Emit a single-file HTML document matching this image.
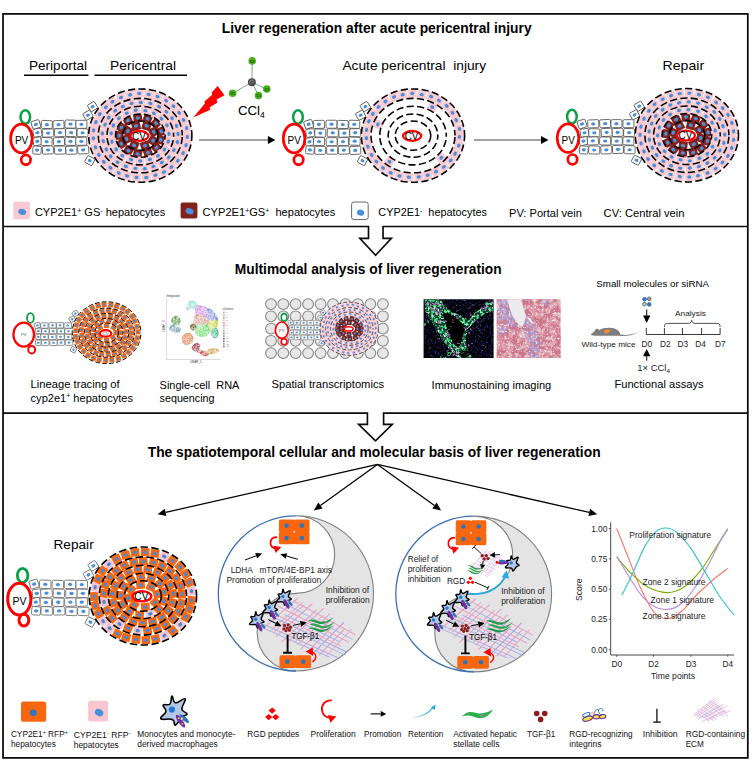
<!DOCTYPE html>
<html lang="en"><head><meta charset="utf-8"><title>Liver regeneration after acute pericentral injury</title>
<style>html,body{margin:0;padding:0;background:#fff}svg{display:block}</style></head>
<body>
<svg width="752" height="761" viewBox="0 0 752 761" font-family='"Liberation Sans", sans-serif'>
<rect width="752" height="761" fill="#fff"/>
<g fill="none" stroke="#0a0a0a" stroke-width="1.75" stroke-linejoin="miter">
<rect x="3.05" y="13.9" width="744.75" height="744"/>
<path d="M3 226.5H368.5V238.3H359.8L375.6 255.2L391.4 238.3H383.05V226.5H748" stroke-width="1.65"/>
<path d="M3 413.1H367.4V424.3H358.6L375.5 440.8L392.3 424.3H383.6V413.1H748" stroke-width="1.65"/>
</g>
<text x="221.8" y="33" font-size="13.75" font-weight="bold" text-anchor="start" fill="#000" textLength="309.8" lengthAdjust="spacingAndGlyphs" >Liver regeneration after acute pericentral injury</text>
<text x="29" y="70.2" font-size="13.5" font-weight="normal" text-anchor="start" fill="#000" textLength="58" lengthAdjust="spacingAndGlyphs" >Periportal</text>
<line x1="24" y1="75.3" x2="88.5" y2="75.3" stroke="#000" stroke-width="1.5"/>
<text x="110" y="70.2" font-size="13.5" font-weight="normal" text-anchor="start" fill="#000" textLength="66" lengthAdjust="spacingAndGlyphs" >Pericentral</text>
<line x1="94.5" y1="75.3" x2="187" y2="75.3" stroke="#000" stroke-width="1.5"/>
<g transform="translate(0 0) scale(1)">
<g transform="translate(35.89 124.48) rotate(-18)"><rect x="-4.2" y="-4" width="8.4" height="8" rx="1.2" fill="#fff" stroke="#4a4a4a" stroke-width="0.8"/><ellipse rx="2.1" ry="1.6" fill="#4a90d9"/></g>
<g transform="translate(46.79 124.55) rotate(2.65)"><rect x="-5.5" y="-4" width="11" height="8" rx="1.2" fill="#fff" stroke="#4a4a4a" stroke-width="0.8"/><ellipse rx="2.1" ry="1.6" fill="#4a90d9"/></g>
<g transform="translate(58.57 124.57) rotate(-2.83)"><rect x="-5.5" y="-4" width="11" height="8" rx="1.2" fill="#fff" stroke="#4a4a4a" stroke-width="0.8"/><ellipse rx="2.1" ry="1.6" fill="#4a90d9"/></g>
<g transform="translate(70.52 124.07) rotate(0.89)"><rect x="-5.5" y="-4" width="11" height="8" rx="1.2" fill="#fff" stroke="#4a4a4a" stroke-width="0.8"/><ellipse rx="2.1" ry="1.6" fill="#4a90d9"/></g>
<g transform="translate(81.4 124.33) rotate(-0.19)"><rect x="-5.5" y="-4" width="11" height="8" rx="1.2" fill="#fff" stroke="#4a4a4a" stroke-width="0.8"/><ellipse rx="2.1" ry="1.6" fill="#4a90d9"/></g>
<g transform="translate(37.41 132.73) rotate(-8)"><rect x="-4.2" y="-4" width="8.4" height="8" rx="1.2" fill="#fff" stroke="#4a4a4a" stroke-width="0.8"/><ellipse rx="2.1" ry="1.6" fill="#4a90d9"/></g>
<g transform="translate(48.13 133.06) rotate(-1.32)"><rect x="-5.5" y="-4" width="11" height="8" rx="1.2" fill="#fff" stroke="#4a4a4a" stroke-width="0.8"/><ellipse rx="2.1" ry="1.6" fill="#4a90d9"/></g>
<g transform="translate(60.04 132.68) rotate(-2.04)"><rect x="-5.5" y="-4" width="11" height="8" rx="1.2" fill="#fff" stroke="#4a4a4a" stroke-width="0.8"/><ellipse rx="2.1" ry="1.6" fill="#4a90d9"/></g>
<g transform="translate(71.1 132.6) rotate(0.7)"><rect x="-5.5" y="-4" width="11" height="8" rx="1.2" fill="#fff" stroke="#4a4a4a" stroke-width="0.8"/><ellipse rx="2.1" ry="1.6" fill="#4a90d9"/></g>
<g transform="translate(82.57 132.73) rotate(2.23)"><rect x="-5.5" y="-4" width="11" height="8" rx="1.2" fill="#fff" stroke="#4a4a4a" stroke-width="0.8"/><ellipse rx="2.1" ry="1.6" fill="#4a90d9"/></g>
<g transform="translate(37.3 141.37) rotate(-12)"><rect x="-4.2" y="-4" width="8.4" height="8" rx="1.2" fill="#fff" stroke="#4a4a4a" stroke-width="0.8"/><ellipse rx="2.1" ry="1.6" fill="#4a90d9"/></g>
<g transform="translate(46.63 141.61) rotate(2.77)"><rect x="-5.5" y="-4" width="11" height="8" rx="1.2" fill="#fff" stroke="#4a4a4a" stroke-width="0.8"/><ellipse rx="2.1" ry="1.6" fill="#4a90d9"/></g>
<g transform="translate(58.95 141.61) rotate(-1.77)"><rect x="-5.5" y="-4" width="11" height="8" rx="1.2" fill="#fff" stroke="#4a4a4a" stroke-width="0.8"/><ellipse rx="2.1" ry="1.6" fill="#4a90d9"/></g>
<g transform="translate(70.51 141.38) rotate(2.8)"><rect x="-5.5" y="-4" width="11" height="8" rx="1.2" fill="#fff" stroke="#4a4a4a" stroke-width="0.8"/><ellipse rx="2.1" ry="1.6" fill="#4a90d9"/></g>
<g transform="translate(81.33 141.29) rotate(-0.83)"><rect x="-5.5" y="-4" width="11" height="8" rx="1.2" fill="#fff" stroke="#4a4a4a" stroke-width="0.8"/><ellipse rx="2.1" ry="1.6" fill="#4a90d9"/></g>
<g transform="translate(37.04 150.16) rotate(4)"><rect x="-4.2" y="-4" width="8.4" height="8" rx="1.2" fill="#fff" stroke="#4a4a4a" stroke-width="0.8"/><ellipse rx="2.1" ry="1.6" fill="#4a90d9"/></g>
<g transform="translate(47.94 150) rotate(-2.98)"><rect x="-5.5" y="-4" width="11" height="8" rx="1.2" fill="#fff" stroke="#4a4a4a" stroke-width="0.8"/><ellipse rx="2.1" ry="1.6" fill="#4a90d9"/></g>
<g transform="translate(60.05 150.09) rotate(-1.14)"><rect x="-5.5" y="-4" width="11" height="8" rx="1.2" fill="#fff" stroke="#4a4a4a" stroke-width="0.8"/><ellipse rx="2.1" ry="1.6" fill="#4a90d9"/></g>
<g transform="translate(71.38 150.22) rotate(-1.11)"><rect x="-5.5" y="-4" width="11" height="8" rx="1.2" fill="#fff" stroke="#4a4a4a" stroke-width="0.8"/><ellipse rx="2.1" ry="1.6" fill="#4a90d9"/></g>
<g transform="translate(83.18 149.81) rotate(-2.66)"><rect x="-5.5" y="-4" width="11" height="8" rx="1.2" fill="#fff" stroke="#4a4a4a" stroke-width="0.8"/><ellipse rx="2.1" ry="1.6" fill="#4a90d9"/></g>
<g transform="translate(92.6 106.6) rotate(-32)"><rect x="-4.1" y="-3.8" width="8.2" height="7.6" rx="1.1" fill="#fff" stroke="#4a4a4a" stroke-width="0.8"/><ellipse rx="2" ry="1.6" fill="#4a90d9"/></g>
<g transform="translate(88 115.2) rotate(-28)"><rect x="-4.1" y="-3.8" width="8.2" height="7.6" rx="1.1" fill="#fff" stroke="#4a4a4a" stroke-width="0.8"/><ellipse rx="2" ry="1.6" fill="#4a90d9"/></g>
<g transform="translate(89.8 160.6) rotate(28)"><rect x="-4.1" y="-3.8" width="8.2" height="7.6" rx="1.1" fill="#fff" stroke="#4a4a4a" stroke-width="0.8"/><ellipse rx="2" ry="1.6" fill="#4a90d9"/></g>
<ellipse cx="25.3" cy="117" rx="4.8" ry="6.8" fill="#fff" stroke="#0a9f45" stroke-width="2.5"/>
<ellipse cx="25.9" cy="159.8" rx="4.7" ry="4.9" fill="#fff" stroke="#f00" stroke-width="2.7"/>
<ellipse cx="21.4" cy="138.5" rx="10.8" ry="14.3" fill="#fff" stroke="#f00" stroke-width="2.7"/>
<text x="21.6" y="144.3" font-size="10" font-weight="normal" text-anchor="middle" fill="#000" >PV</text>
</g>
<ellipse cx="140.3" cy="135.6" rx="51.6" ry="46.7" fill="#fff"/>
<g transform="translate(153.02 140.53) rotate(122.56)"><rect x="-4.35" y="-4.35" width="8.7" height="8.7" rx="0.6" fill="#82221e"/><ellipse rx="2.15" ry="1.7" fill="#4a90d9"/></g>
<g transform="translate(144.91 145.67) rotate(162.28)"><rect x="-4.35" y="-4.35" width="8.7" height="8.7" rx="0.6" fill="#82221e"/><ellipse rx="2.15" ry="1.7" fill="#4a90d9"/></g>
<g transform="translate(134.15 145.22) rotate(-157.02)"><rect x="-4.35" y="-4.35" width="8.7" height="8.7" rx="0.6" fill="#82221e"/><ellipse rx="2.15" ry="1.7" fill="#4a90d9"/></g>
<g transform="translate(126.69 138.92) rotate(-118.82)"><rect x="-4.35" y="-4.35" width="8.7" height="8.7" rx="0.6" fill="#82221e"/><ellipse rx="2.15" ry="1.7" fill="#4a90d9"/></g>
<g transform="translate(127.84 131.11) rotate(-61.68)"><rect x="-4.35" y="-4.35" width="8.7" height="8.7" rx="0.6" fill="#82221e"/><ellipse rx="2.15" ry="1.7" fill="#4a90d9"/></g>
<g transform="translate(136.03 125.92) rotate(-13.03)"><rect x="-4.35" y="-4.35" width="8.7" height="8.7" rx="0.6" fill="#82221e"/><ellipse rx="2.15" ry="1.7" fill="#4a90d9"/></g>
<g transform="translate(146.54 125.83) rotate(15.2)"><rect x="-4.35" y="-4.35" width="8.7" height="8.7" rx="0.6" fill="#82221e"/><ellipse rx="2.15" ry="1.7" fill="#4a90d9"/></g>
<g transform="translate(153.65 131.83) rotate(62.18)"><rect x="-4.35" y="-4.35" width="8.7" height="8.7" rx="0.6" fill="#82221e"/><ellipse rx="2.15" ry="1.7" fill="#4a90d9"/></g>
<g transform="translate(160.65 139.92) rotate(105.58)"><rect x="-4.35" y="-4.35" width="8.7" height="8.7" rx="0.6" fill="#82221e"/><ellipse rx="2.15" ry="1.7" fill="#4a90d9"/></g>
<g transform="translate(156.48 147.63) rotate(137.58)"><rect x="-4.35" y="-4.35" width="8.7" height="8.7" rx="0.6" fill="#82221e"/><ellipse rx="2.15" ry="1.7" fill="#4a90d9"/></g>
<g transform="translate(147.85 152.66) rotate(161.71)"><rect x="-4.35" y="-4.35" width="8.7" height="8.7" rx="0.6" fill="#82221e"/><ellipse rx="2.15" ry="1.7" fill="#4a90d9"/></g>
<g transform="translate(137.57 153.94) rotate(-169.13)"><rect x="-4.35" y="-4.35" width="8.7" height="8.7" rx="0.6" fill="#82221e"/><ellipse rx="2.15" ry="1.7" fill="#4a90d9"/></g>
<g transform="translate(128.43 150.65) rotate(-151.41)"><rect x="-4.35" y="-4.35" width="8.7" height="8.7" rx="0.6" fill="#82221e"/><ellipse rx="2.15" ry="1.7" fill="#4a90d9"/></g>
<g transform="translate(121.25 143.87) rotate(-125.95)"><rect x="-4.35" y="-4.35" width="8.7" height="8.7" rx="0.6" fill="#82221e"/><ellipse rx="2.15" ry="1.7" fill="#4a90d9"/></g>
<g transform="translate(119.19 135.53) rotate(-86.52)"><rect x="-4.35" y="-4.35" width="8.7" height="8.7" rx="0.6" fill="#82221e"/><ellipse rx="2.15" ry="1.7" fill="#4a90d9"/></g>
<g transform="translate(121.36 127.5) rotate(-54.84)"><rect x="-4.35" y="-4.35" width="8.7" height="8.7" rx="0.6" fill="#82221e"/><ellipse rx="2.15" ry="1.7" fill="#4a90d9"/></g>
<g transform="translate(127.86 120.48) rotate(-26.3)"><rect x="-4.35" y="-4.35" width="8.7" height="8.7" rx="0.6" fill="#82221e"/><ellipse rx="2.15" ry="1.7" fill="#4a90d9"/></g>
<g transform="translate(137.72 117.95) rotate(-6.91)"><rect x="-4.35" y="-4.35" width="8.7" height="8.7" rx="0.6" fill="#82221e"/><ellipse rx="2.15" ry="1.7" fill="#4a90d9"/></g>
<g transform="translate(147.56 118.75) rotate(20.68)"><rect x="-4.35" y="-4.35" width="8.7" height="8.7" rx="0.6" fill="#82221e"/><ellipse rx="2.15" ry="1.7" fill="#4a90d9"/></g>
<g transform="translate(156.09 123.3) rotate(42.18)"><rect x="-4.35" y="-4.35" width="8.7" height="8.7" rx="0.6" fill="#82221e"/><ellipse rx="2.15" ry="1.7" fill="#4a90d9"/></g>
<g transform="translate(161.31 131.45) rotate(70.04)"><rect x="-4.35" y="-4.35" width="8.7" height="8.7" rx="0.6" fill="#82221e"/><ellipse rx="2.15" ry="1.7" fill="#4a90d9"/></g>
<g transform="translate(168.19 141.51) rotate(108.96)"><rect x="-4.35" y="-4.35" width="8.7" height="8.7" rx="0.6" fill="#facad2"/><ellipse rx="2.15" ry="1.7" fill="#4a90d9"/></g>
<g transform="translate(164.42 149.55) rotate(126.03)"><rect x="-4.35" y="-4.35" width="8.7" height="8.7" rx="0.6" fill="#facad2"/><ellipse rx="2.15" ry="1.7" fill="#4a90d9"/></g>
<g transform="translate(157.96 155.86) rotate(141.88)"><rect x="-4.35" y="-4.35" width="8.7" height="8.7" rx="0.6" fill="#facad2"/><ellipse rx="2.15" ry="1.7" fill="#4a90d9"/></g>
<g transform="translate(149.88 159.44) rotate(162.35)"><rect x="-4.35" y="-4.35" width="8.7" height="8.7" rx="0.6" fill="#facad2"/><ellipse rx="2.15" ry="1.7" fill="#4a90d9"/></g>
<g transform="translate(140.15 160.94) rotate(184.63)"><rect x="-4.35" y="-4.35" width="8.7" height="8.7" rx="0.6" fill="#facad2"/><ellipse rx="2.15" ry="1.7" fill="#4a90d9"/></g>
<g transform="translate(131.12 159.6) rotate(-159.46)"><rect x="-4.35" y="-4.35" width="8.7" height="8.7" rx="0.6" fill="#facad2"/><ellipse rx="2.15" ry="1.7" fill="#4a90d9"/></g>
<g transform="translate(122.29 155.68) rotate(-142.2)"><rect x="-4.35" y="-4.35" width="8.7" height="8.7" rx="0.6" fill="#facad2"/><ellipse rx="2.15" ry="1.7" fill="#4a90d9"/></g>
<g transform="translate(116.11 149.3) rotate(-121.86)"><rect x="-4.35" y="-4.35" width="8.7" height="8.7" rx="0.6" fill="#facad2"/><ellipse rx="2.15" ry="1.7" fill="#4a90d9"/></g>
<g transform="translate(111.95 141.73) rotate(-103.47)"><rect x="-4.35" y="-4.35" width="8.7" height="8.7" rx="0.6" fill="#facad2"/><ellipse rx="2.15" ry="1.7" fill="#4a90d9"/></g>
<g transform="translate(111.23 133.39) rotate(-88.98)"><rect x="-4.35" y="-4.35" width="8.7" height="8.7" rx="0.6" fill="#facad2"/><ellipse rx="2.15" ry="1.7" fill="#4a90d9"/></g>
<g transform="translate(113.39 125.45) rotate(-66.12)"><rect x="-4.35" y="-4.35" width="8.7" height="8.7" rx="0.6" fill="#facad2"/><ellipse rx="2.15" ry="1.7" fill="#4a90d9"/></g>
<g transform="translate(118.97 118.27) rotate(-44.2)"><rect x="-4.35" y="-4.35" width="8.7" height="8.7" rx="0.6" fill="#facad2"/><ellipse rx="2.15" ry="1.7" fill="#4a90d9"/></g>
<g transform="translate(126.75 113.18) rotate(-24.75)"><rect x="-4.35" y="-4.35" width="8.7" height="8.7" rx="0.6" fill="#facad2"/><ellipse rx="2.15" ry="1.7" fill="#4a90d9"/></g>
<g transform="translate(135.73 110.23) rotate(-11.88)"><rect x="-4.35" y="-4.35" width="8.7" height="8.7" rx="0.6" fill="#facad2"/><ellipse rx="2.15" ry="1.7" fill="#4a90d9"/></g>
<g transform="translate(145.32 110.66) rotate(5.75)"><rect x="-4.35" y="-4.35" width="8.7" height="8.7" rx="0.6" fill="#facad2"/><ellipse rx="2.15" ry="1.7" fill="#4a90d9"/></g>
<g transform="translate(153.87 113.32) rotate(29.73)"><rect x="-4.35" y="-4.35" width="8.7" height="8.7" rx="0.6" fill="#facad2"/><ellipse rx="2.15" ry="1.7" fill="#4a90d9"/></g>
<g transform="translate(161.43 118.61) rotate(47.37)"><rect x="-4.35" y="-4.35" width="8.7" height="8.7" rx="0.6" fill="#facad2"/><ellipse rx="2.15" ry="1.7" fill="#4a90d9"/></g>
<g transform="translate(166.96 125.26) rotate(59.39)"><rect x="-4.35" y="-4.35" width="8.7" height="8.7" rx="0.6" fill="#facad2"/><ellipse rx="2.15" ry="1.7" fill="#4a90d9"/></g>
<g transform="translate(168.92 133.78) rotate(81.89)"><rect x="-4.35" y="-4.35" width="8.7" height="8.7" rx="0.6" fill="#facad2"/><ellipse rx="2.15" ry="1.7" fill="#4a90d9"/></g>
<g transform="translate(168.81 157.37) rotate(134.87)"><rect x="-4.35" y="-4.35" width="8.7" height="8.7" rx="0.6" fill="#facad2"/><ellipse rx="2.15" ry="1.7" fill="#4a90d9"/></g>
<g transform="translate(161.87 162.54) rotate(150.25)"><rect x="-4.35" y="-4.35" width="8.7" height="8.7" rx="0.6" fill="#facad2"/><ellipse rx="2.15" ry="1.7" fill="#4a90d9"/></g>
<g transform="translate(153.39 166.49) rotate(162.02)"><rect x="-4.35" y="-4.35" width="8.7" height="8.7" rx="0.6" fill="#facad2"/><ellipse rx="2.15" ry="1.7" fill="#4a90d9"/></g>
<g transform="translate(144.76 168.73) rotate(172.12)"><rect x="-4.35" y="-4.35" width="8.7" height="8.7" rx="0.6" fill="#facad2"/><ellipse rx="2.15" ry="1.7" fill="#4a90d9"/></g>
<g transform="translate(135.37 168.33) rotate(-177.79)"><rect x="-4.35" y="-4.35" width="8.7" height="8.7" rx="0.6" fill="#facad2"/><ellipse rx="2.15" ry="1.7" fill="#4a90d9"/></g>
<g transform="translate(125.81 166.31) rotate(-164.42)"><rect x="-4.35" y="-4.35" width="8.7" height="8.7" rx="0.6" fill="#facad2"/><ellipse rx="2.15" ry="1.7" fill="#4a90d9"/></g>
<g transform="translate(117.54 162.15) rotate(-145.85)"><rect x="-4.35" y="-4.35" width="8.7" height="8.7" rx="0.6" fill="#facad2"/><ellipse rx="2.15" ry="1.7" fill="#4a90d9"/></g>
<g transform="translate(110.71 156.36) rotate(-128.43)"><rect x="-4.35" y="-4.35" width="8.7" height="8.7" rx="0.6" fill="#facad2"/><ellipse rx="2.15" ry="1.7" fill="#4a90d9"/></g>
<g transform="translate(106.36 149.46) rotate(-115.3)"><rect x="-4.35" y="-4.35" width="8.7" height="8.7" rx="0.6" fill="#facad2"/><ellipse rx="2.15" ry="1.7" fill="#4a90d9"/></g>
<g transform="translate(103.28 141.14) rotate(-105.97)"><rect x="-4.35" y="-4.35" width="8.7" height="8.7" rx="0.6" fill="#facad2"/><ellipse rx="2.15" ry="1.7" fill="#4a90d9"/></g>
<g transform="translate(102.42 133.35) rotate(-83.05)"><rect x="-4.35" y="-4.35" width="8.7" height="8.7" rx="0.6" fill="#facad2"/><ellipse rx="2.15" ry="1.7" fill="#4a90d9"/></g>
<g transform="translate(104.98 124.56) rotate(-67.59)"><rect x="-4.35" y="-4.35" width="8.7" height="8.7" rx="0.6" fill="#facad2"/><ellipse rx="2.15" ry="1.7" fill="#4a90d9"/></g>
<g transform="translate(108.77 117.57) rotate(-55.31)"><rect x="-4.35" y="-4.35" width="8.7" height="8.7" rx="0.6" fill="#facad2"/><ellipse rx="2.15" ry="1.7" fill="#4a90d9"/></g>
<g transform="translate(115.25 110.76) rotate(-38.46)"><rect x="-4.35" y="-4.35" width="8.7" height="8.7" rx="0.6" fill="#facad2"/><ellipse rx="2.15" ry="1.7" fill="#4a90d9"/></g>
<g transform="translate(122.77 106.53) rotate(-22.81)"><rect x="-4.35" y="-4.35" width="8.7" height="8.7" rx="0.6" fill="#facad2"/><ellipse rx="2.15" ry="1.7" fill="#4a90d9"/></g>
<g transform="translate(131.57 103.49) rotate(-7.94)"><rect x="-4.35" y="-4.35" width="8.7" height="8.7" rx="0.6" fill="#facad2"/><ellipse rx="2.15" ry="1.7" fill="#4a90d9"/></g>
<g transform="translate(140.7 102.48) rotate(4.69)"><rect x="-4.35" y="-4.35" width="8.7" height="8.7" rx="0.6" fill="#facad2"/><ellipse rx="2.15" ry="1.7" fill="#4a90d9"/></g>
<g transform="translate(150.41 103.45) rotate(16.37)"><rect x="-4.35" y="-4.35" width="8.7" height="8.7" rx="0.6" fill="#facad2"/><ellipse rx="2.15" ry="1.7" fill="#4a90d9"/></g>
<g transform="translate(159.13 106.73) rotate(27.87)"><rect x="-4.35" y="-4.35" width="8.7" height="8.7" rx="0.6" fill="#facad2"/><ellipse rx="2.15" ry="1.7" fill="#4a90d9"/></g>
<g transform="translate(166.36 111.72) rotate(41.52)"><rect x="-4.35" y="-4.35" width="8.7" height="8.7" rx="0.6" fill="#facad2"/><ellipse rx="2.15" ry="1.7" fill="#4a90d9"/></g>
<g transform="translate(172.06 118.26) rotate(60.04)"><rect x="-4.35" y="-4.35" width="8.7" height="8.7" rx="0.6" fill="#facad2"/><ellipse rx="2.15" ry="1.7" fill="#4a90d9"/></g>
<g transform="translate(176.53 125.91) rotate(69.54)"><rect x="-4.35" y="-4.35" width="8.7" height="8.7" rx="0.6" fill="#facad2"/><ellipse rx="2.15" ry="1.7" fill="#4a90d9"/></g>
<g transform="translate(178.07 134.01) rotate(86.2)"><rect x="-4.35" y="-4.35" width="8.7" height="8.7" rx="0.6" fill="#facad2"/><ellipse rx="2.15" ry="1.7" fill="#4a90d9"/></g>
<g transform="translate(177.42 141.98) rotate(105.55)"><rect x="-4.35" y="-4.35" width="8.7" height="8.7" rx="0.6" fill="#facad2"/><ellipse rx="2.15" ry="1.7" fill="#4a90d9"/></g>
<g transform="translate(173.82 150.23) rotate(118.68)"><rect x="-4.35" y="-4.35" width="8.7" height="8.7" rx="0.6" fill="#facad2"/><ellipse rx="2.15" ry="1.7" fill="#4a90d9"/></g>
<g transform="translate(186 145.18) rotate(105.79)"><rect x="-4.35" y="-4.35" width="8.7" height="8.7" rx="0.6" fill="#facad2"/><ellipse rx="2.15" ry="1.7" fill="#4a90d9"/></g>
<g transform="translate(183.08 153.04) rotate(112.37)"><rect x="-4.35" y="-4.35" width="8.7" height="8.7" rx="0.6" fill="#facad2"/><ellipse rx="2.15" ry="1.7" fill="#4a90d9"/></g>
<g transform="translate(177.82 160.64) rotate(126.46)"><rect x="-4.35" y="-4.35" width="8.7" height="8.7" rx="0.6" fill="#facad2"/><ellipse rx="2.15" ry="1.7" fill="#4a90d9"/></g>
<g transform="translate(171.37 167.09) rotate(142.71)"><rect x="-4.35" y="-4.35" width="8.7" height="8.7" rx="0.6" fill="#facad2"/><ellipse rx="2.15" ry="1.7" fill="#4a90d9"/></g>
<g transform="translate(163.91 172.09) rotate(150.56)"><rect x="-4.35" y="-4.35" width="8.7" height="8.7" rx="0.6" fill="#facad2"/><ellipse rx="2.15" ry="1.7" fill="#4a90d9"/></g>
<g transform="translate(155.46 175.14) rotate(162.38)"><rect x="-4.35" y="-4.35" width="8.7" height="8.7" rx="0.6" fill="#facad2"/><ellipse rx="2.15" ry="1.7" fill="#4a90d9"/></g>
<g transform="translate(146.32 177.54) rotate(177.4)"><rect x="-4.35" y="-4.35" width="8.7" height="8.7" rx="0.6" fill="#facad2"/><ellipse rx="2.15" ry="1.7" fill="#4a90d9"/></g>
<g transform="translate(136.56 177.5) rotate(-177.81)"><rect x="-4.35" y="-4.35" width="8.7" height="8.7" rx="0.6" fill="#facad2"/><ellipse rx="2.15" ry="1.7" fill="#4a90d9"/></g>
<g transform="translate(127.07 175.93) rotate(-162.12)"><rect x="-4.35" y="-4.35" width="8.7" height="8.7" rx="0.6" fill="#facad2"/><ellipse rx="2.15" ry="1.7" fill="#4a90d9"/></g>
<g transform="translate(118.78 172.91) rotate(-150.28)"><rect x="-4.35" y="-4.35" width="8.7" height="8.7" rx="0.6" fill="#facad2"/><ellipse rx="2.15" ry="1.7" fill="#4a90d9"/></g>
<g transform="translate(110.49 167.84) rotate(-144.19)"><rect x="-4.35" y="-4.35" width="8.7" height="8.7" rx="0.6" fill="#facad2"/><ellipse rx="2.15" ry="1.7" fill="#4a90d9"/></g>
<g transform="translate(103.81 161.85) rotate(-133.01)"><rect x="-4.35" y="-4.35" width="8.7" height="8.7" rx="0.6" fill="#facad2"/><ellipse rx="2.15" ry="1.7" fill="#4a90d9"/></g>
<g transform="translate(98.86 154.95) rotate(-121.93)"><rect x="-4.35" y="-4.35" width="8.7" height="8.7" rx="0.6" fill="#facad2"/><ellipse rx="2.15" ry="1.7" fill="#4a90d9"/></g>
<g transform="translate(95.51 147.4) rotate(-108.03)"><rect x="-4.35" y="-4.35" width="8.7" height="8.7" rx="0.6" fill="#facad2"/><ellipse rx="2.15" ry="1.7" fill="#4a90d9"/></g>
<g transform="translate(93.33 138.37) rotate(-90.98)"><rect x="-4.35" y="-4.35" width="8.7" height="8.7" rx="0.6" fill="#facad2"/><ellipse rx="2.15" ry="1.7" fill="#4a90d9"/></g>
<g transform="translate(93.57 130.35) rotate(-81.07)"><rect x="-4.35" y="-4.35" width="8.7" height="8.7" rx="0.6" fill="#facad2"/><ellipse rx="2.15" ry="1.7" fill="#4a90d9"/></g>
<g transform="translate(95.92 122.14) rotate(-73.81)"><rect x="-4.35" y="-4.35" width="8.7" height="8.7" rx="0.6" fill="#facad2"/><ellipse rx="2.15" ry="1.7" fill="#4a90d9"/></g>
<g transform="translate(99.77 114.2) rotate(-61.34)"><rect x="-4.35" y="-4.35" width="8.7" height="8.7" rx="0.6" fill="#facad2"/><ellipse rx="2.15" ry="1.7" fill="#4a90d9"/></g>
<g transform="translate(105.87 107.21) rotate(-48.25)"><rect x="-4.35" y="-4.35" width="8.7" height="8.7" rx="0.6" fill="#facad2"/><ellipse rx="2.15" ry="1.7" fill="#4a90d9"/></g>
<g transform="translate(112.37 101.8) rotate(-33.78)"><rect x="-4.35" y="-4.35" width="8.7" height="8.7" rx="0.6" fill="#facad2"/><ellipse rx="2.15" ry="1.7" fill="#4a90d9"/></g>
<g transform="translate(120.95 97.53) rotate(-19.2)"><rect x="-4.35" y="-4.35" width="8.7" height="8.7" rx="0.6" fill="#facad2"/><ellipse rx="2.15" ry="1.7" fill="#4a90d9"/></g>
<g transform="translate(130.14 94.82) rotate(-14.65)"><rect x="-4.35" y="-4.35" width="8.7" height="8.7" rx="0.6" fill="#facad2"/><ellipse rx="2.15" ry="1.7" fill="#4a90d9"/></g>
<g transform="translate(139.2 93.41) rotate(-6.08)"><rect x="-4.35" y="-4.35" width="8.7" height="8.7" rx="0.6" fill="#facad2"/><ellipse rx="2.15" ry="1.7" fill="#4a90d9"/></g>
<g transform="translate(148.64 94.45) rotate(6.04)"><rect x="-4.35" y="-4.35" width="8.7" height="8.7" rx="0.6" fill="#facad2"/><ellipse rx="2.15" ry="1.7" fill="#4a90d9"/></g>
<g transform="translate(157.6 96.55) rotate(21.8)"><rect x="-4.35" y="-4.35" width="8.7" height="8.7" rx="0.6" fill="#facad2"/><ellipse rx="2.15" ry="1.7" fill="#4a90d9"/></g>
<g transform="translate(166.15 100.68) rotate(33.27)"><rect x="-4.35" y="-4.35" width="8.7" height="8.7" rx="0.6" fill="#facad2"/><ellipse rx="2.15" ry="1.7" fill="#4a90d9"/></g>
<g transform="translate(173.39 106.19) rotate(46.08)"><rect x="-4.35" y="-4.35" width="8.7" height="8.7" rx="0.6" fill="#facad2"/><ellipse rx="2.15" ry="1.7" fill="#4a90d9"/></g>
<g transform="translate(179.14 112.88) rotate(56.04)"><rect x="-4.35" y="-4.35" width="8.7" height="8.7" rx="0.6" fill="#facad2"/><ellipse rx="2.15" ry="1.7" fill="#4a90d9"/></g>
<g transform="translate(183.54 120.08) rotate(67.38)"><rect x="-4.35" y="-4.35" width="8.7" height="8.7" rx="0.6" fill="#facad2"/><ellipse rx="2.15" ry="1.7" fill="#4a90d9"/></g>
<g transform="translate(186.67 128.2) rotate(79.53)"><rect x="-4.35" y="-4.35" width="8.7" height="8.7" rx="0.6" fill="#facad2"/><ellipse rx="2.15" ry="1.7" fill="#4a90d9"/></g>
<g transform="translate(187.35 136.96) rotate(96.2)"><rect x="-4.35" y="-4.35" width="8.7" height="8.7" rx="0.6" fill="#facad2"/><ellipse rx="2.15" ry="1.7" fill="#4a90d9"/></g>
<ellipse cx="140.3" cy="135.6" rx="17.8" ry="14.55" fill="none" stroke="#000" stroke-width="1.55" stroke-dasharray="7.2 3.3" stroke-dashoffset="0"/>
<ellipse cx="140.3" cy="135.6" rx="24.8" ry="21.64" fill="none" stroke="#000" stroke-width="1.55" stroke-dasharray="7.2 3.3" stroke-dashoffset="3"/>
<ellipse cx="140.3" cy="135.6" rx="33.3" ry="29.29" fill="none" stroke="#000" stroke-width="1.55" stroke-dasharray="7.2 3.3" stroke-dashoffset="6"/>
<ellipse cx="140.3" cy="135.6" rx="42" ry="37.25" fill="none" stroke="#000" stroke-width="1.55" stroke-dasharray="7.2 3.3" stroke-dashoffset="9"/>
<ellipse cx="140.3" cy="135.6" rx="51.6" ry="46.7" fill="none" stroke="#000" stroke-width="1.55" stroke-dasharray="7.2 3.3" stroke-dashoffset="12"/>
<ellipse cx="139.4" cy="135.9" rx="9" ry="4.9" fill="#fff" stroke="#f00" stroke-width="2.3"/>
<text x="138.9" y="139.5" font-size="10" font-weight="normal" text-anchor="middle" fill="#000" >CV</text>
<g transform="translate(272.7 0) scale(1)">
<g transform="translate(35.96 124.29) rotate(-18)"><rect x="-4.2" y="-4" width="8.4" height="8" rx="1.2" fill="#fff" stroke="#4a4a4a" stroke-width="0.8"/><ellipse rx="2.1" ry="1.6" fill="#4a90d9"/></g>
<g transform="translate(46.2 124.4) rotate(-1.43)"><rect x="-5.5" y="-4" width="11" height="8" rx="1.2" fill="#fff" stroke="#4a4a4a" stroke-width="0.8"/><ellipse rx="2.1" ry="1.6" fill="#4a90d9"/></g>
<g transform="translate(58.81 124.22) rotate(-0.18)"><rect x="-5.5" y="-4" width="11" height="8" rx="1.2" fill="#fff" stroke="#4a4a4a" stroke-width="0.8"/><ellipse rx="2.1" ry="1.6" fill="#4a90d9"/></g>
<g transform="translate(70.02 124.48) rotate(1.62)"><rect x="-5.5" y="-4" width="11" height="8" rx="1.2" fill="#fff" stroke="#4a4a4a" stroke-width="0.8"/><ellipse rx="2.1" ry="1.6" fill="#4a90d9"/></g>
<g transform="translate(81.53 124.32) rotate(1.38)"><rect x="-5.5" y="-4" width="11" height="8" rx="1.2" fill="#fff" stroke="#4a4a4a" stroke-width="0.8"/><ellipse rx="2.1" ry="1.6" fill="#4a90d9"/></g>
<g transform="translate(37.55 132.93) rotate(-8)"><rect x="-4.2" y="-4" width="8.4" height="8" rx="1.2" fill="#fff" stroke="#4a4a4a" stroke-width="0.8"/><ellipse rx="2.1" ry="1.6" fill="#4a90d9"/></g>
<g transform="translate(47.61 133.08) rotate(1.83)"><rect x="-5.5" y="-4" width="11" height="8" rx="1.2" fill="#fff" stroke="#4a4a4a" stroke-width="0.8"/><ellipse rx="2.1" ry="1.6" fill="#4a90d9"/></g>
<g transform="translate(60.08 132.8) rotate(1.11)"><rect x="-5.5" y="-4" width="11" height="8" rx="1.2" fill="#fff" stroke="#4a4a4a" stroke-width="0.8"/><ellipse rx="2.1" ry="1.6" fill="#4a90d9"/></g>
<g transform="translate(71.64 133.08) rotate(-2.44)"><rect x="-5.5" y="-4" width="11" height="8" rx="1.2" fill="#fff" stroke="#4a4a4a" stroke-width="0.8"/><ellipse rx="2.1" ry="1.6" fill="#4a90d9"/></g>
<g transform="translate(82.48 132.72) rotate(-0.33)"><rect x="-5.5" y="-4" width="11" height="8" rx="1.2" fill="#fff" stroke="#4a4a4a" stroke-width="0.8"/><ellipse rx="2.1" ry="1.6" fill="#4a90d9"/></g>
<g transform="translate(36.83 141.77) rotate(-12)"><rect x="-4.2" y="-4" width="8.4" height="8" rx="1.2" fill="#fff" stroke="#4a4a4a" stroke-width="0.8"/><ellipse rx="2.1" ry="1.6" fill="#4a90d9"/></g>
<g transform="translate(46.36 141.59) rotate(0.53)"><rect x="-5.5" y="-4" width="11" height="8" rx="1.2" fill="#fff" stroke="#4a4a4a" stroke-width="0.8"/><ellipse rx="2.1" ry="1.6" fill="#4a90d9"/></g>
<g transform="translate(58.95 141.75) rotate(-0.84)"><rect x="-5.5" y="-4" width="11" height="8" rx="1.2" fill="#fff" stroke="#4a4a4a" stroke-width="0.8"/><ellipse rx="2.1" ry="1.6" fill="#4a90d9"/></g>
<g transform="translate(70.32 141.62) rotate(0.09)"><rect x="-5.5" y="-4" width="11" height="8" rx="1.2" fill="#fff" stroke="#4a4a4a" stroke-width="0.8"/><ellipse rx="2.1" ry="1.6" fill="#4a90d9"/></g>
<g transform="translate(81.98 141.22) rotate(1.83)"><rect x="-5.5" y="-4" width="11" height="8" rx="1.2" fill="#fff" stroke="#4a4a4a" stroke-width="0.8"/><ellipse rx="2.1" ry="1.6" fill="#4a90d9"/></g>
<g transform="translate(37.28 149.98) rotate(4)"><rect x="-4.2" y="-4" width="8.4" height="8" rx="1.2" fill="#fff" stroke="#4a4a4a" stroke-width="0.8"/><ellipse rx="2.1" ry="1.6" fill="#4a90d9"/></g>
<g transform="translate(47.47 150.33) rotate(0.53)"><rect x="-5.5" y="-4" width="11" height="8" rx="1.2" fill="#fff" stroke="#4a4a4a" stroke-width="0.8"/><ellipse rx="2.1" ry="1.6" fill="#4a90d9"/></g>
<g transform="translate(59.49 150.2) rotate(0.15)"><rect x="-5.5" y="-4" width="11" height="8" rx="1.2" fill="#fff" stroke="#4a4a4a" stroke-width="0.8"/><ellipse rx="2.1" ry="1.6" fill="#4a90d9"/></g>
<g transform="translate(71.16 150.09) rotate(-1.13)"><rect x="-5.5" y="-4" width="11" height="8" rx="1.2" fill="#fff" stroke="#4a4a4a" stroke-width="0.8"/><ellipse rx="2.1" ry="1.6" fill="#4a90d9"/></g>
<g transform="translate(82.57 150.32) rotate(-2.17)"><rect x="-5.5" y="-4" width="11" height="8" rx="1.2" fill="#fff" stroke="#4a4a4a" stroke-width="0.8"/><ellipse rx="2.1" ry="1.6" fill="#4a90d9"/></g>
<g transform="translate(92.6 106.6) rotate(-32)"><rect x="-4.1" y="-3.8" width="8.2" height="7.6" rx="1.1" fill="#fff" stroke="#4a4a4a" stroke-width="0.8"/><ellipse rx="2" ry="1.6" fill="#4a90d9"/></g>
<g transform="translate(88 115.2) rotate(-28)"><rect x="-4.1" y="-3.8" width="8.2" height="7.6" rx="1.1" fill="#fff" stroke="#4a4a4a" stroke-width="0.8"/><ellipse rx="2" ry="1.6" fill="#4a90d9"/></g>
<g transform="translate(89.8 160.6) rotate(28)"><rect x="-4.1" y="-3.8" width="8.2" height="7.6" rx="1.1" fill="#fff" stroke="#4a4a4a" stroke-width="0.8"/><ellipse rx="2" ry="1.6" fill="#4a90d9"/></g>
<ellipse cx="25.3" cy="117" rx="4.8" ry="6.8" fill="#fff" stroke="#0a9f45" stroke-width="2.5"/>
<ellipse cx="25.9" cy="159.8" rx="4.7" ry="4.9" fill="#fff" stroke="#f00" stroke-width="2.7"/>
<ellipse cx="21.4" cy="138.5" rx="10.8" ry="14.3" fill="#fff" stroke="#f00" stroke-width="2.7"/>
<text x="21.6" y="144.3" font-size="10" font-weight="normal" text-anchor="middle" fill="#000" >PV</text>
</g>
<ellipse cx="413" cy="135.6" rx="51.6" ry="46.7" fill="#fff"/>
<g transform="translate(441.27 157.79) rotate(131.56)"><rect x="-4.35" y="-4.35" width="8.7" height="8.7" rx="0.6" fill="#facad2"/><ellipse rx="2.15" ry="1.7" fill="#4a90d9"/></g>
<g transform="translate(389.48 161.72) rotate(-147.66)"><rect x="-4.35" y="-4.35" width="8.7" height="8.7" rx="0.6" fill="#facad2"/><ellipse rx="2.15" ry="1.7" fill="#4a90d9"/></g>
<g transform="translate(377.84 124.36) rotate(-66.6)"><rect x="-4.35" y="-4.35" width="8.7" height="8.7" rx="0.6" fill="#facad2"/><ellipse rx="2.15" ry="1.7" fill="#4a90d9"/></g>
<g transform="translate(432.31 107.15) rotate(24.21)"><rect x="-4.35" y="-4.35" width="8.7" height="8.7" rx="0.6" fill="#facad2"/><ellipse rx="2.15" ry="1.7" fill="#4a90d9"/></g>
<g transform="translate(455.1 153.76) rotate(113.29)"><rect x="-4.35" y="-4.35" width="8.7" height="8.7" rx="0.6" fill="#facad2"/><ellipse rx="2.15" ry="1.7" fill="#4a90d9"/></g>
<g transform="translate(450.68 160.46) rotate(131.73)"><rect x="-4.35" y="-4.35" width="8.7" height="8.7" rx="0.6" fill="#facad2"/><ellipse rx="2.15" ry="1.7" fill="#4a90d9"/></g>
<g transform="translate(443.93 166.94) rotate(144.93)"><rect x="-4.35" y="-4.35" width="8.7" height="8.7" rx="0.6" fill="#facad2"/><ellipse rx="2.15" ry="1.7" fill="#4a90d9"/></g>
<g transform="translate(436.03 171.66) rotate(156.82)"><rect x="-4.35" y="-4.35" width="8.7" height="8.7" rx="0.6" fill="#facad2"/><ellipse rx="2.15" ry="1.7" fill="#4a90d9"/></g>
<g transform="translate(427.73 175.16) rotate(168.32)"><rect x="-4.35" y="-4.35" width="8.7" height="8.7" rx="0.6" fill="#facad2"/><ellipse rx="2.15" ry="1.7" fill="#4a90d9"/></g>
<g transform="translate(418.79 177.01) rotate(173.2)"><rect x="-4.35" y="-4.35" width="8.7" height="8.7" rx="0.6" fill="#facad2"/><ellipse rx="2.15" ry="1.7" fill="#4a90d9"/></g>
<g transform="translate(408.75 177.29) rotate(-174.4)"><rect x="-4.35" y="-4.35" width="8.7" height="8.7" rx="0.6" fill="#facad2"/><ellipse rx="2.15" ry="1.7" fill="#4a90d9"/></g>
<g transform="translate(399.47 175.98) rotate(-169.61)"><rect x="-4.35" y="-4.35" width="8.7" height="8.7" rx="0.6" fill="#facad2"/><ellipse rx="2.15" ry="1.7" fill="#4a90d9"/></g>
<g transform="translate(390.71 172.84) rotate(-155.39)"><rect x="-4.35" y="-4.35" width="8.7" height="8.7" rx="0.6" fill="#facad2"/><ellipse rx="2.15" ry="1.7" fill="#4a90d9"/></g>
<g transform="translate(383.03 167.95) rotate(-143.53)"><rect x="-4.35" y="-4.35" width="8.7" height="8.7" rx="0.6" fill="#facad2"/><ellipse rx="2.15" ry="1.7" fill="#4a90d9"/></g>
<g transform="translate(376.37 161.49) rotate(-129.47)"><rect x="-4.35" y="-4.35" width="8.7" height="8.7" rx="0.6" fill="#facad2"/><ellipse rx="2.15" ry="1.7" fill="#4a90d9"/></g>
<g transform="translate(371.64 155.02) rotate(-118.01)"><rect x="-4.35" y="-4.35" width="8.7" height="8.7" rx="0.6" fill="#facad2"/><ellipse rx="2.15" ry="1.7" fill="#4a90d9"/></g>
<g transform="translate(367.79 146.67) rotate(-105.21)"><rect x="-4.35" y="-4.35" width="8.7" height="8.7" rx="0.6" fill="#facad2"/><ellipse rx="2.15" ry="1.7" fill="#4a90d9"/></g>
<g transform="translate(366.43 138.13) rotate(-96.91)"><rect x="-4.35" y="-4.35" width="8.7" height="8.7" rx="0.6" fill="#facad2"/><ellipse rx="2.15" ry="1.7" fill="#4a90d9"/></g>
<g transform="translate(366.54 129.92) rotate(-78.22)"><rect x="-4.35" y="-4.35" width="8.7" height="8.7" rx="0.6" fill="#facad2"/><ellipse rx="2.15" ry="1.7" fill="#4a90d9"/></g>
<g transform="translate(368.86 121.32) rotate(-65.33)"><rect x="-4.35" y="-4.35" width="8.7" height="8.7" rx="0.6" fill="#facad2"/><ellipse rx="2.15" ry="1.7" fill="#4a90d9"/></g>
<g transform="translate(372.84 113.98) rotate(-58.94)"><rect x="-4.35" y="-4.35" width="8.7" height="8.7" rx="0.6" fill="#facad2"/><ellipse rx="2.15" ry="1.7" fill="#4a90d9"/></g>
<g transform="translate(378.52 107.09) rotate(-41.53)"><rect x="-4.35" y="-4.35" width="8.7" height="8.7" rx="0.6" fill="#facad2"/><ellipse rx="2.15" ry="1.7" fill="#4a90d9"/></g>
<g transform="translate(385.38 101.57) rotate(-36.07)"><rect x="-4.35" y="-4.35" width="8.7" height="8.7" rx="0.6" fill="#facad2"/><ellipse rx="2.15" ry="1.7" fill="#4a90d9"/></g>
<g transform="translate(394 96.97) rotate(-24.13)"><rect x="-4.35" y="-4.35" width="8.7" height="8.7" rx="0.6" fill="#facad2"/><ellipse rx="2.15" ry="1.7" fill="#4a90d9"/></g>
<g transform="translate(402.74 94.72) rotate(-15.75)"><rect x="-4.35" y="-4.35" width="8.7" height="8.7" rx="0.6" fill="#facad2"/><ellipse rx="2.15" ry="1.7" fill="#4a90d9"/></g>
<g transform="translate(412.22 93.43) rotate(-3)"><rect x="-4.35" y="-4.35" width="8.7" height="8.7" rx="0.6" fill="#facad2"/><ellipse rx="2.15" ry="1.7" fill="#4a90d9"/></g>
<g transform="translate(421.67 94.68) rotate(9.43)"><rect x="-4.35" y="-4.35" width="8.7" height="8.7" rx="0.6" fill="#facad2"/><ellipse rx="2.15" ry="1.7" fill="#4a90d9"/></g>
<g transform="translate(431.09 96.54) rotate(24.45)"><rect x="-4.35" y="-4.35" width="8.7" height="8.7" rx="0.6" fill="#facad2"/><ellipse rx="2.15" ry="1.7" fill="#4a90d9"/></g>
<g transform="translate(439.02 100.55) rotate(33.58)"><rect x="-4.35" y="-4.35" width="8.7" height="8.7" rx="0.6" fill="#facad2"/><ellipse rx="2.15" ry="1.7" fill="#4a90d9"/></g>
<g transform="translate(446.69 105.85) rotate(40.1)"><rect x="-4.35" y="-4.35" width="8.7" height="8.7" rx="0.6" fill="#facad2"/><ellipse rx="2.15" ry="1.7" fill="#4a90d9"/></g>
<g transform="translate(452.51 112.72) rotate(51.66)"><rect x="-4.35" y="-4.35" width="8.7" height="8.7" rx="0.6" fill="#facad2"/><ellipse rx="2.15" ry="1.7" fill="#4a90d9"/></g>
<g transform="translate(456.28 120.07) rotate(67.76)"><rect x="-4.35" y="-4.35" width="8.7" height="8.7" rx="0.6" fill="#facad2"/><ellipse rx="2.15" ry="1.7" fill="#4a90d9"/></g>
<g transform="translate(459.48 128.93) rotate(79.33)"><rect x="-4.35" y="-4.35" width="8.7" height="8.7" rx="0.6" fill="#facad2"/><ellipse rx="2.15" ry="1.7" fill="#4a90d9"/></g>
<g transform="translate(459.44 136.93) rotate(95.09)"><rect x="-4.35" y="-4.35" width="8.7" height="8.7" rx="0.6" fill="#facad2"/><ellipse rx="2.15" ry="1.7" fill="#4a90d9"/></g>
<g transform="translate(458.72 145.57) rotate(102.39)"><rect x="-4.35" y="-4.35" width="8.7" height="8.7" rx="0.6" fill="#facad2"/><ellipse rx="2.15" ry="1.7" fill="#4a90d9"/></g>
<ellipse cx="413" cy="135.6" rx="17.8" ry="14.55" fill="none" stroke="#000" stroke-width="1.55" stroke-dasharray="7.2 3.3" stroke-dashoffset="0"/>
<ellipse cx="413" cy="135.6" rx="24.8" ry="21.64" fill="none" stroke="#000" stroke-width="1.55" stroke-dasharray="7.2 3.3" stroke-dashoffset="3"/>
<ellipse cx="413" cy="135.6" rx="33.3" ry="29.29" fill="none" stroke="#000" stroke-width="1.55" stroke-dasharray="7.2 3.3" stroke-dashoffset="6"/>
<ellipse cx="413" cy="135.6" rx="42" ry="37.25" fill="none" stroke="#000" stroke-width="1.55" stroke-dasharray="7.2 3.3" stroke-dashoffset="9"/>
<ellipse cx="413" cy="135.6" rx="51.6" ry="46.7" fill="none" stroke="#000" stroke-width="1.55" stroke-dasharray="7.2 3.3" stroke-dashoffset="12"/>
<ellipse cx="412.1" cy="135.9" rx="9" ry="4.9" fill="#fff" stroke="#f00" stroke-width="2.3"/>
<text x="411.6" y="139.5" font-size="10" font-weight="normal" text-anchor="middle" fill="#000" >CV</text>
<g transform="translate(546.6 -0.4) scale(1)">
<g transform="translate(35.42 124.39) rotate(-18)"><rect x="-4.2" y="-4" width="8.4" height="8" rx="1.2" fill="#fff" stroke="#4a4a4a" stroke-width="0.8"/><ellipse rx="2.1" ry="1.6" fill="#4a90d9"/></g>
<g transform="translate(46.63 124.22) rotate(-2.57)"><rect x="-5.5" y="-4" width="11" height="8" rx="1.2" fill="#fff" stroke="#4a4a4a" stroke-width="0.8"/><ellipse rx="2.1" ry="1.6" fill="#4a90d9"/></g>
<g transform="translate(58.61 124.02) rotate(-2.65)"><rect x="-5.5" y="-4" width="11" height="8" rx="1.2" fill="#fff" stroke="#4a4a4a" stroke-width="0.8"/><ellipse rx="2.1" ry="1.6" fill="#4a90d9"/></g>
<g transform="translate(69.86 124.05) rotate(-0.4)"><rect x="-5.5" y="-4" width="11" height="8" rx="1.2" fill="#fff" stroke="#4a4a4a" stroke-width="0.8"/><ellipse rx="2.1" ry="1.6" fill="#4a90d9"/></g>
<g transform="translate(81.86 124.07) rotate(-0.45)"><rect x="-5.5" y="-4" width="11" height="8" rx="1.2" fill="#fff" stroke="#4a4a4a" stroke-width="0.8"/><ellipse rx="2.1" ry="1.6" fill="#4a90d9"/></g>
<g transform="translate(37.9 133.17) rotate(-8)"><rect x="-4.2" y="-4" width="8.4" height="8" rx="1.2" fill="#fff" stroke="#4a4a4a" stroke-width="0.8"/><ellipse rx="2.1" ry="1.6" fill="#4a90d9"/></g>
<g transform="translate(47.72 133.19) rotate(0.46)"><rect x="-5.5" y="-4" width="11" height="8" rx="1.2" fill="#fff" stroke="#4a4a4a" stroke-width="0.8"/><ellipse rx="2.1" ry="1.6" fill="#4a90d9"/></g>
<g transform="translate(60.09 132.77) rotate(-2.72)"><rect x="-5.5" y="-4" width="11" height="8" rx="1.2" fill="#fff" stroke="#4a4a4a" stroke-width="0.8"/><ellipse rx="2.1" ry="1.6" fill="#4a90d9"/></g>
<g transform="translate(71.09 132.79) rotate(-2.13)"><rect x="-5.5" y="-4" width="11" height="8" rx="1.2" fill="#fff" stroke="#4a4a4a" stroke-width="0.8"/><ellipse rx="2.1" ry="1.6" fill="#4a90d9"/></g>
<g transform="translate(82.54 132.95) rotate(1.9)"><rect x="-5.5" y="-4" width="11" height="8" rx="1.2" fill="#fff" stroke="#4a4a4a" stroke-width="0.8"/><ellipse rx="2.1" ry="1.6" fill="#4a90d9"/></g>
<g transform="translate(36.9 141.53) rotate(-12)"><rect x="-4.2" y="-4" width="8.4" height="8" rx="1.2" fill="#fff" stroke="#4a4a4a" stroke-width="0.8"/><ellipse rx="2.1" ry="1.6" fill="#4a90d9"/></g>
<g transform="translate(46.25 141.32) rotate(-2.62)"><rect x="-5.5" y="-4" width="11" height="8" rx="1.2" fill="#fff" stroke="#4a4a4a" stroke-width="0.8"/><ellipse rx="2.1" ry="1.6" fill="#4a90d9"/></g>
<g transform="translate(58.54 141.39) rotate(1.08)"><rect x="-5.5" y="-4" width="11" height="8" rx="1.2" fill="#fff" stroke="#4a4a4a" stroke-width="0.8"/><ellipse rx="2.1" ry="1.6" fill="#4a90d9"/></g>
<g transform="translate(70.16 141.38) rotate(0.51)"><rect x="-5.5" y="-4" width="11" height="8" rx="1.2" fill="#fff" stroke="#4a4a4a" stroke-width="0.8"/><ellipse rx="2.1" ry="1.6" fill="#4a90d9"/></g>
<g transform="translate(81.76 141.35) rotate(1.77)"><rect x="-5.5" y="-4" width="11" height="8" rx="1.2" fill="#fff" stroke="#4a4a4a" stroke-width="0.8"/><ellipse rx="2.1" ry="1.6" fill="#4a90d9"/></g>
<g transform="translate(37.22 150.33) rotate(4)"><rect x="-4.2" y="-4" width="8.4" height="8" rx="1.2" fill="#fff" stroke="#4a4a4a" stroke-width="0.8"/><ellipse rx="2.1" ry="1.6" fill="#4a90d9"/></g>
<g transform="translate(47.63 150.39) rotate(1.38)"><rect x="-5.5" y="-4" width="11" height="8" rx="1.2" fill="#fff" stroke="#4a4a4a" stroke-width="0.8"/><ellipse rx="2.1" ry="1.6" fill="#4a90d9"/></g>
<g transform="translate(59.73 150.25) rotate(-2.29)"><rect x="-5.5" y="-4" width="11" height="8" rx="1.2" fill="#fff" stroke="#4a4a4a" stroke-width="0.8"/><ellipse rx="2.1" ry="1.6" fill="#4a90d9"/></g>
<g transform="translate(71.39 149.82) rotate(-2.09)"><rect x="-5.5" y="-4" width="11" height="8" rx="1.2" fill="#fff" stroke="#4a4a4a" stroke-width="0.8"/><ellipse rx="2.1" ry="1.6" fill="#4a90d9"/></g>
<g transform="translate(83.01 150.14) rotate(1.01)"><rect x="-5.5" y="-4" width="11" height="8" rx="1.2" fill="#fff" stroke="#4a4a4a" stroke-width="0.8"/><ellipse rx="2.1" ry="1.6" fill="#4a90d9"/></g>
<g transform="translate(92.6 106.6) rotate(-32)"><rect x="-4.1" y="-3.8" width="8.2" height="7.6" rx="1.1" fill="#fff" stroke="#4a4a4a" stroke-width="0.8"/><ellipse rx="2" ry="1.6" fill="#4a90d9"/></g>
<g transform="translate(88 115.2) rotate(-28)"><rect x="-4.1" y="-3.8" width="8.2" height="7.6" rx="1.1" fill="#fff" stroke="#4a4a4a" stroke-width="0.8"/><ellipse rx="2" ry="1.6" fill="#4a90d9"/></g>
<g transform="translate(89.8 160.6) rotate(28)"><rect x="-4.1" y="-3.8" width="8.2" height="7.6" rx="1.1" fill="#fff" stroke="#4a4a4a" stroke-width="0.8"/><ellipse rx="2" ry="1.6" fill="#4a90d9"/></g>
<ellipse cx="25.3" cy="117" rx="4.8" ry="6.8" fill="#fff" stroke="#0a9f45" stroke-width="2.5"/>
<ellipse cx="25.9" cy="159.8" rx="4.7" ry="4.9" fill="#fff" stroke="#f00" stroke-width="2.7"/>
<ellipse cx="21.4" cy="138.5" rx="10.8" ry="14.3" fill="#fff" stroke="#f00" stroke-width="2.7"/>
<text x="21.6" y="144.3" font-size="10" font-weight="normal" text-anchor="middle" fill="#000" >PV</text>
</g>
<ellipse cx="686.9" cy="135.2" rx="51.6" ry="46.7" fill="#fff"/>
<g transform="translate(700.66 138.04) rotate(112.92)"><rect x="-4.35" y="-4.35" width="8.7" height="8.7" rx="0.6" fill="#82221e"/><ellipse rx="2.15" ry="1.7" fill="#4a90d9"/></g>
<g transform="translate(693.76 144.17) rotate(152.89)"><rect x="-4.35" y="-4.35" width="8.7" height="8.7" rx="0.6" fill="#82221e"/><ellipse rx="2.15" ry="1.7" fill="#4a90d9"/></g>
<g transform="translate(683.1 145.6) rotate(-172.44)"><rect x="-4.35" y="-4.35" width="8.7" height="8.7" rx="0.6" fill="#82221e"/><ellipse rx="2.15" ry="1.7" fill="#4a90d9"/></g>
<g transform="translate(674.73 140.32) rotate(-129.78)"><rect x="-4.35" y="-4.35" width="8.7" height="8.7" rx="0.6" fill="#82221e"/><ellipse rx="2.15" ry="1.7" fill="#4a90d9"/></g>
<g transform="translate(673.22 132.72) rotate(-69.49)"><rect x="-4.35" y="-4.35" width="8.7" height="8.7" rx="0.6" fill="#82221e"/><ellipse rx="2.15" ry="1.7" fill="#4a90d9"/></g>
<g transform="translate(679.48 125.89) rotate(-27.11)"><rect x="-4.35" y="-4.35" width="8.7" height="8.7" rx="0.6" fill="#82221e"/><ellipse rx="2.15" ry="1.7" fill="#4a90d9"/></g>
<g transform="translate(690.77 125.18) rotate(14.32)"><rect x="-4.35" y="-4.35" width="8.7" height="8.7" rx="0.6" fill="#82221e"/><ellipse rx="2.15" ry="1.7" fill="#4a90d9"/></g>
<g transform="translate(699.32 130.05) rotate(56.77)"><rect x="-4.35" y="-4.35" width="8.7" height="8.7" rx="0.6" fill="#82221e"/><ellipse rx="2.15" ry="1.7" fill="#4a90d9"/></g>
<g transform="translate(701.66 148.36) rotate(139.95)"><rect x="-4.35" y="-4.35" width="8.7" height="8.7" rx="0.6" fill="#82221e"/><ellipse rx="2.15" ry="1.7" fill="#4a90d9"/></g>
<g transform="translate(693.24 152.59) rotate(164.87)"><rect x="-4.35" y="-4.35" width="8.7" height="8.7" rx="0.6" fill="#82221e"/><ellipse rx="2.15" ry="1.7" fill="#4a90d9"/></g>
<g transform="translate(682.79 152.95) rotate(-172.59)"><rect x="-4.35" y="-4.35" width="8.7" height="8.7" rx="0.6" fill="#82221e"/><ellipse rx="2.15" ry="1.7" fill="#4a90d9"/></g>
<g transform="translate(673.36 149.59) rotate(-142.88)"><rect x="-4.35" y="-4.35" width="8.7" height="8.7" rx="0.6" fill="#82221e"/><ellipse rx="2.15" ry="1.7" fill="#4a90d9"/></g>
<g transform="translate(667.74 142.63) rotate(-116.81)"><rect x="-4.35" y="-4.35" width="8.7" height="8.7" rx="0.6" fill="#82221e"/><ellipse rx="2.15" ry="1.7" fill="#4a90d9"/></g>
<g transform="translate(665.82 133.7) rotate(-83.6)"><rect x="-4.35" y="-4.35" width="8.7" height="8.7" rx="0.6" fill="#82221e"/><ellipse rx="2.15" ry="1.7" fill="#4a90d9"/></g>
<g transform="translate(668.73 125.47) rotate(-57.06)"><rect x="-4.35" y="-4.35" width="8.7" height="8.7" rx="0.6" fill="#82221e"/><ellipse rx="2.15" ry="1.7" fill="#4a90d9"/></g>
<g transform="translate(676.05 119.44) rotate(-27.18)"><rect x="-4.35" y="-4.35" width="8.7" height="8.7" rx="0.6" fill="#82221e"/><ellipse rx="2.15" ry="1.7" fill="#4a90d9"/></g>
<g transform="translate(685.87 117.03) rotate(-6.23)"><rect x="-4.35" y="-4.35" width="8.7" height="8.7" rx="0.6" fill="#82221e"/><ellipse rx="2.15" ry="1.7" fill="#4a90d9"/></g>
<g transform="translate(695.8 118.55) rotate(18.74)"><rect x="-4.35" y="-4.35" width="8.7" height="8.7" rx="0.6" fill="#82221e"/><ellipse rx="2.15" ry="1.7" fill="#4a90d9"/></g>
<g transform="translate(703.56 124.05) rotate(43.58)"><rect x="-4.35" y="-4.35" width="8.7" height="8.7" rx="0.6" fill="#82221e"/><ellipse rx="2.15" ry="1.7" fill="#4a90d9"/></g>
<g transform="translate(707.99 132.4) rotate(77.3)"><rect x="-4.35" y="-4.35" width="8.7" height="8.7" rx="0.6" fill="#82221e"/><ellipse rx="2.15" ry="1.7" fill="#4a90d9"/></g>
<g transform="translate(707.34 141.04) rotate(106.09)"><rect x="-4.35" y="-4.35" width="8.7" height="8.7" rx="0.6" fill="#82221e"/><ellipse rx="2.15" ry="1.7" fill="#4a90d9"/></g>
<g transform="translate(715.87 139.04) rotate(100.62)"><rect x="-4.35" y="-4.35" width="8.7" height="8.7" rx="0.6" fill="#facad2"/><ellipse rx="2.15" ry="1.7" fill="#4a90d9"/></g>
<g transform="translate(712.53 146.74) rotate(123.89)"><rect x="-4.35" y="-4.35" width="8.7" height="8.7" rx="0.6" fill="#facad2"/><ellipse rx="2.15" ry="1.7" fill="#4a90d9"/></g>
<g transform="translate(707.34 153.76) rotate(136.76)"><rect x="-4.35" y="-4.35" width="8.7" height="8.7" rx="0.6" fill="#facad2"/><ellipse rx="2.15" ry="1.7" fill="#4a90d9"/></g>
<g transform="translate(699.44 158.22) rotate(159.87)"><rect x="-4.35" y="-4.35" width="8.7" height="8.7" rx="0.6" fill="#facad2"/><ellipse rx="2.15" ry="1.7" fill="#4a90d9"/></g>
<g transform="translate(689.73 160.89) rotate(175.69)"><rect x="-4.35" y="-4.35" width="8.7" height="8.7" rx="0.6" fill="#facad2"/><ellipse rx="2.15" ry="1.7" fill="#4a90d9"/></g>
<g transform="translate(680.59 159.86) rotate(-167.5)"><rect x="-4.35" y="-4.35" width="8.7" height="8.7" rx="0.6" fill="#facad2"/><ellipse rx="2.15" ry="1.7" fill="#4a90d9"/></g>
<g transform="translate(671.65 156.94) rotate(-152.84)"><rect x="-4.35" y="-4.35" width="8.7" height="8.7" rx="0.6" fill="#facad2"/><ellipse rx="2.15" ry="1.7" fill="#4a90d9"/></g>
<g transform="translate(664.56 151.22) rotate(-134.99)"><rect x="-4.35" y="-4.35" width="8.7" height="8.7" rx="0.6" fill="#facad2"/><ellipse rx="2.15" ry="1.7" fill="#4a90d9"/></g>
<g transform="translate(659.42 144.18) rotate(-116.73)"><rect x="-4.35" y="-4.35" width="8.7" height="8.7" rx="0.6" fill="#facad2"/><ellipse rx="2.15" ry="1.7" fill="#4a90d9"/></g>
<g transform="translate(657.67 135.5) rotate(-90.11)"><rect x="-4.35" y="-4.35" width="8.7" height="8.7" rx="0.6" fill="#facad2"/><ellipse rx="2.15" ry="1.7" fill="#4a90d9"/></g>
<g transform="translate(659.25 127.52) rotate(-74.75)"><rect x="-4.35" y="-4.35" width="8.7" height="8.7" rx="0.6" fill="#facad2"/><ellipse rx="2.15" ry="1.7" fill="#4a90d9"/></g>
<g transform="translate(663.52 119.91) rotate(-53.9)"><rect x="-4.35" y="-4.35" width="8.7" height="8.7" rx="0.6" fill="#facad2"/><ellipse rx="2.15" ry="1.7" fill="#4a90d9"/></g>
<g transform="translate(670.09 114.53) rotate(-34.9)"><rect x="-4.35" y="-4.35" width="8.7" height="8.7" rx="0.6" fill="#facad2"/><ellipse rx="2.15" ry="1.7" fill="#4a90d9"/></g>
<g transform="translate(678.97 110.47) rotate(-12.77)"><rect x="-4.35" y="-4.35" width="8.7" height="8.7" rx="0.6" fill="#facad2"/><ellipse rx="2.15" ry="1.7" fill="#4a90d9"/></g>
<g transform="translate(688.32 109.72) rotate(1.64)"><rect x="-4.35" y="-4.35" width="8.7" height="8.7" rx="0.6" fill="#facad2"/><ellipse rx="2.15" ry="1.7" fill="#4a90d9"/></g>
<g transform="translate(698.17 111.27) rotate(18.18)"><rect x="-4.35" y="-4.35" width="8.7" height="8.7" rx="0.6" fill="#facad2"/><ellipse rx="2.15" ry="1.7" fill="#4a90d9"/></g>
<g transform="translate(706.06 116.36) rotate(37.79)"><rect x="-4.35" y="-4.35" width="8.7" height="8.7" rx="0.6" fill="#facad2"/><ellipse rx="2.15" ry="1.7" fill="#4a90d9"/></g>
<g transform="translate(712.1 122.66) rotate(54.87)"><rect x="-4.35" y="-4.35" width="8.7" height="8.7" rx="0.6" fill="#facad2"/><ellipse rx="2.15" ry="1.7" fill="#4a90d9"/></g>
<g transform="translate(715.11 130.41) rotate(81.81)"><rect x="-4.35" y="-4.35" width="8.7" height="8.7" rx="0.6" fill="#facad2"/><ellipse rx="2.15" ry="1.7" fill="#4a90d9"/></g>
<g transform="translate(714.58 157.71) rotate(139.35)"><rect x="-4.35" y="-4.35" width="8.7" height="8.7" rx="0.6" fill="#facad2"/><ellipse rx="2.15" ry="1.7" fill="#4a90d9"/></g>
<g transform="translate(707.4 163.06) rotate(148.44)"><rect x="-4.35" y="-4.35" width="8.7" height="8.7" rx="0.6" fill="#facad2"/><ellipse rx="2.15" ry="1.7" fill="#4a90d9"/></g>
<g transform="translate(698.91 166.51) rotate(160.22)"><rect x="-4.35" y="-4.35" width="8.7" height="8.7" rx="0.6" fill="#facad2"/><ellipse rx="2.15" ry="1.7" fill="#4a90d9"/></g>
<g transform="translate(689.75 168.03) rotate(175)"><rect x="-4.35" y="-4.35" width="8.7" height="8.7" rx="0.6" fill="#facad2"/><ellipse rx="2.15" ry="1.7" fill="#4a90d9"/></g>
<g transform="translate(680.13 168.14) rotate(-170.23)"><rect x="-4.35" y="-4.35" width="8.7" height="8.7" rx="0.6" fill="#facad2"/><ellipse rx="2.15" ry="1.7" fill="#4a90d9"/></g>
<g transform="translate(671.06 165.7) rotate(-161.35)"><rect x="-4.35" y="-4.35" width="8.7" height="8.7" rx="0.6" fill="#facad2"/><ellipse rx="2.15" ry="1.7" fill="#4a90d9"/></g>
<g transform="translate(663.34 161.19) rotate(-146.38)"><rect x="-4.35" y="-4.35" width="8.7" height="8.7" rx="0.6" fill="#facad2"/><ellipse rx="2.15" ry="1.7" fill="#4a90d9"/></g>
<g transform="translate(656.64 155.12) rotate(-133.99)"><rect x="-4.35" y="-4.35" width="8.7" height="8.7" rx="0.6" fill="#facad2"/><ellipse rx="2.15" ry="1.7" fill="#4a90d9"/></g>
<g transform="translate(652.37 147.65) rotate(-111.88)"><rect x="-4.35" y="-4.35" width="8.7" height="8.7" rx="0.6" fill="#facad2"/><ellipse rx="2.15" ry="1.7" fill="#4a90d9"/></g>
<g transform="translate(649.43 139.74) rotate(-100.26)"><rect x="-4.35" y="-4.35" width="8.7" height="8.7" rx="0.6" fill="#facad2"/><ellipse rx="2.15" ry="1.7" fill="#4a90d9"/></g>
<g transform="translate(649.15 131.29) rotate(-84.26)"><rect x="-4.35" y="-4.35" width="8.7" height="8.7" rx="0.6" fill="#facad2"/><ellipse rx="2.15" ry="1.7" fill="#4a90d9"/></g>
<g transform="translate(651.64 123.71) rotate(-61.93)"><rect x="-4.35" y="-4.35" width="8.7" height="8.7" rx="0.6" fill="#facad2"/><ellipse rx="2.15" ry="1.7" fill="#4a90d9"/></g>
<g transform="translate(655.78 116.1) rotate(-55.19)"><rect x="-4.35" y="-4.35" width="8.7" height="8.7" rx="0.6" fill="#facad2"/><ellipse rx="2.15" ry="1.7" fill="#4a90d9"/></g>
<g transform="translate(662.66 109.79) rotate(-33.1)"><rect x="-4.35" y="-4.35" width="8.7" height="8.7" rx="0.6" fill="#facad2"/><ellipse rx="2.15" ry="1.7" fill="#4a90d9"/></g>
<g transform="translate(670.37 105.07) rotate(-28.34)"><rect x="-4.35" y="-4.35" width="8.7" height="8.7" rx="0.6" fill="#facad2"/><ellipse rx="2.15" ry="1.7" fill="#4a90d9"/></g>
<g transform="translate(679.09 102.89) rotate(-13.86)"><rect x="-4.35" y="-4.35" width="8.7" height="8.7" rx="0.6" fill="#facad2"/><ellipse rx="2.15" ry="1.7" fill="#4a90d9"/></g>
<g transform="translate(688.66 101.89) rotate(0.84)"><rect x="-4.35" y="-4.35" width="8.7" height="8.7" rx="0.6" fill="#facad2"/><ellipse rx="2.15" ry="1.7" fill="#4a90d9"/></g>
<g transform="translate(698.19 103.22) rotate(17.39)"><rect x="-4.35" y="-4.35" width="8.7" height="8.7" rx="0.6" fill="#facad2"/><ellipse rx="2.15" ry="1.7" fill="#4a90d9"/></g>
<g transform="translate(706.69 107.15) rotate(28.63)"><rect x="-4.35" y="-4.35" width="8.7" height="8.7" rx="0.6" fill="#facad2"/><ellipse rx="2.15" ry="1.7" fill="#4a90d9"/></g>
<g transform="translate(714.23 112.02) rotate(43.09)"><rect x="-4.35" y="-4.35" width="8.7" height="8.7" rx="0.6" fill="#facad2"/><ellipse rx="2.15" ry="1.7" fill="#4a90d9"/></g>
<g transform="translate(719.69 118.96) rotate(61.13)"><rect x="-4.35" y="-4.35" width="8.7" height="8.7" rx="0.6" fill="#facad2"/><ellipse rx="2.15" ry="1.7" fill="#4a90d9"/></g>
<g transform="translate(722.95 126.17) rotate(73.14)"><rect x="-4.35" y="-4.35" width="8.7" height="8.7" rx="0.6" fill="#facad2"/><ellipse rx="2.15" ry="1.7" fill="#4a90d9"/></g>
<g transform="translate(724.76 134.7) rotate(86.98)"><rect x="-4.35" y="-4.35" width="8.7" height="8.7" rx="0.6" fill="#facad2"/><ellipse rx="2.15" ry="1.7" fill="#4a90d9"/></g>
<g transform="translate(723.83 142.83) rotate(101.08)"><rect x="-4.35" y="-4.35" width="8.7" height="8.7" rx="0.6" fill="#facad2"/><ellipse rx="2.15" ry="1.7" fill="#4a90d9"/></g>
<g transform="translate(719.86 150.44) rotate(123.22)"><rect x="-4.35" y="-4.35" width="8.7" height="8.7" rx="0.6" fill="#facad2"/><ellipse rx="2.15" ry="1.7" fill="#4a90d9"/></g>
<g transform="translate(733.58 139.95) rotate(101.84)"><rect x="-4.35" y="-4.35" width="8.7" height="8.7" rx="0.6" fill="#facad2"/><ellipse rx="2.15" ry="1.7" fill="#4a90d9"/></g>
<g transform="translate(731.69 147.94) rotate(110.87)"><rect x="-4.35" y="-4.35" width="8.7" height="8.7" rx="0.6" fill="#facad2"/><ellipse rx="2.15" ry="1.7" fill="#4a90d9"/></g>
<g transform="translate(727.92 155.93) rotate(120.01)"><rect x="-4.35" y="-4.35" width="8.7" height="8.7" rx="0.6" fill="#facad2"/><ellipse rx="2.15" ry="1.7" fill="#4a90d9"/></g>
<g transform="translate(722.42 162.45) rotate(132.17)"><rect x="-4.35" y="-4.35" width="8.7" height="8.7" rx="0.6" fill="#facad2"/><ellipse rx="2.15" ry="1.7" fill="#4a90d9"/></g>
<g transform="translate(715.68 168.52) rotate(143.23)"><rect x="-4.35" y="-4.35" width="8.7" height="8.7" rx="0.6" fill="#facad2"/><ellipse rx="2.15" ry="1.7" fill="#4a90d9"/></g>
<g transform="translate(707.47 172.96) rotate(151.6)"><rect x="-4.35" y="-4.35" width="8.7" height="8.7" rx="0.6" fill="#facad2"/><ellipse rx="2.15" ry="1.7" fill="#4a90d9"/></g>
<g transform="translate(698.04 175.72) rotate(165.55)"><rect x="-4.35" y="-4.35" width="8.7" height="8.7" rx="0.6" fill="#facad2"/><ellipse rx="2.15" ry="1.7" fill="#4a90d9"/></g>
<g transform="translate(689.3 176.95) rotate(181.2)"><rect x="-4.35" y="-4.35" width="8.7" height="8.7" rx="0.6" fill="#facad2"/><ellipse rx="2.15" ry="1.7" fill="#4a90d9"/></g>
<g transform="translate(679.79 176.59) rotate(-166.94)"><rect x="-4.35" y="-4.35" width="8.7" height="8.7" rx="0.6" fill="#facad2"/><ellipse rx="2.15" ry="1.7" fill="#4a90d9"/></g>
<g transform="translate(670.57 174.46) rotate(-163.71)"><rect x="-4.35" y="-4.35" width="8.7" height="8.7" rx="0.6" fill="#facad2"/><ellipse rx="2.15" ry="1.7" fill="#4a90d9"/></g>
<g transform="translate(661.89 170.97) rotate(-150.11)"><rect x="-4.35" y="-4.35" width="8.7" height="8.7" rx="0.6" fill="#facad2"/><ellipse rx="2.15" ry="1.7" fill="#4a90d9"/></g>
<g transform="translate(654.25 165.37) rotate(-139.46)"><rect x="-4.35" y="-4.35" width="8.7" height="8.7" rx="0.6" fill="#facad2"/><ellipse rx="2.15" ry="1.7" fill="#4a90d9"/></g>
<g transform="translate(648.12 159.03) rotate(-132.13)"><rect x="-4.35" y="-4.35" width="8.7" height="8.7" rx="0.6" fill="#facad2"/><ellipse rx="2.15" ry="1.7" fill="#4a90d9"/></g>
<g transform="translate(644.01 151.3) rotate(-119.18)"><rect x="-4.35" y="-4.35" width="8.7" height="8.7" rx="0.6" fill="#facad2"/><ellipse rx="2.15" ry="1.7" fill="#4a90d9"/></g>
<g transform="translate(641.07 143.28) rotate(-98.69)"><rect x="-4.35" y="-4.35" width="8.7" height="8.7" rx="0.6" fill="#facad2"/><ellipse rx="2.15" ry="1.7" fill="#4a90d9"/></g>
<g transform="translate(640.1 134.97) rotate(-86.28)"><rect x="-4.35" y="-4.35" width="8.7" height="8.7" rx="0.6" fill="#facad2"/><ellipse rx="2.15" ry="1.7" fill="#4a90d9"/></g>
<g transform="translate(640.91 126.68) rotate(-75.24)"><rect x="-4.35" y="-4.35" width="8.7" height="8.7" rx="0.6" fill="#facad2"/><ellipse rx="2.15" ry="1.7" fill="#4a90d9"/></g>
<g transform="translate(643.95 118.75) rotate(-68.85)"><rect x="-4.35" y="-4.35" width="8.7" height="8.7" rx="0.6" fill="#facad2"/><ellipse rx="2.15" ry="1.7" fill="#4a90d9"/></g>
<g transform="translate(648.9 110.77) rotate(-48.44)"><rect x="-4.35" y="-4.35" width="8.7" height="8.7" rx="0.6" fill="#facad2"/><ellipse rx="2.15" ry="1.7" fill="#4a90d9"/></g>
<g transform="translate(654.61 104.3) rotate(-40.11)"><rect x="-4.35" y="-4.35" width="8.7" height="8.7" rx="0.6" fill="#facad2"/><ellipse rx="2.15" ry="1.7" fill="#4a90d9"/></g>
<g transform="translate(662.67 99.28) rotate(-29.03)"><rect x="-4.35" y="-4.35" width="8.7" height="8.7" rx="0.6" fill="#facad2"/><ellipse rx="2.15" ry="1.7" fill="#4a90d9"/></g>
<g transform="translate(670.98 95.58) rotate(-17.76)"><rect x="-4.35" y="-4.35" width="8.7" height="8.7" rx="0.6" fill="#facad2"/><ellipse rx="2.15" ry="1.7" fill="#4a90d9"/></g>
<g transform="translate(679.74 93.64) rotate(-4.93)"><rect x="-4.35" y="-4.35" width="8.7" height="8.7" rx="0.6" fill="#facad2"/><ellipse rx="2.15" ry="1.7" fill="#4a90d9"/></g>
<g transform="translate(689.43 93.1) rotate(-1.59)"><rect x="-4.35" y="-4.35" width="8.7" height="8.7" rx="0.6" fill="#facad2"/><ellipse rx="2.15" ry="1.7" fill="#4a90d9"/></g>
<g transform="translate(699.03 94.58) rotate(17.52)"><rect x="-4.35" y="-4.35" width="8.7" height="8.7" rx="0.6" fill="#facad2"/><ellipse rx="2.15" ry="1.7" fill="#4a90d9"/></g>
<g transform="translate(707.92 97.34) rotate(28.2)"><rect x="-4.35" y="-4.35" width="8.7" height="8.7" rx="0.6" fill="#facad2"/><ellipse rx="2.15" ry="1.7" fill="#4a90d9"/></g>
<g transform="translate(716.06 102.38) rotate(38.4)"><rect x="-4.35" y="-4.35" width="8.7" height="8.7" rx="0.6" fill="#facad2"/><ellipse rx="2.15" ry="1.7" fill="#4a90d9"/></g>
<g transform="translate(722.71 108.2) rotate(48.26)"><rect x="-4.35" y="-4.35" width="8.7" height="8.7" rx="0.6" fill="#facad2"/><ellipse rx="2.15" ry="1.7" fill="#4a90d9"/></g>
<g transform="translate(728.01 114.87) rotate(54.93)"><rect x="-4.35" y="-4.35" width="8.7" height="8.7" rx="0.6" fill="#facad2"/><ellipse rx="2.15" ry="1.7" fill="#4a90d9"/></g>
<g transform="translate(731.79 122.94) rotate(66.65)"><rect x="-4.35" y="-4.35" width="8.7" height="8.7" rx="0.6" fill="#facad2"/><ellipse rx="2.15" ry="1.7" fill="#4a90d9"/></g>
<g transform="translate(733.59 131.27) rotate(84.02)"><rect x="-4.35" y="-4.35" width="8.7" height="8.7" rx="0.6" fill="#facad2"/><ellipse rx="2.15" ry="1.7" fill="#4a90d9"/></g>
<ellipse cx="686.9" cy="135.2" rx="17.8" ry="14.55" fill="none" stroke="#000" stroke-width="1.55" stroke-dasharray="7.2 3.3" stroke-dashoffset="0"/>
<ellipse cx="686.9" cy="135.2" rx="24.8" ry="21.64" fill="none" stroke="#000" stroke-width="1.55" stroke-dasharray="7.2 3.3" stroke-dashoffset="3"/>
<ellipse cx="686.9" cy="135.2" rx="33.3" ry="29.29" fill="none" stroke="#000" stroke-width="1.55" stroke-dasharray="7.2 3.3" stroke-dashoffset="6"/>
<ellipse cx="686.9" cy="135.2" rx="42" ry="37.25" fill="none" stroke="#000" stroke-width="1.55" stroke-dasharray="7.2 3.3" stroke-dashoffset="9"/>
<ellipse cx="686.9" cy="135.2" rx="51.6" ry="46.7" fill="none" stroke="#000" stroke-width="1.55" stroke-dasharray="7.2 3.3" stroke-dashoffset="12"/>
<ellipse cx="686" cy="135.5" rx="9" ry="4.9" fill="#fff" stroke="#f00" stroke-width="2.3"/>
<text x="685.5" y="139.1" font-size="10" font-weight="normal" text-anchor="middle" fill="#000" >CV</text>
<polygon points="193.24,117.55 204.95,103.46 204.41,101.6 212.26,94.68 211.6,92.82 217.58,85.9 224.49,95.21 216.65,99.47 217.31,102.66 209.73,107.18 210.27,109.84" fill="#f00"/>
<line x1="251.9" y1="82.3" x2="252.05" y2="71.6" stroke="#9a9a9a" stroke-width="1"/>
<line x1="252.05" y1="71.6" x2="252.2" y2="60.9" stroke="#56b870" stroke-width="1"/>
<line x1="251.9" y1="82.3" x2="242.25" y2="87.75" stroke="#9a9a9a" stroke-width="1"/>
<line x1="242.25" y1="87.75" x2="232.6" y2="93.2" stroke="#56b870" stroke-width="1"/>
<line x1="251.9" y1="82.3" x2="259.35" y2="85.65" stroke="#9a9a9a" stroke-width="1"/>
<line x1="259.35" y1="85.65" x2="266.8" y2="89" stroke="#56b870" stroke-width="1"/>
<line x1="251.9" y1="82.3" x2="255.2" y2="88.95" stroke="#9a9a9a" stroke-width="1"/>
<line x1="255.2" y1="88.95" x2="258.5" y2="95.6" stroke="#56b870" stroke-width="1"/>
<circle cx="251.9" cy="82.3" r="4" fill="#4d4d4d"/><circle cx="251.5" cy="81.9" r="2.4" fill="#777"/>
<text x="251.9" y="83.9" font-size="4.4" font-weight="bold" text-anchor="middle" fill="#222" >C</text>
<circle cx="252.2" cy="60.9" r="3.8" fill="#4caf1e"/>
<text x="252.2" y="62.5" font-size="4.4" font-weight="bold" text-anchor="middle" fill="#0b3d00" >Cl</text>
<circle cx="232.6" cy="93.2" r="3.8" fill="#4caf1e"/>
<text x="232.6" y="94.8" font-size="4.4" font-weight="bold" text-anchor="middle" fill="#0b3d00" >Cl</text>
<circle cx="266.8" cy="89" r="3.8" fill="#4caf1e"/>
<text x="266.8" y="90.6" font-size="4.4" font-weight="bold" text-anchor="middle" fill="#0b3d00" >Cl</text>
<circle cx="258.5" cy="95.6" r="3.8" fill="#4caf1e"/>
<text x="258.5" y="97.2" font-size="4.4" font-weight="bold" text-anchor="middle" fill="#0b3d00" >Cl</text>
<text x="237.9" y="115.4" font-size="13.3" font-weight="normal" text-anchor="start" fill="#000" >CCl<tspan font-size="8.6" dy="2.6">4</tspan></text>
<line x1="199" y1="140" x2="268.9" y2="140" stroke="#444" stroke-width="1"/>
<polygon points="275.4,140 267.9,136.1 267.9,143.9" fill="#000"/>
<line x1="474" y1="140" x2="542" y2="140" stroke="#444" stroke-width="1"/>
<polygon points="548.5,140 541,136.1 541,143.9" fill="#000"/>
<rect x="13.3" y="201.8" width="16.6" height="17.4" rx="1.5" fill="#facad2"/>
<ellipse cx="22.2" cy="211.9" rx="4" ry="3" fill="#4a90d9" transform="rotate(15 22.2 211.9)"/>
<text x="34.9" y="216.1" font-size="11.2" font-weight="normal" text-anchor="start" fill="#000" textLength="130.3" lengthAdjust="spacingAndGlyphs" >CYP2E1<tspan font-size="7" dy="-3.6">+</tspan><tspan dy="3.6"> GS</tspan><tspan font-size="7" dy="-3.6">-</tspan><tspan dy="3.6"> hepatocytes</tspan></text>
<rect x="180.6" y="202.6" width="16.8" height="15.8" rx="2" fill="#82221e"/>
<ellipse cx="189.6" cy="211.2" rx="4.2" ry="3" fill="#4a90d9" transform="rotate(20 189.6 211.2)"/>
<text x="202.6" y="216.1" font-size="11.2" font-weight="normal" text-anchor="start" fill="#000" textLength="132.6" lengthAdjust="spacingAndGlyphs" xml:space="preserve">CYP2E1<tspan font-size="7" dy="-3.6">+</tspan><tspan dy="3.6">GS</tspan><tspan font-size="7" dy="-3.6">+</tspan><tspan dy="3.6">  hepatocytes</tspan></text>
<rect x="351.6" y="202" width="16.6" height="17.6" rx="2.4" fill="#fff" stroke="#555" stroke-width="0.9"/>
<ellipse cx="360.6" cy="212.6" rx="3.7" ry="3" fill="#4a90d9" transform="rotate(15 360.6 212.6)"/>
<text x="378.3" y="216.1" font-size="11.2" font-weight="normal" text-anchor="start" fill="#000" textLength="108.7" lengthAdjust="spacingAndGlyphs" xml:space="preserve">CYP2E1<tspan font-size="7" dy="-3.6">-</tspan><tspan dy="3.6">  hepatocytes</tspan></text>
<text x="509" y="216.7" font-size="11.2" font-weight="normal" text-anchor="start" fill="#000" textLength="72.8" lengthAdjust="spacingAndGlyphs" >PV: Portal vein</text>
<text x="603.6" y="216.7" font-size="11.2" font-weight="normal" text-anchor="start" fill="#000" textLength="80.9" lengthAdjust="spacingAndGlyphs" >CV: Central vein</text>
<text x="342.4" y="69.9" font-size="13.5" font-weight="normal" text-anchor="start" fill="#000" textLength="143.7" lengthAdjust="spacingAndGlyphs" xml:space="preserve">Acute pericentral  injury</text>
<text x="662.6" y="69.9" font-size="13.5" font-weight="normal" text-anchor="start" fill="#000" textLength="41.5" lengthAdjust="spacingAndGlyphs" >Repair</text>
<text x="234.8" y="274.2" font-size="13.75" font-weight="bold" text-anchor="start" fill="#000" textLength="266.8" lengthAdjust="spacingAndGlyphs" >Multimodal analysis of liver regeneration</text>
<g transform="translate(13.3 242.1) scale(0.67)">
<g transform="translate(35.85 124.38) rotate(-18)"><rect x="-4.2" y="-4" width="8.4" height="8" rx="1.2" fill="#fff" stroke="#4a4a4a" stroke-width="0.9"/><ellipse rx="2.1" ry="1.6" fill="#4a90d9"/></g>
<g transform="translate(46.37 124.48) rotate(-0.13)"><rect x="-5.5" y="-4" width="11" height="8" rx="1.2" fill="#fff" stroke="#4a4a4a" stroke-width="0.9"/><ellipse rx="2.1" ry="1.6" fill="#4a90d9"/></g>
<g transform="translate(58.61 124.3) rotate(1.85)"><rect x="-5.5" y="-4" width="11" height="8" rx="1.2" fill="#fff" stroke="#4a4a4a" stroke-width="0.9"/><ellipse rx="2.1" ry="1.6" fill="#4a90d9"/></g>
<g transform="translate(69.8 124.22) rotate(-1.58)"><rect x="-5.5" y="-4" width="11" height="8" rx="1.2" fill="#fff" stroke="#4a4a4a" stroke-width="0.9"/><ellipse rx="2.1" ry="1.6" fill="#4a90d9"/></g>
<g transform="translate(81.26 124.48) rotate(0.51)"><rect x="-5.5" y="-4" width="11" height="8" rx="1.2" fill="#fff" stroke="#4a4a4a" stroke-width="0.9"/><ellipse rx="2.1" ry="1.6" fill="#4a90d9"/></g>
<g transform="translate(37.59 132.63) rotate(-8)"><rect x="-4.2" y="-4" width="8.4" height="8" rx="1.2" fill="#fff" stroke="#4a4a4a" stroke-width="0.9"/><ellipse rx="2.1" ry="1.6" fill="#4a90d9"/></g>
<g transform="translate(47.99 133.13) rotate(2.99)"><rect x="-5.5" y="-4" width="11" height="8" rx="1.2" fill="#fff" stroke="#4a4a4a" stroke-width="0.9"/><ellipse rx="2.1" ry="1.6" fill="#4a90d9"/></g>
<g transform="translate(59.43 132.8) rotate(0.7)"><rect x="-5.5" y="-4" width="11" height="8" rx="1.2" fill="#fff" stroke="#4a4a4a" stroke-width="0.9"/><ellipse rx="2.1" ry="1.6" fill="#4a90d9"/></g>
<g transform="translate(71.09 133.17) rotate(-0.01)"><rect x="-5.5" y="-4" width="11" height="8" rx="1.2" fill="#fff" stroke="#4a4a4a" stroke-width="0.9"/><ellipse rx="2.1" ry="1.6" fill="#4a90d9"/></g>
<g transform="translate(82.52 133.09) rotate(-0.79)"><rect x="-5.5" y="-4" width="11" height="8" rx="1.2" fill="#fff" stroke="#4a4a4a" stroke-width="0.9"/><ellipse rx="2.1" ry="1.6" fill="#4a90d9"/></g>
<g transform="translate(37.34 141.47) rotate(-12)"><rect x="-4.2" y="-4" width="8.4" height="8" rx="1.2" fill="#fff" stroke="#4a4a4a" stroke-width="0.9"/><ellipse rx="2.1" ry="1.6" fill="#4a90d9"/></g>
<g transform="translate(46.47 141.49) rotate(0.31)"><rect x="-5.5" y="-4" width="11" height="8" rx="1.2" fill="#fff" stroke="#4a4a4a" stroke-width="0.9"/><ellipse rx="2.1" ry="1.6" fill="#4a90d9"/></g>
<g transform="translate(58.23 141.72) rotate(-1.88)"><rect x="-5.5" y="-4" width="11" height="8" rx="1.2" fill="#fff" stroke="#4a4a4a" stroke-width="0.9"/><ellipse rx="2.1" ry="1.6" fill="#4a90d9"/></g>
<g transform="translate(70.42 141.33) rotate(-1.59)"><rect x="-5.5" y="-4" width="11" height="8" rx="1.2" fill="#fff" stroke="#4a4a4a" stroke-width="0.9"/><ellipse rx="2.1" ry="1.6" fill="#4a90d9"/></g>
<g transform="translate(81.92 141.65) rotate(2.81)"><rect x="-5.5" y="-4" width="11" height="8" rx="1.2" fill="#fff" stroke="#4a4a4a" stroke-width="0.9"/><ellipse rx="2.1" ry="1.6" fill="#4a90d9"/></g>
<g transform="translate(37.26 150.24) rotate(4)"><rect x="-4.2" y="-4" width="8.4" height="8" rx="1.2" fill="#fff" stroke="#4a4a4a" stroke-width="0.9"/><ellipse rx="2.1" ry="1.6" fill="#4a90d9"/></g>
<g transform="translate(47.78 150.3) rotate(-2.27)"><rect x="-5.5" y="-4" width="11" height="8" rx="1.2" fill="#fff" stroke="#4a4a4a" stroke-width="0.9"/><ellipse rx="2.1" ry="1.6" fill="#4a90d9"/></g>
<g transform="translate(60.14 150.33) rotate(-1.79)"><rect x="-5.5" y="-4" width="11" height="8" rx="1.2" fill="#fff" stroke="#4a4a4a" stroke-width="0.9"/><ellipse rx="2.1" ry="1.6" fill="#4a90d9"/></g>
<g transform="translate(71.29 150.07) rotate(-0.54)"><rect x="-5.5" y="-4" width="11" height="8" rx="1.2" fill="#fff" stroke="#4a4a4a" stroke-width="0.9"/><ellipse rx="2.1" ry="1.6" fill="#4a90d9"/></g>
<g transform="translate(83.2 150.03) rotate(-0.69)"><rect x="-5.5" y="-4" width="11" height="8" rx="1.2" fill="#fff" stroke="#4a4a4a" stroke-width="0.9"/><ellipse rx="2.1" ry="1.6" fill="#4a90d9"/></g>
<g transform="translate(92.6 106.6) rotate(-32)"><rect x="-4.1" y="-3.8" width="8.2" height="7.6" rx="1.1" fill="#fff" stroke="#4a4a4a" stroke-width="0.9"/><ellipse rx="2" ry="1.6" fill="#4a90d9"/></g>
<g transform="translate(88 115.2) rotate(-28)"><rect x="-4.1" y="-3.8" width="8.2" height="7.6" rx="1.1" fill="#fff" stroke="#4a4a4a" stroke-width="0.9"/><ellipse rx="2" ry="1.6" fill="#4a90d9"/></g>
<g transform="translate(89.8 160.6) rotate(28)"><rect x="-4.1" y="-3.8" width="8.2" height="7.6" rx="1.1" fill="#fff" stroke="#4a4a4a" stroke-width="0.9"/><ellipse rx="2" ry="1.6" fill="#4a90d9"/></g>
</g>
<ellipse cx="30.4" cy="318" rx="3.4" ry="4.8" fill="#fff" stroke="#0a9f45" stroke-width="1.8"/>
<ellipse cx="31.7" cy="349.7" rx="3.4" ry="3.8" fill="#fff" stroke="#f00" stroke-width="2"/>
<ellipse cx="23.7" cy="334.6" rx="10.3" ry="12" fill="#fff" stroke="#f00" stroke-width="2.2"/>
<text x="23.7" y="336.2" font-size="4.2" font-weight="normal" text-anchor="middle" fill="#555" >PV</text>
<ellipse cx="106.6" cy="332.7" rx="34.31" ry="30.88" fill="#fff"/>
<g transform="translate(115.74 332.72) rotate(93.15)"><rect x="-2.56" y="-2.41" width="5.12" height="4.81" rx="0.5" fill="#f8660f"/><ellipse rx="1.4" ry="1.1" fill="#4a8ad4"/></g>
<g transform="translate(112.92 337.55) rotate(147)"><rect x="-2.56" y="-2.41" width="5.12" height="4.81" rx="0.5" fill="#f8660f"/><ellipse rx="1.4" ry="1.1" fill="#4a8ad4"/></g>
<g transform="translate(106.63 339.8) rotate(-183.84)"><rect x="-2.56" y="-2.41" width="5.12" height="4.81" rx="0.5" fill="#f8660f"/><ellipse rx="1.4" ry="1.1" fill="#4a8ad4"/></g>
<g transform="translate(99.86 337.54) rotate(-136.61)"><rect x="-2.56" y="-2.41" width="5.12" height="4.81" rx="0.5" fill="#f8660f"/><ellipse rx="1.4" ry="1.1" fill="#4a8ad4"/></g>
<g transform="translate(96.94 332.88) rotate(-90.22)"><rect x="-2.56" y="-2.41" width="5.12" height="4.81" rx="0.5" fill="#f8660f"/><ellipse rx="1.4" ry="1.1" fill="#4a8ad4"/></g>
<g transform="translate(99.95 327.61) rotate(-30.63)"><rect x="-2.56" y="-2.41" width="5.12" height="4.81" rx="0.5" fill="#f8660f"/><ellipse rx="1.4" ry="1.1" fill="#4a8ad4"/></g>
<g transform="translate(106.55 325.75) rotate(1.09)"><rect x="-2.56" y="-2.41" width="5.12" height="4.81" rx="0.5" fill="#f8660f"/><ellipse rx="1.4" ry="1.1" fill="#4a8ad4"/></g>
<g transform="translate(113.51 327.72) rotate(33.88)"><rect x="-2.56" y="-2.41" width="5.12" height="4.81" rx="0.5" fill="#f8660f"/><ellipse rx="1.4" ry="1.1" fill="#4a8ad4"/></g>
<g transform="translate(114.1 342.85) rotate(155.33)"><rect x="-2.56" y="-2.41" width="5.12" height="4.81" rx="0.5" fill="#f8660f"/><ellipse rx="1.4" ry="1.1" fill="#4a8ad4"/></g>
<g transform="translate(107.82 344.8) rotate(177.98)"><rect x="-2.56" y="-2.41" width="5.12" height="4.81" rx="0.5" fill="#f8660f"/><ellipse rx="1.4" ry="1.1" fill="#4a8ad4"/></g>
<g transform="translate(101.37 343.64) rotate(-166.59)"><rect x="-2.56" y="-2.41" width="5.12" height="4.81" rx="0.5" fill="#f8660f"/><ellipse rx="1.4" ry="1.1" fill="#4a8ad4"/></g>
<g transform="translate(95.69 340.38) rotate(-133.27)"><rect x="-2.56" y="-2.41" width="5.12" height="4.81" rx="0.5" fill="#f8660f"/><ellipse rx="1.4" ry="1.1" fill="#4a8ad4"/></g>
<g transform="translate(93.05 335.59) rotate(-98.84)"><rect x="-2.56" y="-2.41" width="5.12" height="4.81" rx="0.5" fill="#f8660f"/><ellipse rx="1.4" ry="1.1" fill="#4a8ad4"/></g>
<g transform="translate(92.81 329.38) rotate(-70.8)"><rect x="-2.56" y="-2.41" width="5.12" height="4.81" rx="0.5" fill="#f8660f"/><ellipse rx="1.4" ry="1.1" fill="#4a8ad4"/></g>
<g transform="translate(96.31 324.31) rotate(-46.08)"><rect x="-2.56" y="-2.41" width="5.12" height="4.81" rx="0.5" fill="#f8660f"/><ellipse rx="1.4" ry="1.1" fill="#4a8ad4"/></g>
<g transform="translate(101.94 321.52) rotate(-21.52)"><rect x="-2.56" y="-2.41" width="5.12" height="4.81" rx="0.5" fill="#f8660f"/><ellipse rx="1.4" ry="1.1" fill="#4a8ad4"/></g>
<g transform="translate(108.87 320.93) rotate(12.85)"><rect x="-2.56" y="-2.41" width="5.12" height="4.81" rx="0.5" fill="#f8660f"/><ellipse rx="1.4" ry="1.1" fill="#4a8ad4"/></g>
<g transform="translate(114.88 323.17) rotate(30.81)"><rect x="-2.56" y="-2.41" width="5.12" height="4.81" rx="0.5" fill="#f8660f"/><ellipse rx="1.4" ry="1.1" fill="#4a8ad4"/></g>
<g transform="translate(119.32 327.14) rotate(54.77)"><rect x="-2.56" y="-2.41" width="5.12" height="4.81" rx="0.5" fill="#f8660f"/><ellipse rx="1.4" ry="1.1" fill="#4a8ad4"/></g>
<g transform="translate(120.53 332.78) rotate(89.54)"><rect x="-2.56" y="-2.41" width="5.12" height="4.81" rx="0.5" fill="#f8660f"/><ellipse rx="1.4" ry="1.1" fill="#4a8ad4"/></g>
<g transform="translate(119.2 338.49) rotate(123.18)"><rect x="-2.56" y="-2.41" width="5.12" height="4.81" rx="0.5" fill="#f8660f"/><ellipse rx="1.4" ry="1.1" fill="#4a8ad4"/></g>
<g transform="translate(125.1 337.4) rotate(109.74)"><rect x="-2.56" y="-2.41" width="5.12" height="4.81" rx="0.5" fill="#f8660f"/><ellipse rx="1.4" ry="1.1" fill="#4a8ad4"/></g>
<g transform="translate(122.22 342.13) rotate(131.3)"><rect x="-2.56" y="-2.41" width="5.12" height="4.81" rx="0.5" fill="#f8660f"/><ellipse rx="1.4" ry="1.1" fill="#4a8ad4"/></g>
<g transform="translate(118.29 346.47) rotate(144.5)"><rect x="-2.56" y="-2.41" width="5.12" height="4.81" rx="0.5" fill="#f8660f"/><ellipse rx="1.4" ry="1.1" fill="#4a8ad4"/></g>
<g transform="translate(112.61 348.72) rotate(158.99)"><rect x="-2.56" y="-2.41" width="5.12" height="4.81" rx="0.5" fill="#f8660f"/><ellipse rx="1.4" ry="1.1" fill="#4a8ad4"/></g>
<g transform="translate(105.89 349.36) rotate(-183.96)"><rect x="-2.56" y="-2.41" width="5.12" height="4.81" rx="0.5" fill="#f8660f"/><ellipse rx="1.4" ry="1.1" fill="#4a8ad4"/></g>
<g transform="translate(100 348.21) rotate(-160.41)"><rect x="-2.56" y="-2.41" width="5.12" height="4.81" rx="0.5" fill="#f8660f"/><ellipse rx="1.4" ry="1.1" fill="#4a8ad4"/></g>
<g transform="translate(94.1 345.88) rotate(-146.57)"><rect x="-2.56" y="-2.41" width="5.12" height="4.81" rx="0.5" fill="#f8660f"/><ellipse rx="1.4" ry="1.1" fill="#4a8ad4"/></g>
<g transform="translate(90.09 341.61) rotate(-124.71)"><rect x="-2.56" y="-2.41" width="5.12" height="4.81" rx="0.5" fill="#f8660f"/><ellipse rx="1.4" ry="1.1" fill="#4a8ad4"/></g>
<g transform="translate(87.68 336.36) rotate(-101.64)"><rect x="-2.56" y="-2.41" width="5.12" height="4.81" rx="0.5" fill="#f8660f"/><ellipse rx="1.4" ry="1.1" fill="#4a8ad4"/></g>
<g transform="translate(87.53 330.78) rotate(-87.01)"><rect x="-2.56" y="-2.41" width="5.12" height="4.81" rx="0.5" fill="#f8660f"/><ellipse rx="1.4" ry="1.1" fill="#4a8ad4"/></g>
<g transform="translate(89.32 325.61) rotate(-56.14)"><rect x="-2.56" y="-2.41" width="5.12" height="4.81" rx="0.5" fill="#f8660f"/><ellipse rx="1.4" ry="1.1" fill="#4a8ad4"/></g>
<g transform="translate(92.83 320.71) rotate(-37.53)"><rect x="-2.56" y="-2.41" width="5.12" height="4.81" rx="0.5" fill="#f8660f"/><ellipse rx="1.4" ry="1.1" fill="#4a8ad4"/></g>
<g transform="translate(97.87 317.42) rotate(-25.14)"><rect x="-2.56" y="-2.41" width="5.12" height="4.81" rx="0.5" fill="#f8660f"/><ellipse rx="1.4" ry="1.1" fill="#4a8ad4"/></g>
<g transform="translate(103.95 316.12) rotate(-6.28)"><rect x="-2.56" y="-2.41" width="5.12" height="4.81" rx="0.5" fill="#f8660f"/><ellipse rx="1.4" ry="1.1" fill="#4a8ad4"/></g>
<g transform="translate(110.52 316.3) rotate(13.73)"><rect x="-2.56" y="-2.41" width="5.12" height="4.81" rx="0.5" fill="#f8660f"/><ellipse rx="1.4" ry="1.1" fill="#4a8ad4"/></g>
<g transform="translate(116.37 318.35) rotate(23.98)"><rect x="-2.56" y="-2.41" width="5.12" height="4.81" rx="0.5" fill="#f8660f"/><ellipse rx="1.4" ry="1.1" fill="#4a8ad4"/></g>
<g transform="translate(121.39 321.57) rotate(44.02)"><rect x="-2.56" y="-2.41" width="5.12" height="4.81" rx="0.5" fill="#f8660f"/><ellipse rx="1.4" ry="1.1" fill="#4a8ad4"/></g>
<g transform="translate(124.45 326.21) rotate(61.77)"><rect x="-2.56" y="-2.41" width="5.12" height="4.81" rx="0.5" fill="#f8660f"/><ellipse rx="1.4" ry="1.1" fill="#4a8ad4"/></g>
<g transform="translate(126.01 331.73) rotate(89.8)"><rect x="-2.56" y="-2.41" width="5.12" height="4.81" rx="0.5" fill="#f8660f"/><ellipse rx="1.4" ry="1.1" fill="#4a8ad4"/></g>
<g transform="translate(130.94 338.11) rotate(106.14)"><rect x="-2.56" y="-2.41" width="5.12" height="4.81" rx="0.5" fill="#f8660f"/><ellipse rx="1.4" ry="1.1" fill="#4a8ad4"/></g>
<g transform="translate(128.43 343.06) rotate(116.31)"><rect x="-2.56" y="-2.41" width="5.12" height="4.81" rx="0.5" fill="#f8660f"/><ellipse rx="1.4" ry="1.1" fill="#4a8ad4"/></g>
<g transform="translate(124.77 347.7) rotate(130.85)"><rect x="-2.56" y="-2.41" width="5.12" height="4.81" rx="0.5" fill="#f8660f"/><ellipse rx="1.4" ry="1.1" fill="#4a8ad4"/></g>
<g transform="translate(119.99 351.4) rotate(148.34)"><rect x="-2.56" y="-2.41" width="5.12" height="4.81" rx="0.5" fill="#f8660f"/><ellipse rx="1.4" ry="1.1" fill="#4a8ad4"/></g>
<g transform="translate(114.44 353.54) rotate(167.28)"><rect x="-2.56" y="-2.41" width="5.12" height="4.81" rx="0.5" fill="#f8660f"/><ellipse rx="1.4" ry="1.1" fill="#4a8ad4"/></g>
<g transform="translate(108.29 354.85) rotate(177.21)"><rect x="-2.56" y="-2.41" width="5.12" height="4.81" rx="0.5" fill="#f8660f"/><ellipse rx="1.4" ry="1.1" fill="#4a8ad4"/></g>
<g transform="translate(101.72 354.36) rotate(-174.35)"><rect x="-2.56" y="-2.41" width="5.12" height="4.81" rx="0.5" fill="#f8660f"/><ellipse rx="1.4" ry="1.1" fill="#4a8ad4"/></g>
<g transform="translate(96.02 352.89) rotate(-155.58)"><rect x="-2.56" y="-2.41" width="5.12" height="4.81" rx="0.5" fill="#f8660f"/><ellipse rx="1.4" ry="1.1" fill="#4a8ad4"/></g>
<g transform="translate(90.9 349.56) rotate(-145.47)"><rect x="-2.56" y="-2.41" width="5.12" height="4.81" rx="0.5" fill="#f8660f"/><ellipse rx="1.4" ry="1.1" fill="#4a8ad4"/></g>
<g transform="translate(86.41 345.5) rotate(-130.8)"><rect x="-2.56" y="-2.41" width="5.12" height="4.81" rx="0.5" fill="#f8660f"/><ellipse rx="1.4" ry="1.1" fill="#4a8ad4"/></g>
<g transform="translate(83.19 340.97) rotate(-119.83)"><rect x="-2.56" y="-2.41" width="5.12" height="4.81" rx="0.5" fill="#f8660f"/><ellipse rx="1.4" ry="1.1" fill="#4a8ad4"/></g>
<g transform="translate(81.88 335.4) rotate(-92.53)"><rect x="-2.56" y="-2.41" width="5.12" height="4.81" rx="0.5" fill="#f8660f"/><ellipse rx="1.4" ry="1.1" fill="#4a8ad4"/></g>
<g transform="translate(81.49 329.84) rotate(-82.06)"><rect x="-2.56" y="-2.41" width="5.12" height="4.81" rx="0.5" fill="#f8660f"/><ellipse rx="1.4" ry="1.1" fill="#4a8ad4"/></g>
<g transform="translate(83.08 324.38) rotate(-68.13)"><rect x="-2.56" y="-2.41" width="5.12" height="4.81" rx="0.5" fill="#f8660f"/><ellipse rx="1.4" ry="1.1" fill="#4a8ad4"/></g>
<g transform="translate(86.26 319.84) rotate(-51.26)"><rect x="-2.56" y="-2.41" width="5.12" height="4.81" rx="0.5" fill="#f8660f"/><ellipse rx="1.4" ry="1.1" fill="#4a8ad4"/></g>
<g transform="translate(90.31 315.97) rotate(-36.85)"><rect x="-2.56" y="-2.41" width="5.12" height="4.81" rx="0.5" fill="#f8660f"/><ellipse rx="1.4" ry="1.1" fill="#4a8ad4"/></g>
<g transform="translate(95.87 312.93) rotate(-17.77)"><rect x="-2.56" y="-2.41" width="5.12" height="4.81" rx="0.5" fill="#f8660f"/><ellipse rx="1.4" ry="1.1" fill="#4a8ad4"/></g>
<g transform="translate(101.99 311.01) rotate(-13.6)"><rect x="-2.56" y="-2.41" width="5.12" height="4.81" rx="0.5" fill="#f8660f"/><ellipse rx="1.4" ry="1.1" fill="#4a8ad4"/></g>
<g transform="translate(108.33 310.48) rotate(3.88)"><rect x="-2.56" y="-2.41" width="5.12" height="4.81" rx="0.5" fill="#f8660f"/><ellipse rx="1.4" ry="1.1" fill="#4a8ad4"/></g>
<g transform="translate(114.18 311.7) rotate(14.83)"><rect x="-2.56" y="-2.41" width="5.12" height="4.81" rx="0.5" fill="#f8660f"/><ellipse rx="1.4" ry="1.1" fill="#4a8ad4"/></g>
<g transform="translate(120.08 314.31) rotate(23.48)"><rect x="-2.56" y="-2.41" width="5.12" height="4.81" rx="0.5" fill="#f8660f"/><ellipse rx="1.4" ry="1.1" fill="#4a8ad4"/></g>
<g transform="translate(124.78 317.55) rotate(46.76)"><rect x="-2.56" y="-2.41" width="5.12" height="4.81" rx="0.5" fill="#f8660f"/><ellipse rx="1.4" ry="1.1" fill="#4a8ad4"/></g>
<g transform="translate(128.76 322.2) rotate(62.74)"><rect x="-2.56" y="-2.41" width="5.12" height="4.81" rx="0.5" fill="#f8660f"/><ellipse rx="1.4" ry="1.1" fill="#4a8ad4"/></g>
<g transform="translate(130.87 327.35) rotate(73)"><rect x="-2.56" y="-2.41" width="5.12" height="4.81" rx="0.5" fill="#f8660f"/><ellipse rx="1.4" ry="1.1" fill="#4a8ad4"/></g>
<g transform="translate(131.69 332.87) rotate(94.3)"><rect x="-2.56" y="-2.41" width="5.12" height="4.81" rx="0.5" fill="#f8660f"/><ellipse rx="1.4" ry="1.1" fill="#4a8ad4"/></g>
<g transform="translate(135.33 342.93) rotate(119.7)"><rect x="-2.56" y="-2.41" width="5.12" height="4.81" rx="0.5" fill="#f8660f"/><ellipse rx="1.4" ry="1.1" fill="#4a8ad4"/></g>
<g transform="translate(132.46 347.86) rotate(125.81)"><rect x="-2.56" y="-2.41" width="5.12" height="4.81" rx="0.5" fill="#f8660f"/><ellipse rx="1.4" ry="1.1" fill="#4a8ad4"/></g>
<g transform="translate(128.49 352.16) rotate(135.04)"><rect x="-2.56" y="-2.41" width="5.12" height="4.81" rx="0.5" fill="#f8660f"/><ellipse rx="1.4" ry="1.1" fill="#4a8ad4"/></g>
<g transform="translate(123.94 355.69) rotate(152.66)"><rect x="-2.56" y="-2.41" width="5.12" height="4.81" rx="0.5" fill="#f8660f"/><ellipse rx="1.4" ry="1.1" fill="#4a8ad4"/></g>
<g transform="translate(118.29 358.35) rotate(163.8)"><rect x="-2.56" y="-2.41" width="5.12" height="4.81" rx="0.5" fill="#f8660f"/><ellipse rx="1.4" ry="1.1" fill="#4a8ad4"/></g>
<g transform="translate(111.81 359.78) rotate(174.57)"><rect x="-2.56" y="-2.41" width="5.12" height="4.81" rx="0.5" fill="#f8660f"/><ellipse rx="1.4" ry="1.1" fill="#4a8ad4"/></g>
<g transform="translate(105.77 360.36) rotate(-176.36)"><rect x="-2.56" y="-2.41" width="5.12" height="4.81" rx="0.5" fill="#f8660f"/><ellipse rx="1.4" ry="1.1" fill="#4a8ad4"/></g>
<g transform="translate(99.27 359.79) rotate(-170.49)"><rect x="-2.56" y="-2.41" width="5.12" height="4.81" rx="0.5" fill="#f8660f"/><ellipse rx="1.4" ry="1.1" fill="#4a8ad4"/></g>
<g transform="translate(93.61 358.07) rotate(-162.22)"><rect x="-2.56" y="-2.41" width="5.12" height="4.81" rx="0.5" fill="#f8660f"/><ellipse rx="1.4" ry="1.1" fill="#4a8ad4"/></g>
<g transform="translate(88.22 355.27) rotate(-142.11)"><rect x="-2.56" y="-2.41" width="5.12" height="4.81" rx="0.5" fill="#f8660f"/><ellipse rx="1.4" ry="1.1" fill="#4a8ad4"/></g>
<g transform="translate(83.54 351.45) rotate(-138.14)"><rect x="-2.56" y="-2.41" width="5.12" height="4.81" rx="0.5" fill="#f8660f"/><ellipse rx="1.4" ry="1.1" fill="#4a8ad4"/></g>
<g transform="translate(79.94 346.81) rotate(-122.85)"><rect x="-2.56" y="-2.41" width="5.12" height="4.81" rx="0.5" fill="#f8660f"/><ellipse rx="1.4" ry="1.1" fill="#4a8ad4"/></g>
<g transform="translate(77.43 341.51) rotate(-116.01)"><rect x="-2.56" y="-2.41" width="5.12" height="4.81" rx="0.5" fill="#f8660f"/><ellipse rx="1.4" ry="1.1" fill="#4a8ad4"/></g>
<g transform="translate(75.51 336.46) rotate(-98.36)"><rect x="-2.56" y="-2.41" width="5.12" height="4.81" rx="0.5" fill="#f8660f"/><ellipse rx="1.4" ry="1.1" fill="#4a8ad4"/></g>
<g transform="translate(75.76 330.79) rotate(-89.34)"><rect x="-2.56" y="-2.41" width="5.12" height="4.81" rx="0.5" fill="#f8660f"/><ellipse rx="1.4" ry="1.1" fill="#4a8ad4"/></g>
<g transform="translate(76.5 325.01) rotate(-76.55)"><rect x="-2.56" y="-2.41" width="5.12" height="4.81" rx="0.5" fill="#f8660f"/><ellipse rx="1.4" ry="1.1" fill="#4a8ad4"/></g>
<g transform="translate(78.94 319.76) rotate(-54.81)"><rect x="-2.56" y="-2.41" width="5.12" height="4.81" rx="0.5" fill="#f8660f"/><ellipse rx="1.4" ry="1.1" fill="#4a8ad4"/></g>
<g transform="translate(82.4 315.14) rotate(-45.55)"><rect x="-2.56" y="-2.41" width="5.12" height="4.81" rx="0.5" fill="#f8660f"/><ellipse rx="1.4" ry="1.1" fill="#4a8ad4"/></g>
<g transform="translate(86.74 311.38) rotate(-40.02)"><rect x="-2.56" y="-2.41" width="5.12" height="4.81" rx="0.5" fill="#f8660f"/><ellipse rx="1.4" ry="1.1" fill="#4a8ad4"/></g>
<g transform="translate(92.36 308.14) rotate(-26.77)"><rect x="-2.56" y="-2.41" width="5.12" height="4.81" rx="0.5" fill="#f8660f"/><ellipse rx="1.4" ry="1.1" fill="#4a8ad4"/></g>
<g transform="translate(98.24 305.75) rotate(-9.49)"><rect x="-2.56" y="-2.41" width="5.12" height="4.81" rx="0.5" fill="#f8660f"/><ellipse rx="1.4" ry="1.1" fill="#4a8ad4"/></g>
<g transform="translate(104.14 304.82) rotate(-8.66)"><rect x="-2.56" y="-2.41" width="5.12" height="4.81" rx="0.5" fill="#f8660f"/><ellipse rx="1.4" ry="1.1" fill="#4a8ad4"/></g>
<g transform="translate(110.77 305.08) rotate(2.69)"><rect x="-2.56" y="-2.41" width="5.12" height="4.81" rx="0.5" fill="#f8660f"/><ellipse rx="1.4" ry="1.1" fill="#4a8ad4"/></g>
<g transform="translate(116.65 306.32) rotate(11.63)"><rect x="-2.56" y="-2.41" width="5.12" height="4.81" rx="0.5" fill="#f8660f"/><ellipse rx="1.4" ry="1.1" fill="#4a8ad4"/></g>
<g transform="translate(122.61 308.53) rotate(26.61)"><rect x="-2.56" y="-2.41" width="5.12" height="4.81" rx="0.5" fill="#f8660f"/><ellipse rx="1.4" ry="1.1" fill="#4a8ad4"/></g>
<g transform="translate(127.29 311.84) rotate(33.81)"><rect x="-2.56" y="-2.41" width="5.12" height="4.81" rx="0.5" fill="#f8660f"/><ellipse rx="1.4" ry="1.1" fill="#4a8ad4"/></g>
<g transform="translate(131.99 316.51) rotate(53.06)"><rect x="-2.56" y="-2.41" width="5.12" height="4.81" rx="0.5" fill="#f8660f"/><ellipse rx="1.4" ry="1.1" fill="#4a8ad4"/></g>
<g transform="translate(134.79 320.99) rotate(67.25)"><rect x="-2.56" y="-2.41" width="5.12" height="4.81" rx="0.5" fill="#f8660f"/><ellipse rx="1.4" ry="1.1" fill="#4a8ad4"/></g>
<g transform="translate(137.18 326.37) rotate(74.44)"><rect x="-2.56" y="-2.41" width="5.12" height="4.81" rx="0.5" fill="#f8660f"/><ellipse rx="1.4" ry="1.1" fill="#4a8ad4"/></g>
<g transform="translate(137.94 331.83) rotate(85.6)"><rect x="-2.56" y="-2.41" width="5.12" height="4.81" rx="0.5" fill="#f8660f"/><ellipse rx="1.4" ry="1.1" fill="#4a8ad4"/></g>
<g transform="translate(137.26 337.88) rotate(102.24)"><rect x="-2.56" y="-2.41" width="5.12" height="4.81" rx="0.5" fill="#f8660f"/><ellipse rx="1.4" ry="1.1" fill="#4a8ad4"/></g>
<ellipse cx="106.6" cy="332.7" rx="11.84" ry="9.62" fill="none" stroke="#000" stroke-width="1" stroke-dasharray="4.79 2.19" stroke-dashoffset="0"/>
<ellipse cx="106.6" cy="332.7" rx="16.49" ry="14.31" fill="none" stroke="#000" stroke-width="1" stroke-dasharray="4.79 2.19" stroke-dashoffset="3"/>
<ellipse cx="106.6" cy="332.7" rx="22.14" ry="19.37" fill="none" stroke="#000" stroke-width="1" stroke-dasharray="4.79 2.19" stroke-dashoffset="6"/>
<ellipse cx="106.6" cy="332.7" rx="27.93" ry="24.63" fill="none" stroke="#000" stroke-width="1" stroke-dasharray="4.79 2.19" stroke-dashoffset="9"/>
<ellipse cx="106.6" cy="332.7" rx="34.31" ry="30.88" fill="none" stroke="#000" stroke-width="1" stroke-dasharray="4.79 2.19" stroke-dashoffset="12"/>
<ellipse cx="105.6" cy="333.4" rx="5.7" ry="3.2" fill="#fff" stroke="#f00" stroke-width="2.2"/>
<text x="105.6" y="335" font-size="4.4" font-weight="normal" text-anchor="middle" fill="#555" >CV</text>
<text x="30.6" y="388.4" font-size="11.2" font-weight="normal" text-anchor="start" fill="#000" textLength="89" lengthAdjust="spacingAndGlyphs" >Lineage tracing of</text>
<text x="30.6" y="401.6" font-size="11.2" font-weight="normal" text-anchor="start" fill="#000" textLength="102.4" lengthAdjust="spacingAndGlyphs" >cyp2e1<tspan font-size="7" dy="-3.6">+</tspan><tspan dy="3.6"> hepatocytes</tspan></text>
<defs><filter id="bl" x="-30%" y="-30%" width="160%" height="160%"><feGaussianBlur stdDeviation="0.7"/></filter><filter id="bl2" x="-30%" y="-30%" width="160%" height="160%"><feGaussianBlur stdDeviation="0.35"/></filter></defs>
<path d="M166.6 298.3V359.5H220.5" fill="none" stroke="#d0d0d0" stroke-width="0.8"/>
<g filter="url(#bl)">
<path d="M186.57 308.94C186.4 307.77 187.07 306.78 187.9 304.95C188.73 303.12 188.23 302.45 189.89 301.62C191.56 300.79 192.72 300.79 194.55 301.62C196.38 302.45 196.38 303.62 197.21 304.95C198.04 306.28 198.37 305.94 197.87 306.94C197.37 307.94 196.88 308.7 195.21 308.94C193.55 309.17 192.89 307.71 191.22 307.87C189.56 308.04 189.73 309.34 188.56 309.6C187.4 309.87 186.74 310.1 186.57 308.94Z" fill="#8fe0d3" stroke="#8fe0d3" stroke-width="0.8" stroke-linejoin="round"/>
<path d="M195.88 306.94C197.37 305.78 199.04 305.78 201.86 306.28C204.69 306.78 205.52 307.11 207.18 308.94C208.84 310.76 209.51 311.76 208.51 313.59C207.51 315.42 206.02 315.92 203.19 316.25C200.37 316.58 199.04 316.25 197.21 314.92C195.38 313.59 196.21 312.93 195.88 310.93C195.55 308.94 194.38 308.11 195.88 306.94Z" fill="#d283e8" stroke="#d283e8" stroke-width="0.8" stroke-linejoin="round"/>
<path d="M207.18 308.94C208.51 308.44 210.17 309.1 212.5 310.93C214.83 312.76 215.33 313.76 216.49 316.25C217.65 318.74 218.15 319.67 217.15 320.9C216.16 322.13 214.66 321.34 212.5 321.17C210.34 321 210.17 321.47 208.51 320.24C206.85 319.01 206.18 318.08 205.85 316.25C205.52 314.42 206.85 314.75 207.18 312.93C207.51 311.1 205.85 309.43 207.18 308.94Z" fill="#7b8fe0" stroke="#7b8fe0" stroke-width="0.8" stroke-linejoin="round"/>
<path d="M196.54 314.92C198.7 314.42 200.53 315.25 203.19 316.25C205.85 317.25 205.68 317.08 207.18 318.91C208.68 320.74 209.51 322.07 209.18 323.56C208.84 325.06 208.68 324.56 205.85 324.89C203.03 325.23 200.86 324.73 197.87 324.89C194.88 325.06 195.05 326.06 193.88 325.56C192.72 325.06 193.05 324.73 193.22 322.9C193.38 321.07 193.72 320.24 194.55 318.24C195.38 316.25 194.38 315.42 196.54 314.92Z" fill="#de9a8f" stroke="#de9a8f" stroke-width="0.8" stroke-linejoin="round"/>
<path d="M209.18 321.57C211.17 320.57 214.66 318.74 216.49 320.24C218.32 321.74 217.49 325.23 216.49 327.55C215.49 329.88 214.49 329.38 212.5 329.55C210.51 329.71 209.51 329.55 208.51 328.22C207.51 326.89 208.34 325.89 208.51 324.23C208.68 322.57 207.18 322.57 209.18 321.57Z" fill="#cddb52" stroke="#cddb52" stroke-width="0.8" stroke-linejoin="round"/>
<path d="M194.55 325.56C197.21 324.06 202.19 324.06 205.85 324.89C209.51 325.72 208.51 326.72 209.18 328.88C209.84 331.04 210.01 331.71 208.51 333.54C207.01 335.37 206.02 335.86 203.19 336.2C200.37 336.53 199.2 336.2 197.21 334.87C195.21 333.54 195.88 333.2 195.21 330.88C194.55 328.55 191.89 327.05 194.55 325.56Z" fill="#70dc6a" stroke="#70dc6a" stroke-width="0.8" stroke-linejoin="round"/>
<path d="M190.56 325.56C191.22 324.39 193.38 324.06 194.55 324.89C195.71 325.72 195.88 327.72 195.21 328.88C194.55 330.05 193.05 330.38 191.89 329.55C190.72 328.72 189.89 326.72 190.56 325.56Z" fill="#6d5a36" stroke="#6d5a36" stroke-width="0.8" stroke-linejoin="round"/>
<path d="M212.5 329.55C213.66 328.72 215.09 327.89 216.49 328.88C217.89 329.88 218.25 331.38 218.09 333.54C217.92 335.7 217.22 336.86 215.82 337.53C214.43 338.19 213.5 337.53 212.5 336.2C211.5 334.87 211.84 333.87 211.84 332.21C211.84 330.55 211.34 330.38 212.5 329.55Z" fill="#3cb88a" stroke="#3cb88a" stroke-width="0.8" stroke-linejoin="round"/>
<path d="M172.61 318.24C173.6 316.91 174.27 316.25 175.93 316.25C177.59 316.25 178.26 316.75 179.26 318.24C180.25 319.74 180.42 320.57 179.92 322.23C179.42 323.9 178.76 324.39 177.26 324.89C175.76 325.39 175.27 325.06 173.94 324.23C172.61 323.4 172.27 323.07 171.94 321.57C171.61 320.07 171.61 319.57 172.61 318.24Z" fill="#5c9553" stroke="#5c9553" stroke-width="0.8" stroke-linejoin="round"/>
<path d="M169.95 327.55C170.61 326.22 171.78 325.06 173.27 324.89C174.77 324.73 174.43 326.22 175.93 326.89C177.43 327.55 178.26 326.56 179.26 327.55C180.25 328.55 180.59 329.71 179.92 330.88C179.26 332.04 178.26 332.04 176.6 332.21C174.93 332.37 174.77 332.04 173.27 331.54C171.78 331.04 171.44 331.21 170.61 330.21C169.78 329.22 169.28 328.88 169.95 327.55Z" fill="#6e9bb2" stroke="#6e9bb2" stroke-width="0.8" stroke-linejoin="round"/>
<path d="M183.24 336.2C184.57 334.37 185.74 333.7 187.9 333.54C190.06 333.37 190.72 333.87 191.89 335.53C193.05 337.19 193.05 338.19 192.55 340.19C192.05 342.18 191.72 342.51 189.89 343.51C188.07 344.51 187.07 344.84 185.24 344.18C183.41 343.51 183.08 342.85 182.58 340.85C182.08 338.86 181.91 338.03 183.24 336.2Z" fill="#e47c48" stroke="#e47c48" stroke-width="0.8" stroke-linejoin="round"/>
<path d="M192.55 346.84C193.38 345.17 194.71 343.84 196.54 343.51C198.37 343.18 199.2 344.18 199.87 345.51C200.53 346.84 198.54 347.33 199.2 348.83C199.87 350.33 202.19 350.49 202.53 351.49C202.86 352.49 202.19 352.82 200.53 352.82C198.87 352.82 197.71 352.15 195.88 351.49C194.05 350.82 194.05 351.32 193.22 350.16C192.39 349 191.72 348.5 192.55 346.84Z" fill="#9f3d46" stroke="#9f3d46" stroke-width="0.8" stroke-linejoin="round"/>
<path d="M200.53 352.15C201.7 351.66 203.86 351.66 205.85 352.15C207.85 352.65 208.68 353.32 208.51 354.15C208.34 354.98 207.01 355.48 205.19 355.48C203.36 355.48 202.36 354.98 201.2 354.15C200.03 353.32 199.37 352.65 200.53 352.15Z" fill="#d24646" stroke="#d24646" stroke-width="0.8" stroke-linejoin="round"/>
<path d="M207.18 350.82C208.01 349.66 209.67 349 212.5 348.83C215.33 348.66 217.82 349.16 218.48 350.16C219.15 351.16 217.49 351.99 215.16 352.82C212.83 353.65 211.17 353.98 209.18 353.48C207.18 352.99 206.35 351.99 207.18 350.82Z" fill="#cfa84f" stroke="#cfa84f" stroke-width="0.8" stroke-linejoin="round"/>
</g>
<path d="M193.1 304.0h.1M192.4 309.8h.1M195.0 308.0h.1M188.0 305.0h.1M194.9 308.7h.1M186.9 306.1h.1M197.6 306.8h.1M194.5 309.3h.1M186.9 306.0h.1M193.4 308.2h.1M196.4 308.0h.1M189.6 305.8h.1M192.7 307.2h.1M193.4 309.0h.1M187.7 307.4h.1M196.7 307.8h.1M196.9 305.8h.1M191.9 302.5h.1M195.3 307.7h.1M196.5 307.8h.1M190.3 305.9h.1M187.4 307.4h.1M190.2 305.7h.1M193.3 305.8h.1M195.2 302.9h.1M192.1 302.3h.1M189.5 305.8h.1M187.3 306.8h.1M192.5 303.7h.1M193.1 305.9h.1M191.0 306.2h.1M188.6 309.2h.1M196.3 308.8h.1M196.0 304.3h.1M195.8 307.1h.1M191.5 305.0h.1M191.6 307.3h.1M195.1 303.0h.1M196.5 304.6h.1M190.9 305.7h.1M187.2 306.6h.1M192.1 305.5h.1M193.8 306.2h.1M193.8 305.5h.1M189.1 307.9h.1M193.7 305.2h.1M191.8 309.7h.1M194.1 307.0h.1M197.6 306.8h.1M192.5 309.0h.1M188.0 308.9h.1M191.1 303.2h.1M189.2 306.3h.1M193.1 305.1h.1M189.9 304.7h.1M191.5 308.8h.1M193.7 309.0h.1M192.8 306.4h.1M193.2 307.1h.1M195.0 304.2h.1M190.0 303.0h.1M194.9 309.5h.1M189.2 308.0h.1M187.4 306.4h.1M192.4 304.4h.1M193.9 303.9h.1M192.1 309.9h.1M195.7 303.5h.1M189.7 309.6h.1M193.0 302.3h.1M192.3 302.2h.1M187.3 306.6h.1M192.9 303.3h.1M188.5 306.1h.1M194.5 304.4h.1M192.0 303.2h.1M191.3 304.0h.1M196.2 307.7h.1M194.2 308.0h.1M192.4 305.3h.1M195.8 304.5h.1M187.8 304.9h.1M192.9 306.4h.1M191.3 303.2h.1M188.8 303.4h.1M191.8 307.7h.1M193.5 306.0h.1M187.7 305.8h.1M193.7 305.8h.1M191.6 305.1h.1M187.8 307.1h.1M192.8 305.5h.1M192.1 304.6h.1M187.5 308.4h.1M193.0 305.3h.1M193.1 306.2h.1M192.3 305.4h.1M193.2 302.7h.1M194.4 302.6h.1M188.7 303.5h.1M187.7 305.3h.1M195.9 307.4h.1M195.6 306.0h.1M191.6 304.5h.1M188.0 306.5h.1M192.5 303.9h.1M189.7 306.5h.1M187.3 304.4h.1M188.6 308.3h.1M189.8 305.5h.1M191.3 304.4h.1M187.9 303.5h.1M190.5 309.2h.1M189.7 308.9h.1M193.6 308.8h.1M192.7 304.4h.1M190.5 307.7h.1M194.6 308.9h.1M194.1 303.6h.1M189.2 306.9h.1M192.5 310.0h.1M187.5 306.6h.1M191.7 307.8h.1M195.2 306.3h.1M188.5 307.6h.1M188.6 303.9h.1M195.7 303.7h.1M190.2 302.9h.1M188.4 305.4h.1M196.7 304.2h.1M188.1 308.6h.1M187.7 307.6h.1M196.4 306.6h.1M195.6 305.3h.1M195.3 303.8h.1M193.7 306.3h.1M189.4 309.6h.1M189.7 303.6h.1M194.2 304.3h.1M194.4 308.3h.1M194.0 305.3h.1M189.0 306.3h.1M191.0 307.1h.1M194.5 305.0h.1M192.7 304.5h.1M191.3 306.4h.1M188.7 304.7h.1M189.8 306.9h.1M191.4 305.6h.1M195.7 305.0h.1M189.3 304.5h.1M193.1 306.3h.1M191.5 303.4h.1M191.4 309.0h.1M194.9 304.1h.1M187.8 305.8h.1M192.8 305.7h.1M189.9 303.6h.1M191.6 304.6h.1M194.5 303.0h.1M191.2 310.0h.1M196.1 307.1h.1M203.7 312.2h.1M198.0 307.9h.1M198.3 311.4h.1M197.3 310.2h.1M198.4 313.3h.1M197.7 311.8h.1M204.6 313.6h.1M200.2 315.5h.1M206.6 309.9h.1M199.3 314.1h.1M201.2 308.7h.1M201.8 310.1h.1M206.0 310.4h.1M202.1 307.3h.1M203.8 308.5h.1M203.8 312.3h.1M201.2 306.2h.1M202.0 314.6h.1M202.1 308.4h.1M201.9 315.5h.1M204.1 313.0h.1M197.7 309.2h.1M205.6 310.0h.1M199.1 312.3h.1M202.0 310.1h.1M205.2 311.4h.1M202.5 308.8h.1M199.5 311.4h.1M200.2 315.9h.1M202.6 309.9h.1M205.5 310.2h.1M203.9 313.4h.1M204.0 310.6h.1M201.9 306.3h.1M206.1 308.9h.1M203.3 310.3h.1M199.3 306.5h.1M200.6 311.0h.1M200.3 314.3h.1M196.8 313.3h.1M201.6 311.5h.1M198.0 307.0h.1M196.2 311.5h.1M200.1 307.2h.1M201.7 310.3h.1M200.2 308.0h.1M197.1 314.0h.1M205.5 314.6h.1M203.6 306.9h.1M204.0 310.0h.1M196.4 308.5h.1M196.4 310.0h.1M205.5 313.6h.1M205.8 311.7h.1M204.8 311.6h.1M203.9 312.8h.1M205.0 314.1h.1M195.9 310.4h.1M203.4 307.2h.1M197.8 308.9h.1M201.9 307.9h.1M198.5 313.3h.1M204.2 311.5h.1M198.5 309.0h.1M199.6 311.8h.1M204.8 315.0h.1M202.6 308.3h.1M205.5 309.2h.1M201.4 309.2h.1M205.5 310.2h.1M202.4 312.1h.1M201.6 311.2h.1M202.3 306.7h.1M201.0 313.8h.1M204.0 309.9h.1M206.0 308.5h.1M197.8 312.9h.1M198.3 312.8h.1M199.9 307.2h.1M203.6 311.1h.1M199.7 314.5h.1M203.0 306.3h.1M202.2 309.7h.1M201.6 308.8h.1M199.8 311.7h.1M205.5 311.7h.1M203.8 309.3h.1M206.6 311.9h.1M201.0 312.6h.1M203.1 315.6h.1M205.0 309.1h.1M196.2 311.7h.1M199.2 313.7h.1M202.4 307.1h.1M205.0 308.7h.1M204.1 307.1h.1M201.8 315.1h.1M199.0 310.4h.1M202.1 314.2h.1M202.5 310.8h.1M207.4 310.0h.1M197.3 313.4h.1M201.0 312.1h.1M206.7 311.7h.1M202.0 314.6h.1M201.2 311.6h.1M198.0 313.2h.1M205.8 310.3h.1M205.3 310.6h.1M203.9 308.1h.1M207.4 311.8h.1M199.5 307.6h.1M200.9 311.3h.1M202.4 310.3h.1M205.7 313.9h.1M200.4 313.9h.1M200.8 314.5h.1M202.3 308.3h.1M204.6 313.8h.1M197.8 314.9h.1M205.2 312.4h.1M196.4 313.2h.1M203.5 315.2h.1M195.9 309.7h.1M202.9 307.8h.1M201.0 309.3h.1M201.5 308.8h.1M199.0 310.4h.1M205.2 310.1h.1M198.9 308.2h.1M200.4 309.1h.1M202.0 308.0h.1M197.6 307.4h.1M198.4 307.5h.1M197.1 311.4h.1M205.1 309.3h.1M204.8 311.8h.1M200.6 311.2h.1M205.3 313.3h.1M204.2 315.4h.1M203.9 313.0h.1M204.6 312.8h.1M206.3 311.4h.1M202.7 312.4h.1M200.1 312.5h.1M201.3 316.0h.1M199.2 314.9h.1M198.5 307.7h.1M197.4 312.1h.1M200.0 309.6h.1M203.4 311.6h.1M205.6 311.7h.1M205.0 312.9h.1M198.6 310.1h.1M199.3 307.9h.1M199.5 314.4h.1M206.0 311.9h.1M204.3 315.4h.1M197.1 309.9h.1M201.8 312.5h.1M203.4 313.6h.1M204.1 315.3h.1M200.2 314.2h.1M198.5 313.1h.1M203.7 314.8h.1M203.8 307.9h.1M202.0 315.5h.1M206.5 312.0h.1M198.8 312.0h.1M203.1 310.9h.1M199.2 314.8h.1M206.7 312.3h.1M204.0 311.1h.1M202.3 310.4h.1M203.1 309.7h.1M198.8 313.0h.1M198.5 307.9h.1M202.9 313.4h.1M195.4 311.4h.1M196.3 311.7h.1M203.2 307.3h.1M203.7 308.6h.1M201.1 309.6h.1M201.8 312.3h.1M203.0 309.5h.1M197.8 311.6h.1M201.0 312.9h.1M197.3 312.5h.1M196.3 310.4h.1M204.7 308.6h.1M198.8 310.5h.1M198.9 313.1h.1M200.8 309.4h.1M198.4 311.5h.1M203.4 309.8h.1M198.2 309.9h.1M200.6 310.7h.1M202.0 308.5h.1M197.5 313.4h.1M205.7 309.5h.1M199.5 310.9h.1M202.8 312.9h.1M201.9 310.6h.1M202.8 308.5h.1M201.9 307.7h.1M204.8 309.5h.1M203.3 313.7h.1M199.4 310.1h.1M197.7 307.6h.1M207.6 311.3h.1M198.9 314.4h.1M205.9 309.4h.1M206.5 309.6h.1M205.7 308.4h.1M198.3 311.0h.1M197.6 307.7h.1M206.7 312.6h.1M198.9 312.3h.1M205.8 313.7h.1M200.3 311.5h.1M201.5 312.2h.1M200.9 313.1h.1M199.8 311.8h.1M206.6 311.4h.1M206.4 309.6h.1M205.8 314.5h.1M213.8 310.9h.1M207.9 318.9h.1M206.5 312.2h.1M213.9 314.8h.1M215.2 316.6h.1M210.9 314.3h.1M212.2 314.8h.1M209.0 310.9h.1M213.9 315.4h.1M209.1 315.9h.1M209.3 310.2h.1M211.5 315.6h.1M214.9 320.2h.1M215.3 313.8h.1M211.3 312.0h.1M207.2 311.8h.1M207.6 317.2h.1M210.1 320.0h.1M208.6 314.5h.1M212.6 318.2h.1M212.5 317.6h.1M206.5 318.4h.1M207.2 319.0h.1M206.8 316.0h.1M212.9 314.9h.1M209.2 313.2h.1M209.2 320.4h.1M211.9 315.9h.1M209.2 321.5h.1M212.4 319.7h.1M211.1 318.2h.1M209.4 310.5h.1M208.0 311.9h.1M209.6 321.4h.1M209.5 318.4h.1M209.0 314.4h.1M212.7 312.6h.1M214.1 312.4h.1M213.2 315.5h.1M210.9 320.7h.1M211.2 320.5h.1M210.8 321.0h.1M212.4 310.3h.1M210.4 313.3h.1M210.9 321.8h.1M209.8 314.3h.1M209.4 313.1h.1M211.0 314.3h.1M212.5 313.1h.1M216.4 315.2h.1M210.6 321.5h.1M206.4 319.4h.1M206.8 318.1h.1M212.0 315.4h.1M205.4 315.6h.1M216.1 314.4h.1M207.1 312.7h.1M213.4 312.8h.1M215.8 317.0h.1M213.2 312.5h.1M210.1 315.0h.1M214.5 314.1h.1M212.4 318.9h.1M210.7 319.7h.1M206.5 317.9h.1M211.7 314.3h.1M206.5 313.5h.1M209.2 319.0h.1M214.5 318.0h.1M214.0 319.5h.1M216.4 316.8h.1M209.5 313.8h.1M208.1 315.4h.1M206.1 317.9h.1M213.0 311.8h.1M209.8 311.4h.1M216.3 317.5h.1M214.4 319.8h.1M205.7 315.8h.1M211.3 321.2h.1M213.2 313.9h.1M209.9 321.5h.1M207.5 317.0h.1M206.6 313.6h.1M216.5 316.3h.1M210.7 316.0h.1M207.7 313.9h.1M208.1 319.4h.1M214.8 318.5h.1M208.9 320.6h.1M210.4 319.4h.1M216.0 315.7h.1M208.5 313.4h.1M213.7 319.6h.1M206.2 318.1h.1M215.2 316.0h.1M214.9 316.8h.1M208.1 318.2h.1M213.8 317.2h.1M213.0 318.1h.1M211.1 312.8h.1M212.9 312.9h.1M212.9 315.9h.1M209.0 315.3h.1M210.2 313.6h.1M207.3 320.1h.1M210.8 319.8h.1M214.4 319.5h.1M207.7 314.9h.1M208.4 312.0h.1M214.8 311.8h.1M207.8 312.4h.1M211.0 316.1h.1M213.4 319.6h.1M213.1 311.5h.1M209.0 318.4h.1M211.8 315.4h.1M215.8 314.5h.1M213.4 320.8h.1M208.2 313.1h.1M214.8 320.3h.1M206.1 317.4h.1M214.5 318.3h.1M212.6 317.4h.1M210.3 311.3h.1M210.0 316.0h.1M213.1 311.4h.1M214.3 316.2h.1M208.3 314.0h.1M209.0 317.1h.1M211.3 312.8h.1M213.8 313.6h.1M212.3 315.4h.1M211.7 321.2h.1M211.4 317.9h.1M207.2 319.6h.1M209.6 311.0h.1M206.9 315.8h.1M209.9 319.7h.1M210.1 320.6h.1M215.0 313.6h.1M213.3 314.3h.1M207.6 315.4h.1M213.0 313.8h.1M208.7 315.7h.1M216.3 316.2h.1M209.6 318.9h.1M212.3 314.6h.1M211.5 317.3h.1M208.8 313.8h.1M212.8 321.7h.1M212.5 312.3h.1M209.5 314.1h.1M209.5 310.9h.1M206.8 318.3h.1M210.2 317.5h.1M210.9 318.5h.1M208.6 313.3h.1M211.2 311.4h.1M209.1 314.7h.1M207.6 314.6h.1M206.6 312.1h.1M209.7 310.5h.1M209.2 313.3h.1M214.8 318.1h.1M211.4 316.4h.1M215.6 319.3h.1M210.2 311.9h.1M209.0 317.5h.1M206.8 315.2h.1M212.5 316.5h.1M210.8 319.9h.1M214.9 311.7h.1M215.8 317.7h.1M211.4 320.4h.1M212.0 312.1h.1M210.0 310.7h.1M210.0 318.8h.1M215.5 315.2h.1M211.1 317.6h.1M206.7 317.5h.1M211.7 314.3h.1M212.5 313.8h.1M205.8 313.5h.1M207.7 316.8h.1M209.6 315.0h.1M214.7 319.3h.1M209.3 320.1h.1M209.9 320.9h.1M212.3 316.6h.1M210.6 320.4h.1M207.8 312.2h.1M212.1 319.0h.1M213.6 311.1h.1M205.7 315.5h.1M209.6 313.9h.1M212.2 314.3h.1M213.8 320.3h.1M214.5 312.4h.1M211.3 312.6h.1M206.9 319.4h.1M209.4 317.3h.1M210.4 317.9h.1M209.8 318.7h.1M209.8 317.7h.1M212.6 315.4h.1M208.5 321.1h.1M207.2 314.6h.1M209.9 310.1h.1M209.8 320.3h.1M209.1 316.4h.1M209.2 316.6h.1M205.9 316.3h.1M211.2 314.1h.1M208.6 318.0h.1M206.3 313.3h.1M209.3 314.1h.1M213.1 316.5h.1M209.2 317.5h.1M213.3 317.8h.1M213.2 320.5h.1M215.4 315.3h.1M211.6 318.3h.1M216.1 315.9h.1M206.3 316.3h.1M215.5 314.6h.1M207.7 312.9h.1M208.7 319.2h.1M206.9 318.2h.1M210.4 314.9h.1M212.7 311.4h.1M205.7 314.2h.1M207.9 316.8h.1M211.7 319.2h.1M207.4 313.6h.1M207.9 319.3h.1M212.8 310.5h.1M213.8 315.7h.1M213.0 313.7h.1M209.4 316.2h.1M209.0 311.5h.1M210.3 310.3h.1M212.0 317.3h.1M207.3 313.7h.1M210.7 319.6h.1M207.2 319.2h.1M207.8 316.4h.1M211.4 317.2h.1M197.0 319.7h.1M197.3 322.3h.1M194.6 317.7h.1M195.4 319.4h.1M201.9 324.1h.1M197.4 317.3h.1M193.5 319.5h.1M193.4 323.0h.1M203.4 320.1h.1M199.4 317.7h.1M201.9 321.0h.1M198.1 324.9h.1M203.2 319.7h.1M204.8 324.9h.1M199.7 321.4h.1M193.6 322.0h.1M198.3 316.9h.1M205.8 319.0h.1M197.9 316.1h.1M201.7 318.9h.1M206.4 322.8h.1M194.8 320.5h.1M201.8 319.3h.1M197.3 321.8h.1M195.3 318.8h.1M202.4 325.5h.1M200.1 322.4h.1M198.3 325.6h.1M200.9 317.8h.1M199.6 318.6h.1M200.5 323.5h.1M199.3 317.1h.1M199.5 317.1h.1M198.4 325.4h.1M200.1 319.0h.1M194.8 322.5h.1M199.9 315.9h.1M200.0 322.2h.1M202.7 322.0h.1M203.2 320.0h.1M199.3 324.6h.1M193.3 320.9h.1M198.8 319.2h.1M197.8 325.1h.1M196.5 325.1h.1M195.8 321.5h.1M201.0 321.7h.1M195.9 319.2h.1M194.7 320.5h.1M204.9 320.4h.1M193.3 319.8h.1M192.5 320.4h.1M198.6 324.6h.1M195.0 319.6h.1M197.1 321.5h.1M202.2 317.5h.1M203.6 320.2h.1M204.3 325.0h.1M204.6 321.8h.1M198.0 318.5h.1M199.7 323.5h.1M198.1 317.3h.1M201.7 321.0h.1M201.7 325.6h.1M198.2 326.3h.1M204.2 322.9h.1M206.1 321.8h.1M200.6 322.8h.1M192.5 322.2h.1M194.8 324.9h.1M192.8 319.7h.1M204.6 323.5h.1M201.8 317.0h.1M203.7 319.7h.1M200.6 325.3h.1M203.8 318.4h.1M200.3 324.6h.1M196.7 317.1h.1M199.8 318.3h.1M199.3 317.0h.1M198.2 323.5h.1M195.0 319.2h.1M206.3 319.9h.1M205.4 324.4h.1M196.4 325.0h.1M193.1 320.9h.1M196.7 320.3h.1M201.0 315.9h.1M203.2 324.5h.1M195.3 318.1h.1M201.6 325.3h.1M198.6 325.8h.1M199.8 320.4h.1M204.4 318.4h.1M197.5 320.3h.1M195.4 322.0h.1M200.4 321.4h.1M198.2 322.0h.1M200.0 317.4h.1M203.1 317.6h.1M194.3 322.8h.1M205.1 321.7h.1M203.8 317.9h.1M193.3 323.4h.1M199.0 317.8h.1M203.0 318.8h.1M195.6 317.3h.1M201.2 320.7h.1M198.0 322.1h.1M194.5 322.1h.1M199.0 325.1h.1M202.7 317.4h.1M201.5 323.7h.1M197.2 321.3h.1M195.1 319.7h.1M199.8 320.1h.1M197.6 323.9h.1M201.6 319.4h.1M204.3 323.5h.1M202.9 318.4h.1M196.0 319.6h.1M200.1 324.5h.1M195.6 322.7h.1M199.1 324.7h.1M200.5 326.3h.1M203.7 318.8h.1M201.0 318.7h.1M194.8 324.6h.1M201.2 315.9h.1M199.1 320.5h.1M197.3 318.9h.1M198.6 322.7h.1M205.8 319.9h.1M201.9 317.3h.1M203.0 318.2h.1M201.5 321.3h.1M193.7 323.7h.1M204.5 319.3h.1M200.7 321.4h.1M199.6 316.3h.1M197.1 319.2h.1M204.2 317.6h.1M206.7 318.6h.1M197.1 320.5h.1M199.3 319.0h.1M201.2 321.8h.1M207.2 321.5h.1M200.2 321.0h.1M196.2 321.6h.1M199.8 323.1h.1M200.3 322.3h.1M197.1 325.3h.1M196.9 319.0h.1M194.7 320.8h.1M192.6 321.5h.1M194.8 322.2h.1M199.7 319.4h.1M199.2 325.4h.1M195.7 325.2h.1M198.4 325.8h.1M196.7 323.1h.1M198.0 317.7h.1M202.7 319.9h.1M200.1 318.0h.1M207.7 321.4h.1M203.9 324.3h.1M199.5 317.9h.1M198.0 318.0h.1M206.4 319.1h.1M199.5 320.2h.1M202.2 316.9h.1M203.8 319.0h.1M198.7 325.1h.1M193.0 320.4h.1M205.9 322.5h.1M194.5 320.7h.1M203.3 322.4h.1M198.8 317.6h.1M203.9 325.2h.1M197.5 323.2h.1M206.8 323.1h.1M198.0 319.2h.1M198.0 324.7h.1M202.2 317.0h.1M206.6 323.7h.1M196.7 324.6h.1M197.7 322.8h.1M198.1 319.4h.1M193.8 319.2h.1M203.4 324.4h.1M194.0 323.0h.1M198.1 322.6h.1M201.2 323.0h.1M203.5 317.6h.1M198.9 318.9h.1M201.1 324.8h.1M203.5 321.2h.1M201.1 326.1h.1M202.8 322.6h.1M206.3 321.8h.1M200.9 318.2h.1M195.7 325.3h.1M201.7 321.3h.1M196.7 316.9h.1M198.0 323.9h.1M198.6 317.7h.1M205.9 322.1h.1M195.1 317.8h.1M198.3 317.8h.1M203.5 321.5h.1M201.7 324.6h.1M202.3 317.6h.1M205.4 324.7h.1M194.8 318.9h.1M198.6 323.8h.1M206.2 323.2h.1M199.3 318.3h.1M195.5 319.6h.1M203.6 322.6h.1M195.0 322.2h.1M196.5 325.5h.1M193.6 320.3h.1M205.3 324.1h.1M202.5 323.3h.1M204.8 317.8h.1M207.6 322.5h.1M196.2 323.6h.1M197.1 317.9h.1M199.8 323.4h.1M201.8 316.3h.1M194.3 322.7h.1M202.5 318.9h.1M197.6 320.5h.1M205.0 318.5h.1M206.2 323.8h.1M201.3 317.0h.1M206.1 319.5h.1M203.1 324.8h.1M200.4 320.7h.1M196.4 324.9h.1M206.4 321.8h.1M194.7 319.0h.1M199.6 320.5h.1M200.0 320.7h.1M196.8 321.7h.1M200.6 317.8h.1M198.1 316.6h.1M201.0 316.9h.1M202.3 317.8h.1M194.6 322.7h.1M198.0 324.7h.1M202.5 320.3h.1M205.0 323.3h.1M200.5 326.0h.1M197.9 322.3h.1M195.3 317.1h.1M196.0 320.2h.1M199.5 323.6h.1M198.2 325.8h.1M206.7 323.4h.1M202.6 316.8h.1M206.0 323.1h.1M196.1 319.9h.1M199.6 324.3h.1M202.0 321.0h.1M203.0 317.4h.1M205.3 318.4h.1M197.5 320.2h.1M203.2 325.1h.1M207.9 321.4h.1M204.7 324.6h.1M206.4 318.9h.1M201.6 321.1h.1M197.5 316.7h.1M202.6 323.0h.1M197.3 319.7h.1M193.2 321.5h.1M195.3 317.5h.1M206.8 320.7h.1M197.1 322.3h.1M194.5 319.3h.1M198.7 316.0h.1M195.2 323.5h.1M194.6 321.4h.1M205.0 325.2h.1M193.9 323.8h.1M203.7 318.8h.1M201.6 321.5h.1M197.0 323.3h.1M192.9 322.1h.1M200.9 317.3h.1M202.2 322.7h.1M205.4 324.4h.1M198.8 321.6h.1M193.8 321.5h.1M204.4 321.5h.1M199.6 315.9h.1M203.0 324.7h.1M196.5 323.5h.1M193.5 323.3h.1M195.6 320.1h.1M197.4 326.0h.1M201.4 316.1h.1M198.3 317.1h.1M200.7 324.3h.1M212.5 323.0h.1M213.8 323.8h.1M213.2 324.1h.1M213.2 328.5h.1M210.5 324.2h.1M211.1 327.1h.1M212.2 323.2h.1M212.2 327.5h.1M212.9 328.4h.1M212.0 322.5h.1M212.0 321.4h.1M209.9 326.9h.1M208.3 325.1h.1M208.5 326.3h.1M211.1 322.2h.1M211.0 326.9h.1M210.2 323.0h.1M211.7 329.1h.1M213.6 323.3h.1M214.3 321.8h.1M208.6 324.4h.1M212.5 326.4h.1M212.7 326.1h.1M209.3 327.6h.1M212.9 324.2h.1M214.3 327.4h.1M208.8 324.3h.1M212.8 321.5h.1M209.0 326.1h.1M211.5 326.8h.1M212.2 326.7h.1M208.2 325.5h.1M210.5 326.1h.1M211.3 322.1h.1M210.1 329.1h.1M214.5 322.9h.1M212.9 326.3h.1M209.7 321.5h.1M211.0 323.6h.1M210.5 323.5h.1M208.8 327.8h.1M209.1 325.6h.1M212.1 326.7h.1M209.5 327.6h.1M212.4 323.9h.1M210.8 329.6h.1M211.2 324.8h.1M211.5 328.3h.1M213.1 326.7h.1M214.7 325.0h.1M208.7 325.2h.1M214.1 321.4h.1M213.4 322.5h.1M212.4 327.6h.1M211.7 329.8h.1M212.6 321.2h.1M210.1 326.2h.1M214.6 322.1h.1M209.5 328.5h.1M213.8 328.2h.1M213.7 321.9h.1M209.9 325.7h.1M210.4 325.6h.1M209.0 323.3h.1M210.9 327.6h.1M210.9 329.0h.1M215.2 325.3h.1M213.6 326.9h.1M211.3 324.4h.1M213.0 326.5h.1M214.4 324.8h.1M214.7 325.6h.1M210.7 325.4h.1M210.4 324.1h.1M215.2 325.6h.1M211.9 321.5h.1M215.2 327.2h.1M210.2 323.5h.1M211.8 322.6h.1M212.0 323.3h.1M209.5 325.2h.1M215.4 324.6h.1M210.3 326.9h.1M209.6 323.2h.1M211.5 327.3h.1M212.2 322.3h.1M209.7 321.4h.1M214.0 327.2h.1M209.2 325.7h.1M210.5 326.8h.1M209.4 323.9h.1M212.8 325.0h.1M208.9 328.0h.1M213.2 320.9h.1M211.1 325.3h.1M209.8 328.9h.1M215.9 324.6h.1M208.8 327.0h.1M212.0 325.7h.1M214.1 327.4h.1M212.5 327.4h.1M212.9 324.7h.1M211.2 327.7h.1M211.4 321.8h.1M210.7 327.6h.1M213.8 322.9h.1M213.0 324.3h.1M210.4 329.1h.1M209.7 327.0h.1M213.1 329.5h.1M212.5 326.6h.1M213.9 327.1h.1M212.4 322.1h.1M213.5 322.6h.1M211.2 322.6h.1M215.4 325.0h.1M211.1 325.0h.1M208.4 327.2h.1M209.8 325.4h.1M211.2 325.4h.1M214.8 323.3h.1M208.7 325.1h.1M213.6 329.1h.1M210.6 328.5h.1M208.8 323.8h.1M212.6 321.7h.1M211.5 328.0h.1M211.5 329.4h.1M211.9 321.4h.1M212.0 324.8h.1M212.0 328.3h.1M213.8 328.0h.1M214.2 323.0h.1M197.7 334.1h.1M206.6 329.0h.1M200.1 333.2h.1M200.8 326.5h.1M200.6 325.6h.1M208.4 331.7h.1M203.0 327.7h.1M204.4 329.5h.1M202.6 328.1h.1M202.2 330.8h.1M204.4 329.5h.1M198.8 328.6h.1M201.9 329.9h.1M202.9 327.3h.1M203.9 327.3h.1M202.9 330.1h.1M207.2 332.7h.1M207.5 332.7h.1M200.6 333.5h.1M195.7 330.4h.1M197.7 334.9h.1M205.2 334.9h.1M203.0 336.0h.1M208.4 332.0h.1M205.8 332.8h.1M198.7 334.9h.1M206.9 328.7h.1M200.6 333.4h.1M199.8 329.8h.1M205.8 334.3h.1M201.5 328.4h.1M199.3 329.7h.1M204.2 327.0h.1M198.3 327.1h.1M198.5 332.8h.1M198.6 325.7h.1M199.5 328.7h.1M203.7 325.9h.1M201.7 334.8h.1M204.5 329.6h.1M195.6 331.8h.1M198.6 334.1h.1M198.3 327.6h.1M198.6 328.6h.1M199.4 329.9h.1M196.2 329.2h.1M204.6 328.7h.1M204.5 333.8h.1M202.6 336.0h.1M203.5 335.3h.1M206.9 331.9h.1M198.1 334.1h.1M196.5 331.9h.1M196.5 328.8h.1M201.8 327.7h.1M207.7 333.4h.1M199.6 336.0h.1M195.7 328.5h.1M194.7 329.9h.1M205.3 329.6h.1M197.8 330.8h.1M197.3 332.1h.1M198.4 327.2h.1M201.3 335.1h.1M201.5 333.5h.1M199.2 326.8h.1M195.2 331.2h.1M201.9 329.2h.1M196.2 331.5h.1M199.2 326.3h.1M202.4 328.1h.1M203.9 332.5h.1M196.4 330.3h.1M199.2 327.6h.1M201.2 332.1h.1M208.9 331.5h.1M198.6 332.6h.1M198.3 332.3h.1M196.7 332.5h.1M200.9 329.2h.1M205.7 332.3h.1M197.5 332.1h.1M207.2 330.8h.1M207.8 329.0h.1M205.0 333.9h.1M204.2 335.3h.1M198.3 333.0h.1M200.9 333.6h.1M208.6 331.7h.1M202.5 334.3h.1M200.0 329.3h.1M204.3 326.2h.1M197.7 331.6h.1M198.9 329.5h.1M196.2 329.5h.1M198.0 328.7h.1M207.5 332.8h.1M204.8 328.8h.1M202.6 336.2h.1M198.2 328.6h.1M206.9 333.9h.1M205.2 329.0h.1M205.9 331.5h.1M197.9 327.6h.1M200.3 335.7h.1M196.9 330.0h.1M204.1 332.0h.1M197.1 332.4h.1M201.1 327.2h.1M205.1 330.9h.1M198.1 329.1h.1M198.3 335.0h.1M198.4 325.8h.1M204.8 329.3h.1M201.4 327.7h.1M199.9 325.7h.1M205.3 327.9h.1M205.7 332.9h.1M201.7 330.8h.1M206.6 331.4h.1M204.7 327.8h.1M202.0 329.1h.1M202.5 331.8h.1M204.6 335.5h.1M198.3 329.3h.1M199.9 333.1h.1M200.4 326.7h.1M194.9 330.3h.1M197.3 327.8h.1M208.8 332.7h.1M203.1 326.0h.1M194.9 329.4h.1M203.9 327.1h.1M207.3 333.2h.1M201.5 333.5h.1M200.6 325.6h.1M198.5 334.0h.1M196.3 333.3h.1M207.4 331.5h.1M198.6 330.4h.1M205.3 330.7h.1M202.1 326.6h.1M198.9 334.5h.1M201.4 328.4h.1M196.4 333.7h.1M203.7 332.0h.1M194.9 329.8h.1M207.3 326.9h.1M203.1 333.7h.1M202.5 332.7h.1M199.0 326.1h.1M202.0 327.6h.1M201.9 332.6h.1M200.0 336.1h.1M202.7 325.3h.1M205.7 334.3h.1M207.5 328.4h.1M196.5 334.4h.1M201.7 327.8h.1M196.9 330.9h.1M207.4 334.0h.1M200.0 326.5h.1M207.3 328.5h.1M197.0 334.6h.1M201.7 330.8h.1M199.7 326.9h.1M199.5 328.6h.1M208.9 330.5h.1M206.1 328.9h.1M202.0 327.8h.1M196.9 329.0h.1M200.9 327.7h.1M205.3 332.9h.1M206.4 333.1h.1M205.9 331.9h.1M201.4 330.2h.1M207.7 333.2h.1M205.4 334.9h.1M207.0 334.0h.1M207.1 332.2h.1M208.9 330.5h.1M203.4 329.4h.1M203.7 334.2h.1M205.2 332.7h.1M206.9 334.2h.1M203.5 333.0h.1M203.8 327.4h.1M202.6 326.1h.1M203.5 333.2h.1M201.6 326.0h.1M205.8 330.0h.1M204.0 326.2h.1M200.8 327.5h.1M194.9 329.7h.1M198.1 326.3h.1M200.9 326.0h.1M207.6 329.2h.1M203.1 333.5h.1M197.9 334.9h.1M206.2 327.8h.1M206.9 331.2h.1M206.7 332.4h.1M197.9 330.5h.1M199.1 333.8h.1M202.5 328.9h.1M196.7 328.1h.1M196.0 332.5h.1M205.3 331.7h.1M197.3 333.7h.1M202.9 332.8h.1M197.6 326.7h.1M196.8 334.0h.1M195.0 331.2h.1M202.4 327.5h.1M197.6 330.7h.1M201.4 330.2h.1M199.9 332.1h.1M196.7 327.1h.1M202.4 329.7h.1M207.1 328.2h.1M197.0 329.9h.1M199.3 325.6h.1M207.8 328.3h.1M200.6 329.1h.1M204.7 334.6h.1M200.5 327.9h.1M207.5 333.8h.1M195.2 332.4h.1M204.9 330.0h.1M200.3 331.3h.1M204.1 331.8h.1M196.1 328.5h.1M197.2 334.7h.1M204.3 333.1h.1M199.7 328.3h.1M194.9 332.1h.1M197.1 327.9h.1M198.2 330.9h.1M205.9 328.2h.1M203.4 334.9h.1M202.4 331.9h.1M195.2 329.7h.1M199.0 328.7h.1M201.3 336.1h.1M204.7 335.6h.1M204.7 328.5h.1M197.0 329.7h.1M207.0 329.1h.1M198.6 330.9h.1M198.7 329.7h.1M202.7 332.9h.1M201.3 333.1h.1M208.0 331.3h.1M205.2 326.4h.1M198.7 332.6h.1M205.9 329.3h.1M201.4 327.1h.1M205.9 335.3h.1M198.2 327.4h.1M200.3 331.5h.1M198.5 330.0h.1M207.6 334.2h.1M203.7 328.5h.1M201.8 327.0h.1M197.3 329.9h.1M199.4 327.4h.1M201.9 332.8h.1M199.9 334.5h.1M202.9 331.3h.1M206.3 327.5h.1M207.2 328.6h.1M205.0 331.7h.1M204.3 326.8h.1M206.7 332.3h.1M199.8 325.9h.1M199.4 326.9h.1M199.9 333.0h.1M201.4 326.2h.1M202.9 325.2h.1M201.0 328.1h.1M202.7 330.6h.1M195.6 329.2h.1M202.4 330.2h.1M199.5 331.4h.1M201.0 330.7h.1M197.5 326.8h.1M202.2 334.7h.1M207.5 328.3h.1M198.4 334.8h.1M198.8 326.6h.1M200.7 330.1h.1M207.2 327.1h.1M197.6 330.1h.1M196.7 329.3h.1M198.7 328.4h.1M198.6 332.3h.1M201.3 330.5h.1M194.1 325.7h.1M192.6 328.8h.1M195.2 327.1h.1M192.0 326.9h.1M194.8 328.0h.1M194.6 326.3h.1M191.0 327.9h.1M191.0 327.6h.1M192.0 327.7h.1M192.6 328.3h.1M194.1 327.7h.1M191.3 328.6h.1M194.1 329.1h.1M192.8 326.0h.1M191.6 328.9h.1M191.6 326.3h.1M192.5 328.3h.1M194.6 328.5h.1M192.1 328.3h.1M191.8 328.0h.1M193.0 328.9h.1M193.0 328.3h.1M193.2 326.3h.1M193.4 326.3h.1M193.5 329.3h.1M194.0 326.9h.1M192.9 325.7h.1M193.6 326.0h.1M193.7 328.9h.1M194.8 328.6h.1M192.9 326.7h.1M194.5 328.3h.1M194.3 328.7h.1M192.8 329.0h.1M192.0 325.3h.1M192.4 327.4h.1M192.0 327.2h.1M194.8 327.4h.1M212.5 336.0h.1M213.2 330.1h.1M212.3 331.7h.1M216.0 331.5h.1M216.2 332.5h.1M214.5 328.9h.1M214.8 334.5h.1M215.5 332.3h.1M215.0 336.2h.1M213.4 331.0h.1M214.4 329.1h.1M213.4 334.1h.1M214.4 336.3h.1M214.8 335.9h.1M215.1 329.0h.1M214.7 330.0h.1M216.6 335.4h.1M215.5 336.1h.1M215.7 336.7h.1M216.8 331.2h.1M213.8 337.0h.1M213.6 335.4h.1M215.7 335.1h.1M214.3 332.7h.1M213.7 335.5h.1M213.7 332.8h.1M215.0 335.8h.1M214.5 333.5h.1M214.4 335.2h.1M216.0 329.5h.1M216.4 331.3h.1M214.3 329.4h.1M216.5 334.7h.1M214.5 335.4h.1M213.5 330.3h.1M213.4 336.5h.1M213.0 336.6h.1M215.9 334.6h.1M217.1 334.7h.1M212.8 332.4h.1M213.4 334.2h.1M214.4 334.6h.1M211.9 334.2h.1M215.0 337.0h.1M217.1 334.4h.1M214.4 334.7h.1M215.5 329.6h.1M213.1 336.0h.1M214.1 332.4h.1M214.0 335.2h.1M216.2 336.6h.1M212.9 331.8h.1M215.2 333.1h.1M214.1 335.7h.1M212.6 331.6h.1M214.1 329.4h.1M215.3 329.6h.1M212.2 335.8h.1M213.1 332.4h.1M212.4 333.2h.1M215.3 330.0h.1M214.9 330.4h.1M215.8 336.0h.1M216.8 330.2h.1M215.4 334.0h.1M216.6 331.3h.1M212.3 330.6h.1M212.9 333.4h.1M212.0 333.8h.1M213.0 334.2h.1M215.2 331.6h.1M216.2 332.1h.1M213.6 333.8h.1M212.5 334.2h.1M215.2 334.1h.1M214.4 333.3h.1M213.3 331.2h.1M216.5 335.5h.1M216.5 332.3h.1M212.8 334.9h.1M215.2 331.7h.1M213.1 335.4h.1M215.3 336.0h.1M214.7 332.8h.1M215.0 330.6h.1M212.9 334.7h.1M215.4 336.7h.1M213.8 330.5h.1M215.1 332.7h.1M212.9 334.7h.1M215.9 336.4h.1M212.0 333.3h.1M212.8 334.7h.1M217.6 332.5h.1M217.5 333.4h.1M214.5 331.9h.1M212.6 330.2h.1M178.9 320.3h.1M176.3 321.2h.1M176.5 317.0h.1M175.9 320.0h.1M175.6 324.8h.1M175.0 321.1h.1M172.3 322.8h.1M173.7 320.1h.1M176.7 324.0h.1M174.6 316.8h.1M178.3 321.2h.1M173.9 322.4h.1M173.4 322.4h.1M173.6 319.9h.1M176.6 320.8h.1M173.6 319.2h.1M177.9 317.8h.1M177.3 323.5h.1M178.4 323.4h.1M177.1 324.3h.1M175.0 319.5h.1M177.1 324.9h.1M177.6 318.4h.1M177.5 324.1h.1M179.5 320.5h.1M176.0 320.7h.1M178.2 317.3h.1M176.1 322.4h.1M177.3 323.5h.1M177.2 317.3h.1M172.5 320.2h.1M176.7 324.7h.1M173.6 322.1h.1M173.6 321.0h.1M173.2 318.3h.1M173.6 318.9h.1M174.2 317.7h.1M176.6 318.8h.1M173.6 320.1h.1M175.3 322.0h.1M179.4 322.2h.1M178.7 322.7h.1M177.8 317.4h.1M177.5 317.0h.1M176.7 319.6h.1M174.2 322.3h.1M177.3 323.9h.1M173.4 323.3h.1M176.4 324.0h.1M176.6 321.1h.1M177.4 322.6h.1M176.2 318.9h.1M175.5 324.6h.1M176.6 325.0h.1M173.7 321.5h.1M177.4 319.4h.1M177.0 318.8h.1M173.9 317.5h.1M177.3 317.9h.1M172.5 318.9h.1M173.9 319.7h.1M175.0 324.1h.1M176.0 321.7h.1M178.4 318.4h.1M175.6 324.0h.1M175.2 321.2h.1M176.5 323.4h.1M175.7 321.9h.1M176.6 317.4h.1M177.8 317.2h.1M179.2 322.9h.1M176.7 319.1h.1M173.5 318.8h.1M178.7 319.0h.1M175.9 321.2h.1M176.2 320.7h.1M175.9 316.8h.1M172.5 322.6h.1M176.1 322.4h.1M174.5 319.6h.1M177.5 317.6h.1M174.9 324.8h.1M174.5 318.3h.1M174.2 319.6h.1M174.9 321.1h.1M176.3 324.0h.1M178.3 322.9h.1M178.8 320.8h.1M178.2 318.8h.1M177.0 324.0h.1M176.9 319.0h.1M174.7 320.7h.1M177.5 320.8h.1M179.8 320.7h.1M178.4 319.7h.1M172.4 322.3h.1M173.6 322.8h.1M173.1 320.8h.1M178.7 319.8h.1M178.2 323.1h.1M176.9 320.6h.1M173.7 317.2h.1M175.3 319.2h.1M177.2 318.7h.1M173.6 321.4h.1M177.3 324.8h.1M176.1 324.5h.1M174.9 324.1h.1M173.8 319.5h.1M178.7 320.3h.1M173.1 319.3h.1M177.4 317.0h.1M173.2 317.7h.1M177.2 320.0h.1M176.0 317.2h.1M176.3 320.7h.1M177.1 321.8h.1M177.9 323.4h.1M178.4 317.5h.1M174.8 323.9h.1M178.2 322.7h.1M173.1 322.5h.1M174.0 323.6h.1M173.4 319.3h.1M172.7 331.6h.1M176.7 332.3h.1M175.8 326.7h.1M171.7 328.5h.1M171.5 329.2h.1M172.8 331.9h.1M178.1 327.7h.1M173.9 328.7h.1M175.7 327.7h.1M170.5 328.8h.1M174.6 331.6h.1M173.6 328.8h.1M171.2 327.9h.1M170.0 329.8h.1M175.3 327.5h.1M175.7 330.4h.1M172.3 330.0h.1M177.2 332.1h.1M173.0 328.1h.1M175.6 331.5h.1M175.6 331.2h.1M177.5 328.8h.1M176.6 327.2h.1M175.3 326.3h.1M177.6 326.9h.1M174.1 326.4h.1M172.1 327.2h.1M172.3 328.2h.1M175.6 329.7h.1M173.8 328.3h.1M178.6 326.6h.1M175.3 330.2h.1M174.4 327.4h.1M171.0 331.1h.1M170.9 330.6h.1M176.4 327.4h.1M172.3 327.0h.1M177.4 327.4h.1M176.0 326.8h.1M173.3 327.3h.1M176.2 326.9h.1M172.0 331.7h.1M173.3 330.9h.1M175.6 330.2h.1M171.7 331.6h.1M172.8 328.9h.1M177.1 330.1h.1M171.8 330.7h.1M177.1 329.4h.1M173.1 328.2h.1M173.9 331.6h.1M176.1 328.5h.1M175.5 327.1h.1M176.0 331.5h.1M178.1 331.5h.1M175.4 332.5h.1M172.0 327.8h.1M172.2 327.7h.1M172.0 327.7h.1M172.0 329.6h.1M173.0 327.4h.1M179.5 329.4h.1M173.5 329.0h.1M175.4 329.6h.1M173.9 332.3h.1M175.1 329.4h.1M179.5 329.3h.1M174.8 326.5h.1M179.3 327.5h.1M173.5 326.0h.1M175.0 328.4h.1M173.9 331.2h.1M179.5 328.9h.1M173.1 331.5h.1M170.9 328.3h.1M178.3 328.9h.1M175.3 327.0h.1M173.3 332.0h.1M170.9 330.0h.1M177.7 328.5h.1M171.8 331.2h.1M172.9 329.6h.1M177.3 331.5h.1M174.3 328.5h.1M176.2 325.9h.1M176.4 326.4h.1M177.2 329.7h.1M177.3 326.5h.1M179.5 329.0h.1M172.2 330.5h.1M177.8 327.1h.1M177.5 326.1h.1M173.6 330.2h.1M175.9 330.2h.1M177.7 331.3h.1M174.7 328.1h.1M171.9 328.8h.1M176.7 326.4h.1M174.4 331.9h.1M171.9 328.0h.1M178.4 327.2h.1M174.4 330.4h.1M179.6 328.7h.1M178.5 330.5h.1M178.1 326.3h.1M173.8 328.9h.1M173.0 328.6h.1M175.6 326.1h.1M178.2 330.8h.1M177.3 328.1h.1M173.0 327.5h.1M171.8 329.4h.1M175.5 326.1h.1M173.0 326.4h.1M175.5 328.3h.1M175.4 331.6h.1M176.7 328.4h.1M175.4 330.9h.1M177.8 326.8h.1M177.8 326.2h.1M178.5 329.6h.1M172.2 326.8h.1M170.6 329.2h.1M171.5 329.7h.1M172.4 330.3h.1M174.8 332.2h.1M175.5 328.9h.1M172.3 327.0h.1M174.4 332.3h.1M173.1 330.1h.1M173.3 328.5h.1M187.9 334.1h.1M182.8 338.3h.1M185.6 338.4h.1M190.0 342.0h.1M190.7 338.2h.1M187.0 344.2h.1M183.9 338.0h.1M187.6 339.4h.1M188.7 340.5h.1M191.7 336.6h.1M188.7 337.0h.1M183.5 338.9h.1M183.4 341.1h.1M186.7 338.8h.1M184.6 336.5h.1M190.5 341.4h.1M188.8 340.8h.1M182.8 340.5h.1M186.8 341.6h.1M189.1 340.9h.1M190.8 341.9h.1M184.2 341.6h.1M188.1 338.5h.1M188.8 341.0h.1M183.4 339.9h.1M184.8 337.6h.1M189.9 342.9h.1M186.1 340.4h.1M189.3 342.6h.1M187.5 343.1h.1M190.3 340.3h.1M186.6 335.8h.1M184.8 340.0h.1M188.4 339.6h.1M187.7 339.2h.1M188.9 342.0h.1M185.6 338.4h.1M186.5 343.9h.1M189.5 338.9h.1M185.0 342.9h.1M187.7 334.9h.1M190.8 341.3h.1M191.8 339.9h.1M185.6 339.9h.1M187.0 342.7h.1M190.2 334.6h.1M192.3 339.5h.1M185.9 342.1h.1M189.0 337.5h.1M188.6 338.9h.1M188.6 342.4h.1M187.4 344.1h.1M188.6 337.1h.1M185.6 338.4h.1M190.6 337.8h.1M187.1 343.0h.1M190.8 336.0h.1M188.0 340.9h.1M185.9 337.4h.1M186.1 334.3h.1M186.3 335.2h.1M189.7 334.9h.1M191.6 341.8h.1M187.7 334.5h.1M190.7 337.5h.1M185.5 340.0h.1M189.6 335.3h.1M188.4 344.1h.1M183.0 339.9h.1M185.8 338.7h.1M186.8 334.6h.1M188.3 339.3h.1M183.0 337.4h.1M188.9 335.8h.1M188.6 336.5h.1M190.8 336.3h.1M188.5 339.3h.1M190.6 340.4h.1M189.2 336.5h.1M188.1 342.4h.1M191.7 339.4h.1M191.9 338.5h.1M182.6 339.1h.1M190.5 336.2h.1M186.5 337.0h.1M184.0 341.4h.1M184.6 337.6h.1M184.9 339.1h.1M189.3 335.4h.1M185.0 341.3h.1M191.2 341.3h.1M188.5 334.7h.1M189.5 334.3h.1M183.9 341.8h.1M183.9 339.3h.1M191.2 339.3h.1M184.8 343.4h.1M184.6 334.9h.1M184.3 342.8h.1M187.0 339.1h.1M186.3 340.4h.1M191.5 342.3h.1M189.8 342.4h.1M191.0 342.4h.1M184.9 343.1h.1M183.2 338.8h.1M187.2 341.1h.1M190.3 342.9h.1M190.6 335.5h.1M185.9 339.2h.1M187.7 337.0h.1M186.8 341.1h.1M189.9 337.0h.1M187.5 337.4h.1M187.0 337.5h.1M189.2 336.3h.1M187.4 339.1h.1M185.7 339.5h.1M184.4 337.8h.1M183.6 337.8h.1M192.3 339.7h.1M185.1 343.0h.1M186.3 338.9h.1M188.4 341.6h.1M183.5 341.3h.1M186.9 341.7h.1M190.5 340.2h.1M186.8 342.9h.1M186.3 337.1h.1M186.0 336.3h.1M190.9 337.5h.1M184.7 340.8h.1M188.3 337.6h.1M190.3 339.7h.1M186.5 342.8h.1M190.4 341.6h.1M188.9 336.2h.1M186.4 336.5h.1M186.6 339.4h.1M186.5 339.7h.1M190.4 343.1h.1M185.6 340.3h.1M191.7 337.1h.1M192.2 340.9h.1M190.3 338.2h.1M187.8 333.9h.1M189.4 338.0h.1M182.9 339.3h.1M188.8 339.1h.1M184.4 337.2h.1M189.7 343.1h.1M186.7 335.8h.1M185.1 335.2h.1M183.4 340.3h.1M185.2 340.1h.1M186.2 335.1h.1M185.4 335.6h.1M185.7 341.6h.1M183.3 336.6h.1M190.3 335.8h.1M187.9 339.4h.1M187.6 343.4h.1M186.7 342.5h.1M182.8 339.7h.1M187.0 340.0h.1M187.0 334.9h.1M185.9 342.9h.1M188.5 343.2h.1M188.3 335.4h.1M183.2 336.9h.1M185.5 335.9h.1M191.4 341.0h.1M188.7 339.3h.1M186.1 341.6h.1M184.5 339.7h.1M186.0 340.0h.1M189.0 340.7h.1M187.8 337.0h.1M188.6 341.7h.1M191.9 338.0h.1M189.5 337.3h.1M191.8 341.9h.1M184.0 336.9h.1M186.9 344.1h.1M187.2 336.8h.1M186.3 343.1h.1M191.2 339.0h.1M186.3 343.5h.1M186.1 339.7h.1M183.3 336.8h.1M199.5 351.5h.1M193.9 350.0h.1M198.0 350.9h.1M200.2 350.9h.1M194.1 346.5h.1M194.5 349.2h.1M198.3 352.9h.1M200.5 345.7h.1M193.7 347.5h.1M195.4 352.6h.1M200.8 350.2h.1M194.7 345.8h.1M199.4 345.7h.1M200.2 351.7h.1M199.9 350.8h.1M200.4 349.7h.1M200.1 346.0h.1M201.3 347.3h.1M195.4 347.0h.1M196.7 352.4h.1M197.9 345.2h.1M201.4 346.4h.1M199.4 349.4h.1M196.1 347.4h.1M200.7 349.1h.1M200.9 350.9h.1M196.4 348.2h.1M198.2 345.4h.1M200.7 351.4h.1M198.0 349.6h.1M195.4 348.0h.1M195.8 351.6h.1M196.8 349.5h.1M196.7 349.9h.1M198.8 348.0h.1M195.4 348.7h.1M194.0 346.7h.1M200.5 347.6h.1M197.6 352.9h.1M199.9 350.6h.1M198.8 345.6h.1M198.3 345.2h.1M196.4 346.0h.1M198.5 352.2h.1M198.2 345.3h.1M195.7 352.0h.1M198.2 351.1h.1M201.1 348.6h.1M197.6 348.8h.1M198.9 344.7h.1M194.5 349.4h.1M197.3 347.0h.1M199.8 351.8h.1M196.7 344.8h.1M194.5 351.6h.1M200.0 349.2h.1M198.7 350.0h.1M196.1 353.0h.1M197.7 350.4h.1M192.7 348.9h.1M199.7 349.0h.1M201.1 349.2h.1M201.0 346.0h.1M195.5 349.1h.1M199.5 350.2h.1M195.2 348.0h.1M200.1 350.9h.1M196.5 351.3h.1M199.8 350.1h.1M195.7 351.1h.1M200.6 350.6h.1M195.1 352.1h.1M198.8 351.7h.1M200.9 351.0h.1M197.9 345.3h.1M201.8 346.8h.1M196.3 352.4h.1M199.6 347.4h.1M196.6 350.4h.1M200.9 349.0h.1M197.9 351.7h.1M199.0 351.0h.1M196.7 352.0h.1M200.4 351.5h.1M196.3 351.5h.1M199.3 347.8h.1M196.4 352.7h.1M194.6 352.0h.1M199.2 344.6h.1M193.9 350.8h.1M198.3 351.3h.1M196.7 346.1h.1M195.1 348.2h.1M195.1 351.4h.1M199.3 348.1h.1M201.2 346.5h.1M198.4 351.9h.1M192.7 348.3h.1M198.8 352.7h.1M197.6 350.2h.1M201.5 351.0h.1M196.1 347.3h.1M199.8 352.2h.1M198.0 351.6h.1M194.5 349.3h.1M200.2 347.6h.1M200.5 346.4h.1M198.2 347.6h.1M198.0 347.5h.1M199.9 350.5h.1M201.2 346.9h.1M195.3 349.9h.1M194.0 348.5h.1M199.5 352.2h.1M201.7 348.9h.1M195.9 350.7h.1M198.8 349.7h.1M197.6 344.9h.1M195.4 345.0h.1M195.5 349.3h.1M201.9 347.3h.1M201.2 346.4h.1M193.7 346.7h.1M201.8 349.3h.1M193.2 350.5h.1M201.8 348.3h.1M197.0 349.4h.1M200.4 345.3h.1M195.0 351.3h.1M196.2 347.3h.1M198.9 346.3h.1M199.6 349.8h.1M195.3 350.5h.1M193.9 347.7h.1M196.2 344.5h.1M196.4 346.4h.1M195.1 349.7h.1M194.8 349.7h.1M200.3 351.5h.1M200.2 347.1h.1M199.0 349.6h.1M193.0 350.3h.1M200.2 349.6h.1M194.2 351.9h.1M195.3 346.3h.1M201.1 345.8h.1M193.7 346.9h.1M197.4 348.4h.1M194.1 348.5h.1M198.4 345.7h.1M193.6 346.1h.1M195.6 350.0h.1M196.4 345.2h.1M195.8 351.3h.1M196.3 351.8h.1M199.1 347.0h.1M194.1 349.5h.1M197.8 345.6h.1M193.7 351.1h.1M199.2 348.5h.1M201.8 347.3h.1M198.9 351.9h.1M200.1 351.4h.1M199.2 351.4h.1M197.6 352.6h.1M193.5 349.0h.1M195.1 351.1h.1M203.4 353.3h.1M203.7 353.1h.1M204.8 354.6h.1M205.1 352.5h.1M204.9 352.5h.1M202.4 355.0h.1M203.2 355.1h.1M207.7 353.9h.1M203.8 353.2h.1M204.0 354.4h.1M206.5 352.3h.1M204.8 353.4h.1M202.7 354.5h.1M207.3 352.6h.1M204.1 354.4h.1M202.8 354.9h.1M206.3 354.4h.1M202.3 354.8h.1M202.8 353.5h.1M204.5 353.2h.1M206.0 354.1h.1M203.7 354.5h.1M204.0 353.4h.1M207.4 353.5h.1M204.6 353.6h.1M204.2 354.3h.1M201.7 354.0h.1M205.7 353.1h.1M204.8 354.3h.1M206.2 352.4h.1M200.6 353.9h.1M207.8 354.3h.1M204.5 352.7h.1M202.0 353.1h.1M206.1 353.3h.1M203.8 353.2h.1M206.7 353.2h.1M205.0 352.2h.1M208.0 353.3h.1M204.8 354.8h.1M202.8 352.2h.1M202.2 354.1h.1M202.5 354.3h.1M202.4 353.3h.1M205.5 352.4h.1M203.7 353.2h.1M203.8 354.0h.1M210.1 349.9h.1M209.3 352.8h.1M211.5 350.5h.1M214.7 349.7h.1M214.1 349.7h.1M215.1 350.8h.1M208.0 352.1h.1M216.9 350.9h.1M208.0 349.9h.1M214.2 350.8h.1M213.3 350.0h.1M214.7 352.7h.1M213.2 352.9h.1M216.0 350.8h.1M210.9 351.2h.1M212.7 352.4h.1M213.7 351.5h.1M207.7 351.5h.1M207.6 351.2h.1M215.6 351.4h.1M207.7 350.5h.1M215.8 350.0h.1M215.3 352.7h.1M207.7 351.4h.1M215.9 352.3h.1M208.3 351.7h.1M213.1 350.8h.1M207.9 351.9h.1M209.1 352.8h.1M215.0 352.3h.1M215.2 349.9h.1M210.1 352.7h.1M215.1 349.2h.1M216.0 352.0h.1M209.1 350.3h.1M209.6 351.4h.1M213.0 351.4h.1M215.6 351.3h.1M208.5 352.6h.1M210.1 349.9h.1M210.2 351.4h.1M207.9 350.6h.1M211.6 351.2h.1M209.6 352.9h.1M215.5 352.9h.1M208.4 352.5h.1M217.6 350.7h.1M212.7 349.7h.1M209.2 352.2h.1M215.2 349.2h.1M214.5 349.8h.1M217.7 351.5h.1M208.5 351.8h.1M210.8 350.8h.1M213.1 350.9h.1M216.6 351.8h.1M217.7 351.9h.1M213.7 353.2h.1M210.5 349.9h.1M214.6 350.5h.1M215.3 351.2h.1M208.7 350.3h.1M214.4 350.2h.1M211.4 351.3h.1M216.1 350.9h.1M211.0 349.2h.1M217.8 351.5h.1M209.9 352.8h.1M214.9 351.7h.1M211.3 351.1h.1M213.0 353.2h.1M207.5 350.7h.1M215.2 350.5h.1M209.1 350.9h.1M214.1 352.0h.1M216.1 350.8h.1M207.4 352.0h.1M217.4 351.0h.1M210.9 351.0h.1M217.1 351.5h.1M214.1 352.6h.1M217.2 352.0h.1M209.9 350.9h.1M211.2 353.1h.1M213.3 349.8h.1M209.1 350.8h.1M215.2 350.9h.1M210.5 351.9h.1M213.8 351.9h.1M213.2 351.8h.1M215.6 351.2h.1M216.4 352.8h.1M213.2 349.8h.1M213.5 352.7h.1" stroke="#fff" stroke-width="0.6" stroke-linecap="round" opacity="0.55" fill="none"/>
<g fill="#e2a090" opacity="0.6"><circle cx="179.52" cy="331.81" r="0.35"/><circle cx="181.38" cy="333.94" r="0.35"/><circle cx="183.24" cy="335.8" r="0.35"/><circle cx="189.89" cy="331.54" r="0.35"/><circle cx="191.49" cy="330.21" r="0.35"/><circle cx="192.82" cy="340.85" r="0.35"/><circle cx="194.15" cy="343.24" r="0.35"/><circle cx="195.21" cy="345.11" r="0.35"/><circle cx="208.51" cy="354.15" r="0.35"/><circle cx="217.15" cy="350.69" r="0.35"/><circle cx="218.48" cy="350.16" r="0.35"/></g>
<text x="166.4" y="297" font-size="2.9" font-weight="normal" text-anchor="start" fill="#333" >Integrated</text>
<text x="195.9" y="363.3" font-size="2.8" font-weight="normal" text-anchor="middle" fill="#333" >UMAP_1</text>
<text transform="translate(164.8 326) rotate(-90)" font-size="2.8" text-anchor="middle" fill="#333">UMAP_2</text>
<text x="222.6" y="310.2" font-size="3.1" font-weight="normal" text-anchor="start" fill="#333" >clusters</text>
<rect x="223" y="311.6" width="1.7" height="1.7" fill="#e0877e" opacity="0.85"/>
<text x="226.2" y="313.2" font-size="2.2" font-weight="normal" text-anchor="start" fill="#666" >0</text>
<rect x="223" y="314.22" width="1.7" height="1.7" fill="#7fd35f" opacity="0.85"/>
<text x="226.2" y="315.82" font-size="2.2" font-weight="normal" text-anchor="start" fill="#666" >1</text>
<rect x="223" y="316.84" width="1.7" height="1.7" fill="#7388dc" opacity="0.85"/>
<text x="226.2" y="318.44" font-size="2.2" font-weight="normal" text-anchor="start" fill="#666" >2</text>
<rect x="223" y="319.46" width="1.7" height="1.7" fill="#c6d743" opacity="0.85"/>
<text x="226.2" y="321.06" font-size="2.2" font-weight="normal" text-anchor="start" fill="#666" >3</text>
<rect x="223" y="322.08" width="1.7" height="1.7" fill="#cf78e6" opacity="0.85"/>
<text x="226.2" y="323.68" font-size="2.2" font-weight="normal" text-anchor="start" fill="#666" >4</text>
<rect x="223" y="324.7" width="1.7" height="1.7" fill="#e2753f" opacity="0.85"/>
<text x="226.2" y="326.3" font-size="2.2" font-weight="normal" text-anchor="start" fill="#666" >5</text>
<rect x="223" y="327.32" width="1.7" height="1.7" fill="#86dccf" opacity="0.85"/>
<text x="226.2" y="328.92" font-size="2.2" font-weight="normal" text-anchor="start" fill="#666" >6</text>
<rect x="223" y="329.94" width="1.7" height="1.7" fill="#cda548" opacity="0.85"/>
<text x="226.2" y="331.54" font-size="2.2" font-weight="normal" text-anchor="start" fill="#666" >7</text>
<rect x="223" y="332.56" width="1.7" height="1.7" fill="#55904c" opacity="0.85"/>
<text x="226.2" y="334.16" font-size="2.2" font-weight="normal" text-anchor="start" fill="#666" >8</text>
<rect x="223" y="335.18" width="1.7" height="1.7" fill="#6795ad" opacity="0.85"/>
<text x="226.2" y="336.78" font-size="2.2" font-weight="normal" text-anchor="start" fill="#666" >9</text>
<rect x="223" y="337.8" width="1.7" height="1.7" fill="#9a363f" opacity="0.85"/>
<text x="226.2" y="339.4" font-size="2.2" font-weight="normal" text-anchor="start" fill="#666" >10</text>
<rect x="223" y="340.42" width="1.7" height="1.7" fill="#6d5a36" opacity="0.85"/>
<text x="226.2" y="342.02" font-size="2.2" font-weight="normal" text-anchor="start" fill="#666" >11</text>
<rect x="223" y="343.04" width="1.7" height="1.7" fill="#34b483" opacity="0.85"/>
<text x="226.2" y="344.64" font-size="2.2" font-weight="normal" text-anchor="start" fill="#666" >12</text>
<rect x="223" y="345.66" width="1.7" height="1.7" fill="#cf3f3f" opacity="0.85"/>
<text x="226.2" y="347.26" font-size="2.2" font-weight="normal" text-anchor="start" fill="#666" >13</text>
<text x="159.6" y="388.5" font-size="11.2" font-weight="normal" text-anchor="start" fill="#000" textLength="79.8" lengthAdjust="spacingAndGlyphs" xml:space="preserve">Single-cell  RNA</text>
<text x="159.6" y="401.8" font-size="11.2" font-weight="normal" text-anchor="start" fill="#000" textLength="54.9" lengthAdjust="spacingAndGlyphs" >sequencing</text>
<g fill="#e7e7e7" stroke="#858585" stroke-width="1.05"><circle cx="271" cy="304.1" r="5.4"/><circle cx="283.3" cy="304.1" r="5.4"/><circle cx="295.6" cy="304.1" r="5.4"/><circle cx="308.1" cy="304.1" r="5.4"/><circle cx="320.6" cy="304.1" r="5.4"/><circle cx="333" cy="304.1" r="5.4"/><circle cx="345.4" cy="304.1" r="5.4"/><circle cx="357.9" cy="304.1" r="5.4"/><circle cx="370.4" cy="304.1" r="5.4"/><circle cx="382.9" cy="304.1" r="5.4"/><circle cx="271" cy="316.3" r="5.4"/><circle cx="283.3" cy="316.3" r="5.4"/><circle cx="295.6" cy="316.3" r="5.4"/><circle cx="308.1" cy="316.3" r="5.4"/><circle cx="320.6" cy="316.3" r="5.4"/><circle cx="333" cy="316.3" r="5.4"/><circle cx="345.4" cy="316.3" r="5.4"/><circle cx="357.9" cy="316.3" r="5.4"/><circle cx="370.4" cy="316.3" r="5.4"/><circle cx="382.9" cy="316.3" r="5.4"/><circle cx="271" cy="328.6" r="5.4"/><circle cx="283.3" cy="328.6" r="5.4"/><circle cx="295.6" cy="328.6" r="5.4"/><circle cx="308.1" cy="328.6" r="5.4"/><circle cx="320.6" cy="328.6" r="5.4"/><circle cx="333" cy="328.6" r="5.4"/><circle cx="345.4" cy="328.6" r="5.4"/><circle cx="357.9" cy="328.6" r="5.4"/><circle cx="370.4" cy="328.6" r="5.4"/><circle cx="382.9" cy="328.6" r="5.4"/><circle cx="271" cy="340.8" r="5.4"/><circle cx="283.3" cy="340.8" r="5.4"/><circle cx="295.6" cy="340.8" r="5.4"/><circle cx="308.1" cy="340.8" r="5.4"/><circle cx="320.6" cy="340.8" r="5.4"/><circle cx="333" cy="340.8" r="5.4"/><circle cx="345.4" cy="340.8" r="5.4"/><circle cx="357.9" cy="340.8" r="5.4"/><circle cx="370.4" cy="340.8" r="5.4"/><circle cx="382.9" cy="340.8" r="5.4"/><circle cx="271" cy="353.1" r="5.4"/><circle cx="283.3" cy="353.1" r="5.4"/><circle cx="295.6" cy="353.1" r="5.4"/><circle cx="308.1" cy="353.1" r="5.4"/><circle cx="320.6" cy="353.1" r="5.4"/><circle cx="333" cy="353.1" r="5.4"/><circle cx="345.4" cy="353.1" r="5.4"/><circle cx="357.9" cy="353.1" r="5.4"/><circle cx="370.4" cy="353.1" r="5.4"/><circle cx="382.9" cy="353.1" r="5.4"/></g>
<g transform="translate(270.3 251.85) scale(0.57)">
<g transform="translate(35.48 124.1) rotate(-18)"><rect x="-4.2" y="-4" width="8.4" height="8" rx="1.2" fill="#fff" stroke="#777" stroke-width="1.06"/><ellipse rx="2.1" ry="1.6" fill="#4a90d9"/></g>
<g transform="translate(46.66 124.41) rotate(2.48)"><rect x="-5.5" y="-4" width="11" height="8" rx="1.2" fill="#fff" stroke="#777" stroke-width="1.06"/><ellipse rx="2.1" ry="1.6" fill="#4a90d9"/></g>
<g transform="translate(58.51 124.44) rotate(0.32)"><rect x="-5.5" y="-4" width="11" height="8" rx="1.2" fill="#fff" stroke="#777" stroke-width="1.06"/><ellipse rx="2.1" ry="1.6" fill="#4a90d9"/></g>
<g transform="translate(70.42 124.4) rotate(0.46)"><rect x="-5.5" y="-4" width="11" height="8" rx="1.2" fill="#fff" stroke="#777" stroke-width="1.06"/><ellipse rx="2.1" ry="1.6" fill="#4a90d9"/></g>
<g transform="translate(81.55 124.09) rotate(2.04)"><rect x="-5.5" y="-4" width="11" height="8" rx="1.2" fill="#fff" stroke="#777" stroke-width="1.06"/><ellipse rx="2.1" ry="1.6" fill="#4a90d9"/></g>
<g transform="translate(37.98 132.7) rotate(-8)"><rect x="-4.2" y="-4" width="8.4" height="8" rx="1.2" fill="#fff" stroke="#777" stroke-width="1.06"/><ellipse rx="2.1" ry="1.6" fill="#4a90d9"/></g>
<g transform="translate(47.9 132.64) rotate(0.93)"><rect x="-5.5" y="-4" width="11" height="8" rx="1.2" fill="#fff" stroke="#777" stroke-width="1.06"/><ellipse rx="2.1" ry="1.6" fill="#4a90d9"/></g>
<g transform="translate(59.43 133.12) rotate(1.71)"><rect x="-5.5" y="-4" width="11" height="8" rx="1.2" fill="#fff" stroke="#777" stroke-width="1.06"/><ellipse rx="2.1" ry="1.6" fill="#4a90d9"/></g>
<g transform="translate(71.17 133.04) rotate(2.05)"><rect x="-5.5" y="-4" width="11" height="8" rx="1.2" fill="#fff" stroke="#777" stroke-width="1.06"/><ellipse rx="2.1" ry="1.6" fill="#4a90d9"/></g>
<g transform="translate(82.5 133) rotate(1.39)"><rect x="-5.5" y="-4" width="11" height="8" rx="1.2" fill="#fff" stroke="#777" stroke-width="1.06"/><ellipse rx="2.1" ry="1.6" fill="#4a90d9"/></g>
<g transform="translate(37.33 141.61) rotate(-12)"><rect x="-4.2" y="-4" width="8.4" height="8" rx="1.2" fill="#fff" stroke="#777" stroke-width="1.06"/><ellipse rx="2.1" ry="1.6" fill="#4a90d9"/></g>
<g transform="translate(46.24 141.39) rotate(2.88)"><rect x="-5.5" y="-4" width="11" height="8" rx="1.2" fill="#fff" stroke="#777" stroke-width="1.06"/><ellipse rx="2.1" ry="1.6" fill="#4a90d9"/></g>
<g transform="translate(58.69 141.31) rotate(0.72)"><rect x="-5.5" y="-4" width="11" height="8" rx="1.2" fill="#fff" stroke="#777" stroke-width="1.06"/><ellipse rx="2.1" ry="1.6" fill="#4a90d9"/></g>
<g transform="translate(70.48 141.38) rotate(2.33)"><rect x="-5.5" y="-4" width="11" height="8" rx="1.2" fill="#fff" stroke="#777" stroke-width="1.06"/><ellipse rx="2.1" ry="1.6" fill="#4a90d9"/></g>
<g transform="translate(81.73 141.44) rotate(-2.12)"><rect x="-5.5" y="-4" width="11" height="8" rx="1.2" fill="#fff" stroke="#777" stroke-width="1.06"/><ellipse rx="2.1" ry="1.6" fill="#4a90d9"/></g>
<g transform="translate(37.19 150.04) rotate(4)"><rect x="-4.2" y="-4" width="8.4" height="8" rx="1.2" fill="#fff" stroke="#777" stroke-width="1.06"/><ellipse rx="2.1" ry="1.6" fill="#4a90d9"/></g>
<g transform="translate(47.51 150.08) rotate(-2.87)"><rect x="-5.5" y="-4" width="11" height="8" rx="1.2" fill="#fff" stroke="#777" stroke-width="1.06"/><ellipse rx="2.1" ry="1.6" fill="#4a90d9"/></g>
<g transform="translate(59.74 150.25) rotate(1.37)"><rect x="-5.5" y="-4" width="11" height="8" rx="1.2" fill="#fff" stroke="#777" stroke-width="1.06"/><ellipse rx="2.1" ry="1.6" fill="#4a90d9"/></g>
<g transform="translate(71.7 150.19) rotate(0.24)"><rect x="-5.5" y="-4" width="11" height="8" rx="1.2" fill="#fff" stroke="#777" stroke-width="1.06"/><ellipse rx="2.1" ry="1.6" fill="#4a90d9"/></g>
<g transform="translate(82.51 149.84) rotate(-1.07)"><rect x="-5.5" y="-4" width="11" height="8" rx="1.2" fill="#fff" stroke="#777" stroke-width="1.06"/><ellipse rx="2.1" ry="1.6" fill="#4a90d9"/></g>
<g transform="translate(92.6 106.6) rotate(-32)"><rect x="-4.1" y="-3.8" width="8.2" height="7.6" rx="1.1" fill="#fff" stroke="#777" stroke-width="1.06"/><ellipse rx="2" ry="1.6" fill="#4a90d9"/></g>
<g transform="translate(88 115.2) rotate(-28)"><rect x="-4.1" y="-3.8" width="8.2" height="7.6" rx="1.1" fill="#fff" stroke="#777" stroke-width="1.06"/><ellipse rx="2" ry="1.6" fill="#4a90d9"/></g>
<g transform="translate(89.8 160.6) rotate(28)"><rect x="-4.1" y="-3.8" width="8.2" height="7.6" rx="1.1" fill="#fff" stroke="#777" stroke-width="1.06"/><ellipse rx="2" ry="1.6" fill="#4a90d9"/></g>
</g>
<ellipse cx="284.1" cy="317.3" rx="2.8" ry="3.7" fill="#fff" stroke="#0a9f45" stroke-width="1.6"/>
<ellipse cx="284.1" cy="341.8" rx="2.9" ry="3" fill="#fff" stroke="#f00" stroke-width="1.6"/>
<ellipse cx="281.8" cy="330.2" rx="6.4" ry="8.2" fill="#fff" stroke="#f00" stroke-width="1.6"/>
<text x="281.8" y="331.9" font-size="4.4" font-weight="normal" text-anchor="middle" fill="#444" >PV</text>
<ellipse cx="349.3" cy="328.7" rx="29.21" ry="26.58" fill="#fff"/>
<g transform="translate(357.41 328.68) rotate(92.55)"><rect x="-2.46" y="-2.46" width="4.92" height="4.92" rx="0.6" fill="#82221e"/><ellipse rx="1.22" ry="0.96" fill="#4a90d9"/></g>
<g transform="translate(354.84 333.33) rotate(144.57)"><rect x="-2.46" y="-2.46" width="4.92" height="4.92" rx="0.6" fill="#82221e"/><ellipse rx="1.22" ry="0.96" fill="#4a90d9"/></g>
<g transform="translate(348.99 334.39) rotate(-179.01)"><rect x="-2.46" y="-2.46" width="4.92" height="4.92" rx="0.6" fill="#82221e"/><ellipse rx="1.22" ry="0.96" fill="#4a90d9"/></g>
<g transform="translate(343.35 333.04) rotate(-140.32)"><rect x="-2.46" y="-2.46" width="4.92" height="4.92" rx="0.6" fill="#82221e"/><ellipse rx="1.22" ry="0.96" fill="#4a90d9"/></g>
<g transform="translate(341.5 328.42) rotate(-90.31)"><rect x="-2.46" y="-2.46" width="4.92" height="4.92" rx="0.6" fill="#82221e"/><ellipse rx="1.22" ry="0.96" fill="#4a90d9"/></g>
<g transform="translate(344.12 324.5) rotate(-36.2)"><rect x="-2.46" y="-2.46" width="4.92" height="4.92" rx="0.6" fill="#82221e"/><ellipse rx="1.22" ry="0.96" fill="#4a90d9"/></g>
<g transform="translate(349.32 322.69) rotate(1.63)"><rect x="-2.46" y="-2.46" width="4.92" height="4.92" rx="0.6" fill="#82221e"/><ellipse rx="1.22" ry="0.96" fill="#4a90d9"/></g>
<g transform="translate(355.35 324.67) rotate(39.28)"><rect x="-2.46" y="-2.46" width="4.92" height="4.92" rx="0.6" fill="#82221e"/><ellipse rx="1.22" ry="0.96" fill="#4a90d9"/></g>
<g transform="translate(359.33 333.99) rotate(122.77)"><rect x="-2.46" y="-2.46" width="4.92" height="4.92" rx="0.6" fill="#82221e"/><ellipse rx="1.22" ry="0.96" fill="#4a90d9"/></g>
<g transform="translate(355.52 337.93) rotate(152.27)"><rect x="-2.46" y="-2.46" width="4.92" height="4.92" rx="0.6" fill="#82221e"/><ellipse rx="1.22" ry="0.96" fill="#4a90d9"/></g>
<g transform="translate(349.92 339.02) rotate(174.61)"><rect x="-2.46" y="-2.46" width="4.92" height="4.92" rx="0.6" fill="#82221e"/><ellipse rx="1.22" ry="0.96" fill="#4a90d9"/></g>
<g transform="translate(344.26 338.03) rotate(-153)"><rect x="-2.46" y="-2.46" width="4.92" height="4.92" rx="0.6" fill="#82221e"/><ellipse rx="1.22" ry="0.96" fill="#4a90d9"/></g>
<g transform="translate(339.71 334.52) rotate(-129.4)"><rect x="-2.46" y="-2.46" width="4.92" height="4.92" rx="0.6" fill="#82221e"/><ellipse rx="1.22" ry="0.96" fill="#4a90d9"/></g>
<g transform="translate(337.58 330.52) rotate(-101.7)"><rect x="-2.46" y="-2.46" width="4.92" height="4.92" rx="0.6" fill="#82221e"/><ellipse rx="1.22" ry="0.96" fill="#4a90d9"/></g>
<g transform="translate(337.93 325.46) rotate(-71.28)"><rect x="-2.46" y="-2.46" width="4.92" height="4.92" rx="0.6" fill="#82221e"/><ellipse rx="1.22" ry="0.96" fill="#4a90d9"/></g>
<g transform="translate(341.29 321.38) rotate(-43.27)"><rect x="-2.46" y="-2.46" width="4.92" height="4.92" rx="0.6" fill="#82221e"/><ellipse rx="1.22" ry="0.96" fill="#4a90d9"/></g>
<g transform="translate(346.14 318.67) rotate(-16.49)"><rect x="-2.46" y="-2.46" width="4.92" height="4.92" rx="0.6" fill="#82221e"/><ellipse rx="1.22" ry="0.96" fill="#4a90d9"/></g>
<g transform="translate(351.92 318.95) rotate(10.98)"><rect x="-2.46" y="-2.46" width="4.92" height="4.92" rx="0.6" fill="#82221e"/><ellipse rx="1.22" ry="0.96" fill="#4a90d9"/></g>
<g transform="translate(356.76 320.78) rotate(38.34)"><rect x="-2.46" y="-2.46" width="4.92" height="4.92" rx="0.6" fill="#82221e"/><ellipse rx="1.22" ry="0.96" fill="#4a90d9"/></g>
<g transform="translate(360.76 324.92) rotate(59.65)"><rect x="-2.46" y="-2.46" width="4.92" height="4.92" rx="0.6" fill="#82221e"/><ellipse rx="1.22" ry="0.96" fill="#4a90d9"/></g>
<g transform="translate(361.63 329.72) rotate(91.98)"><rect x="-2.46" y="-2.46" width="4.92" height="4.92" rx="0.6" fill="#82221e"/><ellipse rx="1.22" ry="0.96" fill="#4a90d9"/></g>
<g transform="translate(365.32 330.66) rotate(94.78)"><rect x="-2.46" y="-2.46" width="4.92" height="4.92" rx="0.6" fill="#facad2"/><ellipse rx="1.22" ry="0.96" fill="#4a90d9"/></g>
<g transform="translate(364.26 334.84) rotate(119.52)"><rect x="-2.46" y="-2.46" width="4.92" height="4.92" rx="0.6" fill="#facad2"/><ellipse rx="1.22" ry="0.96" fill="#4a90d9"/></g>
<g transform="translate(360.85 338.67) rotate(133.77)"><rect x="-2.46" y="-2.46" width="4.92" height="4.92" rx="0.6" fill="#facad2"/><ellipse rx="1.22" ry="0.96" fill="#4a90d9"/></g>
<g transform="translate(356.76 342.09) rotate(153.07)"><rect x="-2.46" y="-2.46" width="4.92" height="4.92" rx="0.6" fill="#facad2"/><ellipse rx="1.22" ry="0.96" fill="#4a90d9"/></g>
<g transform="translate(351.45 343.45) rotate(177.92)"><rect x="-2.46" y="-2.46" width="4.92" height="4.92" rx="0.6" fill="#facad2"/><ellipse rx="1.22" ry="0.96" fill="#4a90d9"/></g>
<g transform="translate(346.14 342.78) rotate(-167.18)"><rect x="-2.46" y="-2.46" width="4.92" height="4.92" rx="0.6" fill="#facad2"/><ellipse rx="1.22" ry="0.96" fill="#4a90d9"/></g>
<g transform="translate(340.84 341.45) rotate(-150.06)"><rect x="-2.46" y="-2.46" width="4.92" height="4.92" rx="0.6" fill="#facad2"/><ellipse rx="1.22" ry="0.96" fill="#4a90d9"/></g>
<g transform="translate(336.96 338.3) rotate(-134.78)"><rect x="-2.46" y="-2.46" width="4.92" height="4.92" rx="0.6" fill="#facad2"/><ellipse rx="1.22" ry="0.96" fill="#4a90d9"/></g>
<g transform="translate(334.11 333.65) rotate(-116.59)"><rect x="-2.46" y="-2.46" width="4.92" height="4.92" rx="0.6" fill="#facad2"/><ellipse rx="1.22" ry="0.96" fill="#4a90d9"/></g>
<g transform="translate(333.18 329.19) rotate(-90.63)"><rect x="-2.46" y="-2.46" width="4.92" height="4.92" rx="0.6" fill="#facad2"/><ellipse rx="1.22" ry="0.96" fill="#4a90d9"/></g>
<g transform="translate(333.61 324.35) rotate(-70.3)"><rect x="-2.46" y="-2.46" width="4.92" height="4.92" rx="0.6" fill="#facad2"/><ellipse rx="1.22" ry="0.96" fill="#4a90d9"/></g>
<g transform="translate(336.24 320.11) rotate(-52.38)"><rect x="-2.46" y="-2.46" width="4.92" height="4.92" rx="0.6" fill="#facad2"/><ellipse rx="1.22" ry="0.96" fill="#4a90d9"/></g>
<g transform="translate(339.57 316.64) rotate(-28.78)"><rect x="-2.46" y="-2.46" width="4.92" height="4.92" rx="0.6" fill="#facad2"/><ellipse rx="1.22" ry="0.96" fill="#4a90d9"/></g>
<g transform="translate(344.8 315.1) rotate(-12.87)"><rect x="-2.46" y="-2.46" width="4.92" height="4.92" rx="0.6" fill="#facad2"/><ellipse rx="1.22" ry="0.96" fill="#4a90d9"/></g>
<g transform="translate(350.35 314.01) rotate(-0.87)"><rect x="-2.46" y="-2.46" width="4.92" height="4.92" rx="0.6" fill="#facad2"/><ellipse rx="1.22" ry="0.96" fill="#4a90d9"/></g>
<g transform="translate(355.13 315.11) rotate(24.07)"><rect x="-2.46" y="-2.46" width="4.92" height="4.92" rx="0.6" fill="#facad2"/><ellipse rx="1.22" ry="0.96" fill="#4a90d9"/></g>
<g transform="translate(359.77 317.63) rotate(32.57)"><rect x="-2.46" y="-2.46" width="4.92" height="4.92" rx="0.6" fill="#facad2"/><ellipse rx="1.22" ry="0.96" fill="#4a90d9"/></g>
<g transform="translate(363.12 321.34) rotate(57.3)"><rect x="-2.46" y="-2.46" width="4.92" height="4.92" rx="0.6" fill="#facad2"/><ellipse rx="1.22" ry="0.96" fill="#4a90d9"/></g>
<g transform="translate(365.41 326.06) rotate(80.45)"><rect x="-2.46" y="-2.46" width="4.92" height="4.92" rx="0.6" fill="#facad2"/><ellipse rx="1.22" ry="0.96" fill="#4a90d9"/></g>
<g transform="translate(361.73 343.94) rotate(143.94)"><rect x="-2.46" y="-2.46" width="4.92" height="4.92" rx="0.6" fill="#facad2"/><ellipse rx="1.22" ry="0.96" fill="#4a90d9"/></g>
<g transform="translate(357.16 346.12) rotate(156.14)"><rect x="-2.46" y="-2.46" width="4.92" height="4.92" rx="0.6" fill="#facad2"/><ellipse rx="1.22" ry="0.96" fill="#4a90d9"/></g>
<g transform="translate(351.93 347.23) rotate(175.26)"><rect x="-2.46" y="-2.46" width="4.92" height="4.92" rx="0.6" fill="#facad2"/><ellipse rx="1.22" ry="0.96" fill="#4a90d9"/></g>
<g transform="translate(346.24 347.4) rotate(-178.01)"><rect x="-2.46" y="-2.46" width="4.92" height="4.92" rx="0.6" fill="#facad2"/><ellipse rx="1.22" ry="0.96" fill="#4a90d9"/></g>
<g transform="translate(341.2 346.12) rotate(-162.56)"><rect x="-2.46" y="-2.46" width="4.92" height="4.92" rx="0.6" fill="#facad2"/><ellipse rx="1.22" ry="0.96" fill="#4a90d9"/></g>
<g transform="translate(336.37 343.97) rotate(-144.77)"><rect x="-2.46" y="-2.46" width="4.92" height="4.92" rx="0.6" fill="#facad2"/><ellipse rx="1.22" ry="0.96" fill="#4a90d9"/></g>
<g transform="translate(332.55 340.32) rotate(-134.78)"><rect x="-2.46" y="-2.46" width="4.92" height="4.92" rx="0.6" fill="#facad2"/><ellipse rx="1.22" ry="0.96" fill="#4a90d9"/></g>
<g transform="translate(330.08 336.45) rotate(-115.91)"><rect x="-2.46" y="-2.46" width="4.92" height="4.92" rx="0.6" fill="#facad2"/><ellipse rx="1.22" ry="0.96" fill="#4a90d9"/></g>
<g transform="translate(328.04 332.23) rotate(-105.15)"><rect x="-2.46" y="-2.46" width="4.92" height="4.92" rx="0.6" fill="#facad2"/><ellipse rx="1.22" ry="0.96" fill="#4a90d9"/></g>
<g transform="translate(327.85 327.51) rotate(-85.64)"><rect x="-2.46" y="-2.46" width="4.92" height="4.92" rx="0.6" fill="#facad2"/><ellipse rx="1.22" ry="0.96" fill="#4a90d9"/></g>
<g transform="translate(329.19 322.55) rotate(-67.68)"><rect x="-2.46" y="-2.46" width="4.92" height="4.92" rx="0.6" fill="#facad2"/><ellipse rx="1.22" ry="0.96" fill="#4a90d9"/></g>
<g transform="translate(331.27 318.41) rotate(-54.5)"><rect x="-2.46" y="-2.46" width="4.92" height="4.92" rx="0.6" fill="#facad2"/><ellipse rx="1.22" ry="0.96" fill="#4a90d9"/></g>
<g transform="translate(335.14 314.97) rotate(-38.86)"><rect x="-2.46" y="-2.46" width="4.92" height="4.92" rx="0.6" fill="#facad2"/><ellipse rx="1.22" ry="0.96" fill="#4a90d9"/></g>
<g transform="translate(339.44 312.11) rotate(-23.32)"><rect x="-2.46" y="-2.46" width="4.92" height="4.92" rx="0.6" fill="#facad2"/><ellipse rx="1.22" ry="0.96" fill="#4a90d9"/></g>
<g transform="translate(344.19 310.38) rotate(-15.26)"><rect x="-2.46" y="-2.46" width="4.92" height="4.92" rx="0.6" fill="#facad2"/><ellipse rx="1.22" ry="0.96" fill="#4a90d9"/></g>
<g transform="translate(349.79 309.87) rotate(3.64)"><rect x="-2.46" y="-2.46" width="4.92" height="4.92" rx="0.6" fill="#facad2"/><ellipse rx="1.22" ry="0.96" fill="#4a90d9"/></g>
<g transform="translate(354.85 310.08) rotate(9.37)"><rect x="-2.46" y="-2.46" width="4.92" height="4.92" rx="0.6" fill="#facad2"/><ellipse rx="1.22" ry="0.96" fill="#4a90d9"/></g>
<g transform="translate(359.99 312.33) rotate(30.53)"><rect x="-2.46" y="-2.46" width="4.92" height="4.92" rx="0.6" fill="#facad2"/><ellipse rx="1.22" ry="0.96" fill="#4a90d9"/></g>
<g transform="translate(364.3 314.83) rotate(45.17)"><rect x="-2.46" y="-2.46" width="4.92" height="4.92" rx="0.6" fill="#facad2"/><ellipse rx="1.22" ry="0.96" fill="#4a90d9"/></g>
<g transform="translate(367.47 318.86) rotate(55.14)"><rect x="-2.46" y="-2.46" width="4.92" height="4.92" rx="0.6" fill="#facad2"/><ellipse rx="1.22" ry="0.96" fill="#4a90d9"/></g>
<g transform="translate(369.45 323) rotate(70.07)"><rect x="-2.46" y="-2.46" width="4.92" height="4.92" rx="0.6" fill="#facad2"/><ellipse rx="1.22" ry="0.96" fill="#4a90d9"/></g>
<g transform="translate(370.44 327.56) rotate(85.93)"><rect x="-2.46" y="-2.46" width="4.92" height="4.92" rx="0.6" fill="#facad2"/><ellipse rx="1.22" ry="0.96" fill="#4a90d9"/></g>
<g transform="translate(370.03 332.15) rotate(105.72)"><rect x="-2.46" y="-2.46" width="4.92" height="4.92" rx="0.6" fill="#facad2"/><ellipse rx="1.22" ry="0.96" fill="#4a90d9"/></g>
<g transform="translate(368.4 336.81) rotate(121.28)"><rect x="-2.46" y="-2.46" width="4.92" height="4.92" rx="0.6" fill="#facad2"/><ellipse rx="1.22" ry="0.96" fill="#4a90d9"/></g>
<g transform="translate(365.74 340.85) rotate(131.57)"><rect x="-2.46" y="-2.46" width="4.92" height="4.92" rx="0.6" fill="#facad2"/><ellipse rx="1.22" ry="0.96" fill="#4a90d9"/></g>
<g transform="translate(367.65 345.74) rotate(137.3)"><rect x="-2.46" y="-2.46" width="4.92" height="4.92" rx="0.6" fill="#facad2"/><ellipse rx="1.22" ry="0.96" fill="#4a90d9"/></g>
<g transform="translate(363.99 348.6) rotate(150.79)"><rect x="-2.46" y="-2.46" width="4.92" height="4.92" rx="0.6" fill="#facad2"/><ellipse rx="1.22" ry="0.96" fill="#4a90d9"/></g>
<g transform="translate(358.88 350.66) rotate(157.57)"><rect x="-2.46" y="-2.46" width="4.92" height="4.92" rx="0.6" fill="#facad2"/><ellipse rx="1.22" ry="0.96" fill="#4a90d9"/></g>
<g transform="translate(353.97 352.46) rotate(168.5)"><rect x="-2.46" y="-2.46" width="4.92" height="4.92" rx="0.6" fill="#facad2"/><ellipse rx="1.22" ry="0.96" fill="#4a90d9"/></g>
<g transform="translate(348.12 352.88) rotate(-177.26)"><rect x="-2.46" y="-2.46" width="4.92" height="4.92" rx="0.6" fill="#facad2"/><ellipse rx="1.22" ry="0.96" fill="#4a90d9"/></g>
<g transform="translate(343.19 352.2) rotate(-170.02)"><rect x="-2.46" y="-2.46" width="4.92" height="4.92" rx="0.6" fill="#facad2"/><ellipse rx="1.22" ry="0.96" fill="#4a90d9"/></g>
<g transform="translate(337.99 350.59) rotate(-160.06)"><rect x="-2.46" y="-2.46" width="4.92" height="4.92" rx="0.6" fill="#facad2"/><ellipse rx="1.22" ry="0.96" fill="#4a90d9"/></g>
<g transform="translate(333.22 348.07) rotate(-142.48)"><rect x="-2.46" y="-2.46" width="4.92" height="4.92" rx="0.6" fill="#facad2"/><ellipse rx="1.22" ry="0.96" fill="#4a90d9"/></g>
<g transform="translate(329.47 344.27) rotate(-131.11)"><rect x="-2.46" y="-2.46" width="4.92" height="4.92" rx="0.6" fill="#facad2"/><ellipse rx="1.22" ry="0.96" fill="#4a90d9"/></g>
<g transform="translate(326.2 340.78) rotate(-124.95)"><rect x="-2.46" y="-2.46" width="4.92" height="4.92" rx="0.6" fill="#facad2"/><ellipse rx="1.22" ry="0.96" fill="#4a90d9"/></g>
<g transform="translate(323.9 336.32) rotate(-111.17)"><rect x="-2.46" y="-2.46" width="4.92" height="4.92" rx="0.6" fill="#facad2"/><ellipse rx="1.22" ry="0.96" fill="#4a90d9"/></g>
<g transform="translate(322.9 331.42) rotate(-97.78)"><rect x="-2.46" y="-2.46" width="4.92" height="4.92" rx="0.6" fill="#facad2"/><ellipse rx="1.22" ry="0.96" fill="#4a90d9"/></g>
<g transform="translate(322.89 326.74) rotate(-88.44)"><rect x="-2.46" y="-2.46" width="4.92" height="4.92" rx="0.6" fill="#facad2"/><ellipse rx="1.22" ry="0.96" fill="#4a90d9"/></g>
<g transform="translate(324.03 321.88) rotate(-68.55)"><rect x="-2.46" y="-2.46" width="4.92" height="4.92" rx="0.6" fill="#facad2"/><ellipse rx="1.22" ry="0.96" fill="#4a90d9"/></g>
<g transform="translate(325.8 317.53) rotate(-62.22)"><rect x="-2.46" y="-2.46" width="4.92" height="4.92" rx="0.6" fill="#facad2"/><ellipse rx="1.22" ry="0.96" fill="#4a90d9"/></g>
<g transform="translate(329.09 313.54) rotate(-46.83)"><rect x="-2.46" y="-2.46" width="4.92" height="4.92" rx="0.6" fill="#facad2"/><ellipse rx="1.22" ry="0.96" fill="#4a90d9"/></g>
<g transform="translate(332.76 310.34) rotate(-37.15)"><rect x="-2.46" y="-2.46" width="4.92" height="4.92" rx="0.6" fill="#facad2"/><ellipse rx="1.22" ry="0.96" fill="#4a90d9"/></g>
<g transform="translate(336.99 307.29) rotate(-29.22)"><rect x="-2.46" y="-2.46" width="4.92" height="4.92" rx="0.6" fill="#facad2"/><ellipse rx="1.22" ry="0.96" fill="#4a90d9"/></g>
<g transform="translate(342.56 305.9) rotate(-17.06)"><rect x="-2.46" y="-2.46" width="4.92" height="4.92" rx="0.6" fill="#facad2"/><ellipse rx="1.22" ry="0.96" fill="#4a90d9"/></g>
<g transform="translate(347.66 304.66) rotate(0.17)"><rect x="-2.46" y="-2.46" width="4.92" height="4.92" rx="0.6" fill="#facad2"/><ellipse rx="1.22" ry="0.96" fill="#4a90d9"/></g>
<g transform="translate(352.86 304.73) rotate(8.45)"><rect x="-2.46" y="-2.46" width="4.92" height="4.92" rx="0.6" fill="#facad2"/><ellipse rx="1.22" ry="0.96" fill="#4a90d9"/></g>
<g transform="translate(357.84 306.46) rotate(21.97)"><rect x="-2.46" y="-2.46" width="4.92" height="4.92" rx="0.6" fill="#facad2"/><ellipse rx="1.22" ry="0.96" fill="#4a90d9"/></g>
<g transform="translate(363.06 308.06) rotate(31.28)"><rect x="-2.46" y="-2.46" width="4.92" height="4.92" rx="0.6" fill="#facad2"/><ellipse rx="1.22" ry="0.96" fill="#4a90d9"/></g>
<g transform="translate(366.94 310.87) rotate(37.81)"><rect x="-2.46" y="-2.46" width="4.92" height="4.92" rx="0.6" fill="#facad2"/><ellipse rx="1.22" ry="0.96" fill="#4a90d9"/></g>
<g transform="translate(370.52 315.03) rotate(53.15)"><rect x="-2.46" y="-2.46" width="4.92" height="4.92" rx="0.6" fill="#facad2"/><ellipse rx="1.22" ry="0.96" fill="#4a90d9"/></g>
<g transform="translate(373.7 319.07) rotate(60.89)"><rect x="-2.46" y="-2.46" width="4.92" height="4.92" rx="0.6" fill="#facad2"/><ellipse rx="1.22" ry="0.96" fill="#4a90d9"/></g>
<g transform="translate(375.01 323.62) rotate(79.15)"><rect x="-2.46" y="-2.46" width="4.92" height="4.92" rx="0.6" fill="#facad2"/><ellipse rx="1.22" ry="0.96" fill="#4a90d9"/></g>
<g transform="translate(375.87 328.22) rotate(92.06)"><rect x="-2.46" y="-2.46" width="4.92" height="4.92" rx="0.6" fill="#facad2"/><ellipse rx="1.22" ry="0.96" fill="#4a90d9"/></g>
<g transform="translate(375.26 333.25) rotate(105.41)"><rect x="-2.46" y="-2.46" width="4.92" height="4.92" rx="0.6" fill="#facad2"/><ellipse rx="1.22" ry="0.96" fill="#4a90d9"/></g>
<g transform="translate(373.91 337.77) rotate(115.45)"><rect x="-2.46" y="-2.46" width="4.92" height="4.92" rx="0.6" fill="#facad2"/><ellipse rx="1.22" ry="0.96" fill="#4a90d9"/></g>
<g transform="translate(371.05 342.01) rotate(130.12)"><rect x="-2.46" y="-2.46" width="4.92" height="4.92" rx="0.6" fill="#facad2"/><ellipse rx="1.22" ry="0.96" fill="#4a90d9"/></g>
<ellipse cx="349.3" cy="328.7" rx="10.07" ry="8.28" fill="none" stroke="#333" stroke-width="0.85" stroke-dasharray="4.08 1.87" stroke-dashoffset="0"/>
<ellipse cx="349.3" cy="328.7" rx="14.04" ry="12.31" fill="none" stroke="#333" stroke-width="0.85" stroke-dasharray="4.08 1.87" stroke-dashoffset="3"/>
<ellipse cx="349.3" cy="328.7" rx="18.85" ry="16.67" fill="none" stroke="#333" stroke-width="0.85" stroke-dasharray="4.08 1.87" stroke-dashoffset="6"/>
<ellipse cx="349.3" cy="328.7" rx="23.77" ry="21.2" fill="none" stroke="#333" stroke-width="0.85" stroke-dasharray="4.08 1.87" stroke-dashoffset="9"/>
<ellipse cx="349.3" cy="328.7" rx="29.21" ry="26.58" fill="none" stroke="#333" stroke-width="0.85" stroke-dasharray="4.08 1.87" stroke-dashoffset="12"/>
<ellipse cx="348.7" cy="328.9" rx="4.3" ry="2.2" fill="#fff" stroke="#f00" stroke-width="1.5"/>
<text x="271.6" y="388.2" font-size="11.2" font-weight="normal" text-anchor="start" fill="#000" textLength="112.5" lengthAdjust="spacingAndGlyphs" >Spatial transcriptomics</text>
<defs>
<filter id="nz1" x="0" y="0" width="100%" height="100%"><feTurbulence type="fractalNoise" baseFrequency="0.6" numOctaves="2" seed="3" result="n"/>
<feColorMatrix in="n" type="matrix" values="0 0 0 0 0.05  0 0 0 0 0.05  0 0 0 0 0.75  0 0 3.4 0 -1.95"/></filter>
<filter id="gm" x="-5%" y="-5%" width="110%" height="110%"><feTurbulence type="fractalNoise" baseFrequency="0.38" numOctaves="2" seed="11" result="n"/>
<feColorMatrix in="n" type="matrix" values="0 0 0 0 0  0 0 0 0 0  0 0 0 0 0  5 0 0 0 -2.3" result="m"/><feComposite in="SourceGraphic" in2="m" operator="in"/></filter>
<filter id="gm2" x="-5%" y="-5%" width="110%" height="110%"><feTurbulence type="fractalNoise" baseFrequency="0.5" numOctaves="2" seed="23" result="n"/>
<feColorMatrix in="n" type="matrix" values="0 0 0 0 0  0 0 0 0 0  0 0 0 0 0  0 6 0 0 -3.3" result="m"/><feComposite in="SourceGraphic" in2="m" operator="in"/></filter>
<filter id="rd" x="0" y="0" width="100%" height="100%"><feTurbulence type="fractalNoise" baseFrequency="0.24" numOctaves="3" seed="8" result="n"/>
<feColorMatrix in="n" type="matrix" values="0 0 0 0 0.72  0 0 0 0 0.30  0 0 0 0 0.36  4 0 0 0 -1.25"/></filter>
<filter id="rd2" x="0" y="0" width="100%" height="100%"><feTurbulence type="fractalNoise" baseFrequency="0.16" numOctaves="3" seed="19" result="n"/>
<feColorMatrix in="n" type="matrix" values="0 0 0 0 0.60  0 0 0 0 0.18  0 0 0 0 0.26  0 6 0 0 -2.6"/></filter>
<filter id="wh" x="0" y="0" width="100%" height="100%"><feTurbulence type="fractalNoise" baseFrequency="0.45" numOctaves="2" seed="15" result="n"/>
<feColorMatrix in="n" type="matrix" values="0 0 0 0 1  0 0 0 0 0.97  0 0 0 0 0.97  0 4 0 0 -2.25"/></filter>
<filter id="bm" x="-20%" y="-20%" width="140%" height="140%"><feGaussianBlur stdDeviation="1.3" result="b"/><feTurbulence type="fractalNoise" baseFrequency="0.4" numOctaves="2" seed="31" result="n"/>
<feColorMatrix in="n" type="matrix" values="0 0 0 0 0  0 0 0 0 0  0 0 0 0 0  0 0 5 0 -1.9" result="m"/><feComposite in="b" in2="m" operator="in"/></filter>
<filter id="b3" x="-30%" y="-30%" width="160%" height="160%"><feGaussianBlur stdDeviation="1.6"/></filter>
<filter id="b4" x="-30%" y="-30%" width="160%" height="160%"><feGaussianBlur stdDeviation="0.6"/></filter>
<clipPath id="c1"><rect x="423.6" y="299.2" width="70" height="58.7"/></clipPath>
<clipPath id="c2"><rect x="496.8" y="299.2" width="63.7" height="58.7"/></clipPath>
</defs>
<g clip-path="url(#c1)">
<rect x="423" y="299" width="71" height="59.2" fill="#020208"/>
<rect x="423" y="299" width="71" height="59.2" filter="url(#nz1)"/>
<path d="M424.6 299.6 L440.5 299.6 L446.9 308.1 L452.2 312.3 L460.7 315.5 L468.2 319.8 L476.7 311.3 L485.2 304.9 L493.3 300.6 L493.3 310.2 L485.2 313.4 L476.7 319.8 L469.3 327.2 L467.1 332.6 L466.1 338.9 L467.1 347.4 L469.3 353.8 L472.4 357.7 L457.6 357.7 L451.2 351.7 L444.8 343.2 L438.4 332.6 L432.0 321.9 L425.6 311.3Z" fill="#1a8a50" opacity="0.4" filter="url(#b4)"/>
<g filter="url(#gm)"><path d="M424.6 299.6 L440.5 299.6 L446.9 308.1 L452.2 312.3 L460.7 315.5 L468.2 319.8 L476.7 311.3 L485.2 304.9 L493.3 300.6 L493.3 310.2 L485.2 313.4 L476.7 319.8 L469.3 327.2 L467.1 332.6 L466.1 338.9 L467.1 347.4 L469.3 353.8 L472.4 357.7 L457.6 357.7 L451.2 351.7 L444.8 343.2 L438.4 332.6 L432.0 321.9 L425.6 311.3Z" fill="#43e07f"/><path d="M452 350 L446 358 L440 358 M430 318 L425 326 M486 303 L493 312" stroke="#43e07f" stroke-width="3" fill="none"/></g>
<g filter="url(#gm2)"><path d="M424.6 299.6 L440.5 299.6 L446.9 308.1 L452.2 312.3 L460.7 315.5 L468.2 319.8 L476.7 311.3 L485.2 304.9 L493.3 300.6 L493.3 310.2 L485.2 313.4 L476.7 319.8 L469.3 327.2 L467.1 332.6 L466.1 338.9 L467.1 347.4 L469.3 353.8 L472.4 357.7 L457.6 357.7 L451.2 351.7 L444.8 343.2 L438.4 332.6 L432.0 321.9 L425.6 311.3Z" fill="#c9f5da"/></g>
<path d="M443.2 313.8 C446 313.2 449.6 313.8 452.4 315 C456 316.8 458.4 319.6 461 322.4 C463 324.4 465.2 325.4 465.5 326.8 C465.4 329.4 464.2 331.6 463.4 334.4 C462.6 337.4 462 340.4 461 343 C460.4 344.8 459.8 346.2 458.4 346.7 C456.6 347 455.2 345.8 453.8 343.6 C452 340.6 450.8 338 449.6 335 C448.2 331.4 447 328.2 445.8 324.6 C444.6 321 443.2 317.4 443.2 313.8Z" fill="#000"/>
<ellipse cx="464.7" cy="354.2" rx="4.6" ry="3.4" fill="#000"/>
<g fill="#ec5fe6" opacity="0.9"><circle cx="465.33" cy="328.56" r="0.54"/><circle cx="493.31" cy="303.13" r="0.9"/><circle cx="433.69" cy="315.68" r="0.8"/><circle cx="452.84" cy="320.01" r="0.68"/><circle cx="454.5" cy="317.79" r="0.48"/><circle cx="434.65" cy="321.75" r="0.75"/><circle cx="442.14" cy="304.42" r="0.89"/><circle cx="450.56" cy="347.92" r="0.85"/><circle cx="437.87" cy="303.9" r="0.65"/><circle cx="456.68" cy="353.26" r="0.89"/><circle cx="468.57" cy="344.92" r="0.7"/><circle cx="431.38" cy="307.56" r="0.88"/><circle cx="488.76" cy="309.12" r="0.55"/><circle cx="443.14" cy="339.18" r="0.52"/><circle cx="427.35" cy="302.98" r="0.72"/><circle cx="443.53" cy="335.36" r="0.77"/><circle cx="436.52" cy="308.5" r="0.92"/><circle cx="456.9" cy="316.76" r="0.73"/><circle cx="486.77" cy="305.29" r="0.82"/><circle cx="485.42" cy="308.98" r="0.8"/><circle cx="447.75" cy="336.82" r="0.82"/><circle cx="486.42" cy="302.5" r="0.79"/><circle cx="460.46" cy="358.69" r="0.63"/><circle cx="439.31" cy="338.72" r="0.74"/><circle cx="428.23" cy="305.64" r="0.45"/><circle cx="437.69" cy="312.95" r="0.61"/><circle cx="436.19" cy="312.15" r="0.71"/><circle cx="435.82" cy="303.77" r="0.85"/><circle cx="464.24" cy="334" r="0.73"/><circle cx="435.19" cy="310.92" r="0.93"/><circle cx="459.02" cy="343.57" r="0.73"/><circle cx="440.15" cy="320.51" r="0.87"/><circle cx="456.52" cy="347.22" r="0.85"/><circle cx="457.73" cy="343.3" r="0.75"/><circle cx="433.92" cy="303.93" r="0.84"/><circle cx="444.42" cy="341.3" r="0.63"/><circle cx="438.76" cy="322.27" r="0.93"/><circle cx="451.94" cy="315.51" r="0.48"/><circle cx="469.25" cy="332.81" r="0.85"/><circle cx="485.29" cy="307.89" r="0.81"/><circle cx="440.86" cy="306.8" r="0.62"/><circle cx="430.75" cy="304.45" r="0.85"/><circle cx="439.59" cy="314.21" r="0.88"/><circle cx="447.39" cy="336.76" r="0.73"/><circle cx="469.06" cy="345.76" r="0.75"/><circle cx="443.5" cy="344.53" r="0.46"/><circle cx="486.69" cy="306.75" r="0.71"/><circle cx="470.86" cy="315.12" r="0.89"/><circle cx="481.72" cy="308.38" r="0.81"/><circle cx="456.83" cy="317.98" r="0.7"/><circle cx="427.02" cy="303.24" r="0.48"/><circle cx="486.06" cy="309.38" r="0.68"/><circle cx="458.01" cy="350.94" r="0.76"/><circle cx="449.68" cy="334.85" r="0.76"/><circle cx="486.85" cy="305" r="0.49"/><circle cx="429.62" cy="301.89" r="0.48"/><circle cx="453.5" cy="352.51" r="0.69"/><circle cx="456.4" cy="314.51" r="0.84"/><circle cx="428.02" cy="303.69" r="0.52"/><circle cx="471.28" cy="343.55" r="0.5"/><circle cx="454.54" cy="352.3" r="0.51"/><circle cx="446.71" cy="334.58" r="0.49"/><circle cx="492.67" cy="302.6" r="0.82"/><circle cx="465.69" cy="328.66" r="0.89"/><circle cx="437.19" cy="312.15" r="0.71"/><circle cx="448.13" cy="334.21" r="0.76"/><circle cx="434.11" cy="309.65" r="0.9"/><circle cx="469.28" cy="326.93" r="0.56"/><circle cx="430.38" cy="301.65" r="0.47"/><circle cx="445.86" cy="321.25" r="0.9"/><circle cx="435.49" cy="298.59" r="0.93"/><circle cx="439.96" cy="310.55" r="0.66"/><circle cx="453.42" cy="355.13" r="0.87"/><circle cx="464.97" cy="344.48" r="0.6"/><circle cx="464.21" cy="327.68" r="0.67"/><circle cx="440.53" cy="322.86" r="0.5"/><circle cx="454.26" cy="354.51" r="0.81"/><circle cx="495.35" cy="298.94" r="0.49"/><circle cx="470.68" cy="329.11" r="0.92"/><circle cx="489.8" cy="301.08" r="0.72"/><circle cx="459.7" cy="356.91" r="0.66"/><circle cx="447.66" cy="332.16" r="0.87"/><circle cx="470.88" cy="318.95" r="0.45"/><circle cx="474.55" cy="320.91" r="0.94"/><circle cx="457.54" cy="355.42" r="0.53"/></g>
<g stroke="#d5dbe8" stroke-width="0.6" opacity="0.7" fill="none"><path d="M430.63 346.97l-0.99 1.96"/><path d="M451.29 350.64l1.29 0.58"/><path d="M471.62 320.46l0.55 0.87"/><path d="M450.57 310.4l-1.45 0.63"/><path d="M463.38 300.54l1.69 0.11"/><path d="M457.04 349.35l-1.61 0.48"/><path d="M476.07 315.55l0.13 0.82"/><path d="M470.91 313.23l-0.79 0.8"/><path d="M447.99 334.25l-1.44 0.33"/><path d="M425.81 310.63l-0.93 1.59"/><path d="M430.66 307.67l-0.13 0.93"/><path d="M486.26 312.35l-0.51 0.77"/><path d="M453.19 348.26l-2.15 0.44"/><path d="M473.38 328.28l-0.57 0.4"/><path d="M451.5 326.43l-1.6 0.18"/><path d="M462.36 352.32l2.07 0.56"/><path d="M448.47 350.65l-1.82 0.18"/><path d="M436.86 330.28l-0.26 2.08"/><path d="M470.26 355.57l0.86 0.15"/><path d="M482.92 333.12l-0.8 0.46"/><path d="M443.56 307.4l1.07 0.12"/><path d="M452 344.44l-1.32 0.15"/><path d="M426.89 309.87l-0.19 0.81"/><path d="M437.78 338.03l-0.36 1.39"/><path d="M482.3 345.02l1.84 0.95"/><path d="M450.17 354.74l0.77 0.97"/><path d="M457.25 310.31l-0.81 1.78"/><path d="M430.53 354.96l1 1.02"/><path d="M466.27 354.13l1.15 0.05"/><path d="M437.64 303.34l0.81 1.2"/><path d="M482.76 311.75l0.07 0.62"/><path d="M432.51 317.69l0.81 0.51"/><path d="M467.9 353.36l-0.5 1.08"/><path d="M446.3 352.16l1.48 0.14"/><path d="M475.19 311.96l0.67 0.04"/><path d="M481.98 340.46l-0.21 1.15"/><path d="M472.67 304.3l-1.05 1.37"/><path d="M489.02 303.37l-0.04 1.52"/><path d="M482.38 320.75l-1.57 0.53"/><path d="M448.07 329.38l2.02 0.22"/><path d="M491.21 317.84l0.82 1.05"/><path d="M479.04 330.36l1.7 0.58"/><path d="M484.75 346.79l1.29 1.09"/><path d="M441.91 325.77l-0.7 0.1"/><path d="M452.14 354.34l-0.4 0.8"/><path d="M479.11 336.74l1.27 0.08"/><path d="M454.05 322.24l-2.1 0.18"/><path d="M490.02 355.87l0.87 0.08"/><path d="M444.15 300.45l-0.19 0.77"/><path d="M437.86 334.81l0.79 0.92"/><path d="M490.88 310.62l-0.17 2"/><path d="M469.74 308.21l-1.69 0.61"/><path d="M437.67 326.95l0.13 1.64"/><path d="M475.89 336.73l-0.59 0.93"/><path d="M477.34 326.41l-0.63 1.41"/><path d="M456.9 305.06l-0.96 0.8"/><path d="M473.95 304.23l-0.37 1.31"/><path d="M460.77 308.54l-0.95 1.33"/><path d="M460.96 353.56l1.52 0.06"/><path d="M443.66 340.02l-0.72 0.08"/><path d="M472.23 343.6l0.87 0.02"/><path d="M484.24 329.13l-0.08 1.31"/><path d="M477.01 321.23l1.6 0.89"/><path d="M491.64 339.67l0.08 1.11"/><path d="M484.81 318.56l-1.65 0.48"/><path d="M490.28 314.58l-0.63 1.76"/><path d="M479.79 303.96l0.19 1.25"/><path d="M480.2 325.77l0.53 0.41"/><path d="M481.38 350.32l1.47 0.38"/><path d="M477.35 349.37l0.06 1.06"/></g>
</g>
<g clip-path="url(#c2)">
<rect x="496" y="299" width="65" height="59.2" fill="#e3c3c8"/>
<rect x="496" y="299" width="65" height="59.2" filter="url(#rd)"/>
<rect x="496" y="299" width="65" height="59.2" filter="url(#rd2)"/>
<g filter="url(#bm)" fill="#9a9ede" opacity="0.85">
<path d="M497 300 L510 300 L514 312 L520 324 L512 328 L503 320 L497 322Z"/>
<path d="M522 314 L531 318 L536 330 L540 344 L538 358 L528 358 L530 344 L524 330Z"/>
<path d="M497 326 L506 324 L508 332 L500 336Z M540 300 L552 300 L548 308Z"/>
</g>
<rect x="496" y="299" width="65" height="59.2" filter="url(#wh)" opacity="0.85"/>
<path d="M507 299 L520.8 299 L523.5 308 L526 317 L522.5 327 L518 324 L512.5 316 L509.5 308Z" fill="#ecebee" filter="url(#b4)"/>
<path d="M526 316 L530 318 L534 324 L531 323Z" fill="#f2f0f3" filter="url(#b4)"/>
</g>
<text x="431.6" y="388.5" font-size="11.2" font-weight="normal" text-anchor="start" fill="#000" textLength="119.6" lengthAdjust="spacingAndGlyphs" >Immunostaining imaging</text>
<text x="596.3" y="287" font-size="9.5" font-weight="normal" text-anchor="start" fill="#000" textLength="112.7" lengthAdjust="spacingAndGlyphs" >Small molecules or siRNA</text>
<circle cx="644.6" cy="299.2" r="1.8" fill="#3b78c4" stroke="#2f6fb7" stroke-width="1.0"/>
<circle cx="649.2" cy="298.8" r="1.8" fill="#f0883a" stroke="#2f6fb7" stroke-width="1.0"/>
<circle cx="644.4" cy="304.2" r="1.8" fill="#f4d24a" stroke="#2f6fb7" stroke-width="1.0"/>
<circle cx="649.2" cy="304.4" r="1.8" fill="#3b78c4" stroke="#2f6fb7" stroke-width="1.0"/>
<path d="M646.7 309.4V316" stroke="#000" stroke-width="1"/>
<polygon points="646.7,322.9 643,315.4 650.4,315.4" fill="#000"/>
<path d="M646.3 327.9V334.5H720.1V327.9M664.4 334.5V327.9M682.4 334.5V327.9M701.6 334.5V327.9" fill="none" stroke="#222" stroke-width="0.9"/>
<path d="M664.4 327 C664.4 324.4 665.2 323.4 667.6 323.4 H688.4 C690.4 323.4 691.4 322.4 691.8 320.4 C692.2 322.4 693.2 323.4 695.2 323.4 H716.9 C719.3 323.4 720.1 324.4 720.1 327" fill="none" stroke="#222" stroke-width="0.8"/>
<text x="675" y="316.4" font-size="8" font-weight="normal" text-anchor="start" fill="#222" textLength="30.9" lengthAdjust="spacingAndGlyphs" >Analysis</text>
<text x="646.7" y="346.6" font-size="8.3" font-weight="normal" text-anchor="middle" fill="#222" >D0</text>
<text x="665.4" y="346.6" font-size="8.3" font-weight="normal" text-anchor="middle" fill="#222" >D2</text>
<text x="682.9" y="346.6" font-size="8.3" font-weight="normal" text-anchor="middle" fill="#222" >D3</text>
<text x="700.5" y="346.6" font-size="8.3" font-weight="normal" text-anchor="middle" fill="#222" >D4</text>
<text x="720.3" y="346.6" font-size="8.3" font-weight="normal" text-anchor="middle" fill="#222" >D7</text>
<text x="581.4" y="346.6" font-size="8" font-weight="normal" text-anchor="start" fill="#222" textLength="54.2" lengthAdjust="spacingAndGlyphs" >Wild-type mice</text>
<path d="M590.8 334.6 C592 333.4 593.6 332 595 330.8 C595 329.4 596.2 328.4 597.6 328.8 C598.4 329 598.8 329.6 599 330.2 C602 328.4 606 327.6 610 327.8 C614.6 328 618.4 329.8 619.6 332.6 C620 333.4 620.2 334 620.2 334.6 C625 335.2 631 335 637.8 332.6 C632 335.8 625 336.4 619.4 335.8 L594.4 335.8 C592.6 335.8 591.2 335.4 590.8 334.6Z" fill="#7d7d7d"/>
<path d="M604.4 330.6 C606 329.2 609.4 329.4 610.6 330.6 C610 332.6 607.4 333.8 604.8 333.6 C604 332.6 604 331.4 604.4 330.6Z" fill="#f08a35"/>
<polygon points="646.7,349.1 643,356.3 650.4,356.3" fill="#000"/>
<path d="M646.7 356V360.6" stroke="#000" stroke-width="1"/>
<text x="637.3" y="371" font-size="8.8" font-weight="normal" text-anchor="start" fill="#222" textLength="32.6" lengthAdjust="spacingAndGlyphs" >1× CCl<tspan font-size="5.8" dy="1.8">4</tspan></text>
<text x="614.4" y="388.4" font-size="11.2" font-weight="normal" text-anchor="start" fill="#000" textLength="89.3" lengthAdjust="spacingAndGlyphs" >Functional assays</text>
<text x="147.7" y="456.5" font-size="13.85" font-weight="bold" text-anchor="start" fill="#000" textLength="452.9" lengthAdjust="spacingAndGlyphs" >The spatiotemporal cellular and molecular basis of liver regeneration</text>
<line x1="377.4" y1="464.4" x2="165.6" y2="512.39" stroke="#000" stroke-width="1.25"/>
<polygon points="157.6,514.2 164.78,508.78 166.41,516" fill="#000"/>
<line x1="377.4" y1="464.4" x2="320.44" y2="505.59" stroke="#000" stroke-width="1.25"/>
<polygon points="313.8,510.4 318.28,502.6 322.61,508.59" fill="#000"/>
<line x1="377.4" y1="464.4" x2="434.45" y2="505.6" stroke="#000" stroke-width="1.25"/>
<polygon points="441.1,510.4 432.29,508.6 436.62,502.6" fill="#000"/>
<line x1="377.4" y1="464.4" x2="589.2" y2="512.39" stroke="#000" stroke-width="1.25"/>
<polygon points="597.2,514.2 588.39,516 590.02,508.78" fill="#000"/>
<g transform="translate(-3 455) scale(1.04)">
<g transform="translate(35.7 124.1) rotate(-18)"><rect x="-4.2" y="-4" width="8.4" height="8" rx="1.2" fill="#fff" stroke="#6a6a6a" stroke-width="0.8"/><ellipse rx="2.1" ry="1.6" fill="#4a90d9"/></g>
<g transform="translate(46.39 124.33) rotate(1.93)"><rect x="-5.5" y="-4" width="11" height="8" rx="1.2" fill="#fff" stroke="#6a6a6a" stroke-width="0.8"/><ellipse rx="2.1" ry="1.6" fill="#4a90d9"/></g>
<g transform="translate(58.52 124.58) rotate(2.56)"><rect x="-5.5" y="-4" width="11" height="8" rx="1.2" fill="#fff" stroke="#6a6a6a" stroke-width="0.8"/><ellipse rx="2.1" ry="1.6" fill="#4a90d9"/></g>
<g transform="translate(70.24 124.38) rotate(1.39)"><rect x="-5.5" y="-4" width="11" height="8" rx="1.2" fill="#fff" stroke="#6a6a6a" stroke-width="0.8"/><ellipse rx="2.1" ry="1.6" fill="#4a90d9"/></g>
<g transform="translate(81.49 124.6) rotate(0.52)"><rect x="-5.5" y="-4" width="11" height="8" rx="1.2" fill="#fff" stroke="#6a6a6a" stroke-width="0.8"/><ellipse rx="2.1" ry="1.6" fill="#4a90d9"/></g>
<g transform="translate(38.19 133.11) rotate(-8)"><rect x="-4.2" y="-4" width="8.4" height="8" rx="1.2" fill="#fff" stroke="#6a6a6a" stroke-width="0.8"/><ellipse rx="2.1" ry="1.6" fill="#4a90d9"/></g>
<g transform="translate(47.61 132.89) rotate(-2.83)"><rect x="-5.5" y="-4" width="11" height="8" rx="1.2" fill="#fff" stroke="#6a6a6a" stroke-width="0.8"/><ellipse rx="2.1" ry="1.6" fill="#4a90d9"/></g>
<g transform="translate(59.54 132.97) rotate(1.89)"><rect x="-5.5" y="-4" width="11" height="8" rx="1.2" fill="#fff" stroke="#6a6a6a" stroke-width="0.8"/><ellipse rx="2.1" ry="1.6" fill="#4a90d9"/></g>
<g transform="translate(71.63 133.16) rotate(-0.8)"><rect x="-5.5" y="-4" width="11" height="8" rx="1.2" fill="#fff" stroke="#6a6a6a" stroke-width="0.8"/><ellipse rx="2.1" ry="1.6" fill="#4a90d9"/></g>
<g transform="translate(82.55 133.06) rotate(1.57)"><rect x="-5.5" y="-4" width="11" height="8" rx="1.2" fill="#fff" stroke="#6a6a6a" stroke-width="0.8"/><ellipse rx="2.1" ry="1.6" fill="#4a90d9"/></g>
<g transform="translate(37.27 141.48) rotate(-12)"><rect x="-4.2" y="-4" width="8.4" height="8" rx="1.2" fill="#fff" stroke="#6a6a6a" stroke-width="0.8"/><ellipse rx="2.1" ry="1.6" fill="#4a90d9"/></g>
<g transform="translate(46.99 141.69) rotate(2.44)"><rect x="-5.5" y="-4" width="11" height="8" rx="1.2" fill="#fff" stroke="#6a6a6a" stroke-width="0.8"/><ellipse rx="2.1" ry="1.6" fill="#4a90d9"/></g>
<g transform="translate(58.86 141.56) rotate(1.96)"><rect x="-5.5" y="-4" width="11" height="8" rx="1.2" fill="#fff" stroke="#6a6a6a" stroke-width="0.8"/><ellipse rx="2.1" ry="1.6" fill="#4a90d9"/></g>
<g transform="translate(70.59 141.48) rotate(-1.95)"><rect x="-5.5" y="-4" width="11" height="8" rx="1.2" fill="#fff" stroke="#6a6a6a" stroke-width="0.8"/><ellipse rx="2.1" ry="1.6" fill="#4a90d9"/></g>
<g transform="translate(81.55 141.45) rotate(-2.9)"><rect x="-5.5" y="-4" width="11" height="8" rx="1.2" fill="#fff" stroke="#6a6a6a" stroke-width="0.8"/><ellipse rx="2.1" ry="1.6" fill="#4a90d9"/></g>
<g transform="translate(37.57 149.87) rotate(4)"><rect x="-4.2" y="-4" width="8.4" height="8" rx="1.2" fill="#fff" stroke="#6a6a6a" stroke-width="0.8"/><ellipse rx="2.1" ry="1.6" fill="#4a90d9"/></g>
<g transform="translate(47.84 149.91) rotate(2.42)"><rect x="-5.5" y="-4" width="11" height="8" rx="1.2" fill="#fff" stroke="#6a6a6a" stroke-width="0.8"/><ellipse rx="2.1" ry="1.6" fill="#4a90d9"/></g>
<g transform="translate(59.76 149.87) rotate(-0.85)"><rect x="-5.5" y="-4" width="11" height="8" rx="1.2" fill="#fff" stroke="#6a6a6a" stroke-width="0.8"/><ellipse rx="2.1" ry="1.6" fill="#4a90d9"/></g>
<g transform="translate(71.52 150.39) rotate(1.58)"><rect x="-5.5" y="-4" width="11" height="8" rx="1.2" fill="#fff" stroke="#6a6a6a" stroke-width="0.8"/><ellipse rx="2.1" ry="1.6" fill="#4a90d9"/></g>
<g transform="translate(83.03 150.4) rotate(1.98)"><rect x="-5.5" y="-4" width="11" height="8" rx="1.2" fill="#fff" stroke="#6a6a6a" stroke-width="0.8"/><ellipse rx="2.1" ry="1.6" fill="#4a90d9"/></g>
<g transform="translate(92.6 106.6) rotate(-32)"><rect x="-4.1" y="-3.8" width="8.2" height="7.6" rx="1.1" fill="#fff" stroke="#6a6a6a" stroke-width="0.8"/><ellipse rx="2" ry="1.6" fill="#4a90d9"/></g>
<g transform="translate(88 115.2) rotate(-28)"><rect x="-4.1" y="-3.8" width="8.2" height="7.6" rx="1.1" fill="#fff" stroke="#6a6a6a" stroke-width="0.8"/><ellipse rx="2" ry="1.6" fill="#4a90d9"/></g>
<g transform="translate(89.8 160.6) rotate(28)"><rect x="-4.1" y="-3.8" width="8.2" height="7.6" rx="1.1" fill="#fff" stroke="#6a6a6a" stroke-width="0.8"/><ellipse rx="2" ry="1.6" fill="#4a90d9"/></g>
</g>
<ellipse cx="22.6" cy="575.4" rx="5.25" ry="7.1" fill="#fff" stroke="#0a9f45" stroke-width="2.8"/>
<ellipse cx="23.9" cy="620.1" rx="4.9" ry="5.95" fill="#fff" stroke="#f00" stroke-width="3"/>
<ellipse cx="19.3" cy="599.1" rx="11.6" ry="15.8" fill="#fff" stroke="#f00" stroke-width="3"/>
<text x="19.6" y="605.2" font-size="10.6" font-weight="normal" text-anchor="middle" fill="#000" >PV</text>
<ellipse cx="142.9" cy="596" rx="53.66" ry="49" fill="#fff"/>
<g transform="translate(155.09 602.4) rotate(135.66)"><rect x="-4.32" y="-4.06" width="8.63" height="8.11" rx="0.5" fill="#f8660f"/><ellipse rx="2.18" ry="1.72" fill="#4a8ad4"/></g>
<g transform="translate(145.37 607.1) rotate(175.4)"><rect x="-4.32" y="-4.06" width="8.63" height="8.11" rx="0.5" fill="#f8660f"/><ellipse rx="2.18" ry="1.72" fill="#4a8ad4"/></g>
<g transform="translate(134.14 604.86) rotate(-145.77)"><rect x="-4.32" y="-4.06" width="8.63" height="8.11" rx="0.5" fill="#f8660f"/><ellipse rx="2.18" ry="1.72" fill="#4a8ad4"/></g>
<g transform="translate(128.3 598.01) rotate(-106.6)"><rect x="-4.32" y="-4.06" width="8.63" height="8.11" rx="0.5" fill="#f8660f"/><ellipse rx="2.18" ry="1.72" fill="#4a8ad4"/></g>
<g transform="translate(130.91 589.41) rotate(-51.22)"><rect x="-4.32" y="-4.06" width="8.63" height="8.11" rx="0.5" fill="#f8660f"/><ellipse rx="2.18" ry="1.72" fill="#4a8ad4"/></g>
<g transform="translate(140.53 584.94) rotate(-5.41)"><rect x="-4.32" y="-4.06" width="8.63" height="8.11" rx="0.5" fill="#f8660f"/><ellipse rx="2.18" ry="1.72" fill="#4a8ad4"/></g>
<g transform="translate(151.12 586.8) rotate(23.35)"><rect x="-4.32" y="-4.06" width="8.63" height="8.11" rx="0.5" fill="#f8660f"/><ellipse rx="2.18" ry="1.72" fill="#4a8ad4"/></g>
<g transform="translate(157.3 594.1) rotate(74.33)"><rect x="-4.32" y="-4.06" width="8.63" height="8.11" rx="0.5" fill="#f8660f"/><ellipse rx="2.18" ry="1.72" fill="#4a8ad4"/></g>
<g transform="translate(158.94 609.28) rotate(134.63)"><rect x="-4.32" y="-4.06" width="8.63" height="8.11" rx="0.5" fill="#f8660f"/><ellipse rx="2.18" ry="1.72" fill="#4a8ad4"/></g>
<g transform="translate(150.32 613.83) rotate(159.42)"><rect x="-4.32" y="-4.06" width="8.63" height="8.11" rx="0.5" fill="#f7c3d0"/><ellipse rx="2.18" ry="1.72" fill="#4a8ad4"/></g>
<g transform="translate(139.59 614.98) rotate(-177.75)"><rect x="-4.32" y="-4.06" width="8.63" height="8.11" rx="0.5" fill="#f8660f"/><ellipse rx="2.18" ry="1.72" fill="#4a8ad4"/></g>
<g transform="translate(129.64 611.17) rotate(-150.71)"><rect x="-4.32" y="-4.06" width="8.63" height="8.11" rx="0.5" fill="#f8660f"/><ellipse rx="2.18" ry="1.72" fill="#4a8ad4"/></g>
<g transform="translate(122.73 604.51) rotate(-122.95)"><rect x="-4.32" y="-4.06" width="8.63" height="8.11" rx="0.5" fill="#f8660f"/><ellipse rx="2.18" ry="1.72" fill="#4a8ad4"/></g>
<g transform="translate(120.85 595.45) rotate(-88.04)"><rect x="-4.32" y="-4.06" width="8.63" height="8.11" rx="0.5" fill="#f8660f"/><ellipse rx="2.18" ry="1.72" fill="#4a8ad4"/></g>
<g transform="translate(123.91 586.4) rotate(-60.05)"><rect x="-4.32" y="-4.06" width="8.63" height="8.11" rx="0.5" fill="#f8660f"/><ellipse rx="2.18" ry="1.72" fill="#4a8ad4"/></g>
<g transform="translate(131.09 579.95) rotate(-30.15)"><rect x="-4.32" y="-4.06" width="8.63" height="8.11" rx="0.5" fill="#f8660f"/><ellipse rx="2.18" ry="1.72" fill="#4a8ad4"/></g>
<g transform="translate(140.75 577.15) rotate(-7.53)"><rect x="-4.32" y="-4.06" width="8.63" height="8.11" rx="0.5" fill="#f8660f"/><ellipse rx="2.18" ry="1.72" fill="#4a8ad4"/></g>
<g transform="translate(151.3 578.35) rotate(16.06)"><rect x="-4.32" y="-4.06" width="8.63" height="8.11" rx="0.5" fill="#f8660f"/><ellipse rx="2.18" ry="1.72" fill="#4a8ad4"/></g>
<g transform="translate(160.04 583.88) rotate(42.8)"><rect x="-4.32" y="-4.06" width="8.63" height="8.11" rx="0.5" fill="#f8660f"/><ellipse rx="2.18" ry="1.72" fill="#4a8ad4"/></g>
<g transform="translate(164.61 591.86) rotate(72.37)"><rect x="-4.32" y="-4.06" width="8.63" height="8.11" rx="0.5" fill="#f8660f"/><ellipse rx="2.18" ry="1.72" fill="#4a8ad4"/></g>
<g transform="translate(164.11 601.12) rotate(103.39)"><rect x="-4.32" y="-4.06" width="8.63" height="8.11" rx="0.5" fill="#f8660f"/><ellipse rx="2.18" ry="1.72" fill="#4a8ad4"/></g>
<g transform="translate(172.24 602.64) rotate(106.26)"><rect x="-4.32" y="-4.06" width="8.63" height="8.11" rx="0.5" fill="#f8660f"/><ellipse rx="2.18" ry="1.72" fill="#4a8ad4"/></g>
<g transform="translate(168.09 610.7) rotate(123.36)"><rect x="-4.32" y="-4.06" width="8.63" height="8.11" rx="0.5" fill="#f8660f"/><ellipse rx="2.18" ry="1.72" fill="#4a8ad4"/></g>
<g transform="translate(161.79 617.33) rotate(147.34)"><rect x="-4.32" y="-4.06" width="8.63" height="8.11" rx="0.5" fill="#f8660f"/><ellipse rx="2.18" ry="1.72" fill="#4a8ad4"/></g>
<g transform="translate(152.57 621.47) rotate(167.88)"><rect x="-4.32" y="-4.06" width="8.63" height="8.11" rx="0.5" fill="#f8660f"/><ellipse rx="2.18" ry="1.72" fill="#4a8ad4"/></g>
<g transform="translate(142.71 622.78) rotate(179.05)"><rect x="-4.32" y="-4.06" width="8.63" height="8.11" rx="0.5" fill="#f8660f"/><ellipse rx="2.18" ry="1.72" fill="#4a8ad4"/></g>
<g transform="translate(133.31 621.29) rotate(-162.83)"><rect x="-4.32" y="-4.06" width="8.63" height="8.11" rx="0.5" fill="#f8660f"/><ellipse rx="2.18" ry="1.72" fill="#4a8ad4"/></g>
<g transform="translate(124.5 617.24) rotate(-143.64)"><rect x="-4.32" y="-4.06" width="8.63" height="8.11" rx="0.5" fill="#f8660f"/><ellipse rx="2.18" ry="1.72" fill="#4a8ad4"/></g>
<g transform="translate(117.83 610.42) rotate(-129.41)"><rect x="-4.32" y="-4.06" width="8.63" height="8.11" rx="0.5" fill="#f8660f"/><ellipse rx="2.18" ry="1.72" fill="#4a8ad4"/></g>
<g transform="translate(113.35 602.69) rotate(-108.26)"><rect x="-4.32" y="-4.06" width="8.63" height="8.11" rx="0.5" fill="#f8660f"/><ellipse rx="2.18" ry="1.72" fill="#4a8ad4"/></g>
<g transform="translate(112.53 593.78) rotate(-83.89)"><rect x="-4.32" y="-4.06" width="8.63" height="8.11" rx="0.5" fill="#f8660f"/><ellipse rx="2.18" ry="1.72" fill="#4a8ad4"/></g>
<g transform="translate(115.4 585.6) rotate(-63.55)"><rect x="-4.32" y="-4.06" width="8.63" height="8.11" rx="0.5" fill="#f8660f"/><ellipse rx="2.18" ry="1.72" fill="#4a8ad4"/></g>
<g transform="translate(120.81 578.02) rotate(-42.04)"><rect x="-4.32" y="-4.06" width="8.63" height="8.11" rx="0.5" fill="#f8660f"/><ellipse rx="2.18" ry="1.72" fill="#4a8ad4"/></g>
<g transform="translate(128.47 572.42) rotate(-30.48)"><rect x="-4.32" y="-4.06" width="8.63" height="8.11" rx="0.5" fill="#f8660f"/><ellipse rx="2.18" ry="1.72" fill="#4a8ad4"/></g>
<g transform="translate(137.95 569.32) rotate(-5.19)"><rect x="-4.32" y="-4.06" width="8.63" height="8.11" rx="0.5" fill="#f8660f"/><ellipse rx="2.18" ry="1.72" fill="#4a8ad4"/></g>
<g transform="translate(147.75 569.85) rotate(4.88)"><rect x="-4.32" y="-4.06" width="8.63" height="8.11" rx="0.5" fill="#f8660f"/><ellipse rx="2.18" ry="1.72" fill="#4a8ad4"/></g>
<g transform="translate(157.39 572.38) rotate(22.96)"><rect x="-4.32" y="-4.06" width="8.63" height="8.11" rx="0.5" fill="#f8660f"/><ellipse rx="2.18" ry="1.72" fill="#4a8ad4"/></g>
<g transform="translate(165.1 577.71) rotate(43.47)"><rect x="-4.32" y="-4.06" width="8.63" height="8.11" rx="0.5" fill="#f8660f"/><ellipse rx="2.18" ry="1.72" fill="#4a8ad4"/></g>
<g transform="translate(170.38 585.14) rotate(57.99)"><rect x="-4.32" y="-4.06" width="8.63" height="8.11" rx="0.5" fill="#f8660f"/><ellipse rx="2.18" ry="1.72" fill="#4a8ad4"/></g>
<g transform="translate(173.14 593.6) rotate(81.02)"><rect x="-4.32" y="-4.06" width="8.63" height="8.11" rx="0.5" fill="#f8660f"/><ellipse rx="2.18" ry="1.72" fill="#4a8ad4"/></g>
<g transform="translate(178.29 611.42) rotate(118.08)"><rect x="-4.32" y="-4.06" width="8.63" height="8.11" rx="0.5" fill="#f8660f"/><ellipse rx="2.18" ry="1.72" fill="#4a8ad4"/></g>
<g transform="translate(172.78 618.66) rotate(133.36)"><rect x="-4.32" y="-4.06" width="8.63" height="8.11" rx="0.5" fill="#f8660f"/><ellipse rx="2.18" ry="1.72" fill="#4a8ad4"/></g>
<g transform="translate(165.41 624.61) rotate(147.64)"><rect x="-4.32" y="-4.06" width="8.63" height="8.11" rx="0.5" fill="#f8660f"/><ellipse rx="2.18" ry="1.72" fill="#4a8ad4"/></g>
<g transform="translate(156.91 628.5) rotate(159.33)"><rect x="-4.32" y="-4.06" width="8.63" height="8.11" rx="0.5" fill="#f8660f"/><ellipse rx="2.18" ry="1.72" fill="#4a8ad4"/></g>
<g transform="translate(147.51 630.61) rotate(173.08)"><rect x="-4.32" y="-4.06" width="8.63" height="8.11" rx="0.5" fill="#f8660f"/><ellipse rx="2.18" ry="1.72" fill="#4a8ad4"/></g>
<g transform="translate(137.69 630.74) rotate(-167.03)"><rect x="-4.32" y="-4.06" width="8.63" height="8.11" rx="0.5" fill="#f7c3d0"/><ellipse rx="2.18" ry="1.72" fill="#4a8ad4"/></g>
<g transform="translate(128.02 628.19) rotate(-161.49)"><rect x="-4.32" y="-4.06" width="8.63" height="8.11" rx="0.5" fill="#f8660f"/><ellipse rx="2.18" ry="1.72" fill="#4a8ad4"/></g>
<g transform="translate(119.52 624.11) rotate(-144.47)"><rect x="-4.32" y="-4.06" width="8.63" height="8.11" rx="0.5" fill="#f7c3d0"/><ellipse rx="2.18" ry="1.72" fill="#4a8ad4"/></g>
<g transform="translate(112.38 618.08) rotate(-133.46)"><rect x="-4.32" y="-4.06" width="8.63" height="8.11" rx="0.5" fill="#f8660f"/><ellipse rx="2.18" ry="1.72" fill="#4a8ad4"/></g>
<g transform="translate(107.17 610.5) rotate(-119.38)"><rect x="-4.32" y="-4.06" width="8.63" height="8.11" rx="0.5" fill="#f8660f"/><ellipse rx="2.18" ry="1.72" fill="#4a8ad4"/></g>
<g transform="translate(104.05 601.86) rotate(-99.08)"><rect x="-4.32" y="-4.06" width="8.63" height="8.11" rx="0.5" fill="#f7c3d0"/><ellipse rx="2.18" ry="1.72" fill="#4a8ad4"/></g>
<g transform="translate(103.75 593.21) rotate(-81.37)"><rect x="-4.32" y="-4.06" width="8.63" height="8.11" rx="0.5" fill="#f8660f"/><ellipse rx="2.18" ry="1.72" fill="#4a8ad4"/></g>
<g transform="translate(105.55 584.56) rotate(-72.08)"><rect x="-4.32" y="-4.06" width="8.63" height="8.11" rx="0.5" fill="#f8660f"/><ellipse rx="2.18" ry="1.72" fill="#4a8ad4"/></g>
<g transform="translate(110.11 577.18) rotate(-54.92)"><rect x="-4.32" y="-4.06" width="8.63" height="8.11" rx="0.5" fill="#f8660f"/><ellipse rx="2.18" ry="1.72" fill="#4a8ad4"/></g>
<g transform="translate(116.48 570.5) rotate(-40.46)"><rect x="-4.32" y="-4.06" width="8.63" height="8.11" rx="0.5" fill="#f8660f"/><ellipse rx="2.18" ry="1.72" fill="#4a8ad4"/></g>
<g transform="translate(124.27 565.13) rotate(-30.96)"><rect x="-4.32" y="-4.06" width="8.63" height="8.11" rx="0.5" fill="#f8660f"/><ellipse rx="2.18" ry="1.72" fill="#4a8ad4"/></g>
<g transform="translate(133.75 561.91) rotate(-12.42)"><rect x="-4.32" y="-4.06" width="8.63" height="8.11" rx="0.5" fill="#f8660f"/><ellipse rx="2.18" ry="1.72" fill="#4a8ad4"/></g>
<g transform="translate(143.32 561.37) rotate(-4.42)"><rect x="-4.32" y="-4.06" width="8.63" height="8.11" rx="0.5" fill="#f8660f"/><ellipse rx="2.18" ry="1.72" fill="#4a8ad4"/></g>
<g transform="translate(153.43 562.6) rotate(13.52)"><rect x="-4.32" y="-4.06" width="8.63" height="8.11" rx="0.5" fill="#f8660f"/><ellipse rx="2.18" ry="1.72" fill="#4a8ad4"/></g>
<g transform="translate(162.12 565.59) rotate(25.12)"><rect x="-4.32" y="-4.06" width="8.63" height="8.11" rx="0.5" fill="#f8660f"/><ellipse rx="2.18" ry="1.72" fill="#4a8ad4"/></g>
<g transform="translate(170 571.12) rotate(35.14)"><rect x="-4.32" y="-4.06" width="8.63" height="8.11" rx="0.5" fill="#f8660f"/><ellipse rx="2.18" ry="1.72" fill="#4a8ad4"/></g>
<g transform="translate(176.16 577.99) rotate(60.13)"><rect x="-4.32" y="-4.06" width="8.63" height="8.11" rx="0.5" fill="#f8660f"/><ellipse rx="2.18" ry="1.72" fill="#4a8ad4"/></g>
<g transform="translate(180.31 585.87) rotate(66.46)"><rect x="-4.32" y="-4.06" width="8.63" height="8.11" rx="0.5" fill="#f8660f"/><ellipse rx="2.18" ry="1.72" fill="#4a8ad4"/></g>
<g transform="translate(181.79 594) rotate(91.91)"><rect x="-4.32" y="-4.06" width="8.63" height="8.11" rx="0.5" fill="#f8660f"/><ellipse rx="2.18" ry="1.72" fill="#4a8ad4"/></g>
<g transform="translate(181.09 603.23) rotate(106.63)"><rect x="-4.32" y="-4.06" width="8.63" height="8.11" rx="0.5" fill="#f8660f"/><ellipse rx="2.18" ry="1.72" fill="#4a8ad4"/></g>
<g transform="translate(189.22 608.64) rotate(109.99)"><rect x="-4.32" y="-4.06" width="8.63" height="8.11" rx="0.5" fill="#f8660f"/><ellipse rx="2.18" ry="1.72" fill="#4a8ad4"/></g>
<g transform="translate(185.72 616.93) rotate(117)"><rect x="-4.32" y="-4.06" width="8.63" height="8.11" rx="0.5" fill="#f8660f"/><ellipse rx="2.18" ry="1.72" fill="#4a8ad4"/></g>
<g transform="translate(180.23 624.43) rotate(134.09)"><rect x="-4.32" y="-4.06" width="8.63" height="8.11" rx="0.5" fill="#f7c3d0"/><ellipse rx="2.18" ry="1.72" fill="#4a8ad4"/></g>
<g transform="translate(172.77 630.9) rotate(138.94)"><rect x="-4.32" y="-4.06" width="8.63" height="8.11" rx="0.5" fill="#f8660f"/><ellipse rx="2.18" ry="1.72" fill="#4a8ad4"/></g>
<g transform="translate(164.47 635.53) rotate(151.49)"><rect x="-4.32" y="-4.06" width="8.63" height="8.11" rx="0.5" fill="#f7c3d0"/><ellipse rx="2.18" ry="1.72" fill="#4a8ad4"/></g>
<g transform="translate(155.56 638.81) rotate(166.55)"><rect x="-4.32" y="-4.06" width="8.63" height="8.11" rx="0.5" fill="#f8660f"/><ellipse rx="2.18" ry="1.72" fill="#4a8ad4"/></g>
<g transform="translate(145.84 640.18) rotate(177.72)"><rect x="-4.32" y="-4.06" width="8.63" height="8.11" rx="0.5" fill="#f8660f"/><ellipse rx="2.18" ry="1.72" fill="#4a8ad4"/></g>
<g transform="translate(136 639.52) rotate(-173.62)"><rect x="-4.32" y="-4.06" width="8.63" height="8.11" rx="0.5" fill="#f8660f"/><ellipse rx="2.18" ry="1.72" fill="#4a8ad4"/></g>
<g transform="translate(126.08 637.4) rotate(-166.61)"><rect x="-4.32" y="-4.06" width="8.63" height="8.11" rx="0.5" fill="#f8660f"/><ellipse rx="2.18" ry="1.72" fill="#4a8ad4"/></g>
<g transform="translate(117.5 633.74) rotate(-152.37)"><rect x="-4.32" y="-4.06" width="8.63" height="8.11" rx="0.5" fill="#f8660f"/><ellipse rx="2.18" ry="1.72" fill="#4a8ad4"/></g>
<g transform="translate(109.66 628.21) rotate(-142.93)"><rect x="-4.32" y="-4.06" width="8.63" height="8.11" rx="0.5" fill="#f7c3d0"/><ellipse rx="2.18" ry="1.72" fill="#4a8ad4"/></g>
<g transform="translate(103.16 621.19) rotate(-127.99)"><rect x="-4.32" y="-4.06" width="8.63" height="8.11" rx="0.5" fill="#f7c3d0"/><ellipse rx="2.18" ry="1.72" fill="#4a8ad4"/></g>
<g transform="translate(98.39 613.69) rotate(-119.88)"><rect x="-4.32" y="-4.06" width="8.63" height="8.11" rx="0.5" fill="#f8660f"/><ellipse rx="2.18" ry="1.72" fill="#4a8ad4"/></g>
<g transform="translate(95.28 605.45) rotate(-105.59)"><rect x="-4.32" y="-4.06" width="8.63" height="8.11" rx="0.5" fill="#f8660f"/><ellipse rx="2.18" ry="1.72" fill="#4a8ad4"/></g>
<g transform="translate(94.16 596.46) rotate(-92.36)"><rect x="-4.32" y="-4.06" width="8.63" height="8.11" rx="0.5" fill="#f8660f"/><ellipse rx="2.18" ry="1.72" fill="#4a8ad4"/></g>
<g transform="translate(95.13 587.28) rotate(-72.13)"><rect x="-4.32" y="-4.06" width="8.63" height="8.11" rx="0.5" fill="#f7c3d0"/><ellipse rx="2.18" ry="1.72" fill="#4a8ad4"/></g>
<g transform="translate(98.27 579) rotate(-65.88)"><rect x="-4.32" y="-4.06" width="8.63" height="8.11" rx="0.5" fill="#f8660f"/><ellipse rx="2.18" ry="1.72" fill="#4a8ad4"/></g>
<g transform="translate(102.59 570.89) rotate(-55.24)"><rect x="-4.32" y="-4.06" width="8.63" height="8.11" rx="0.5" fill="#f8660f"/><ellipse rx="2.18" ry="1.72" fill="#4a8ad4"/></g>
<g transform="translate(108.9 564.31) rotate(-41.5)"><rect x="-4.32" y="-4.06" width="8.63" height="8.11" rx="0.5" fill="#f7c3d0"/><ellipse rx="2.18" ry="1.72" fill="#4a8ad4"/></g>
<g transform="translate(116.56 558.95) rotate(-29.64)"><rect x="-4.32" y="-4.06" width="8.63" height="8.11" rx="0.5" fill="#f8660f"/><ellipse rx="2.18" ry="1.72" fill="#4a8ad4"/></g>
<g transform="translate(125.62 555.06) rotate(-18.65)"><rect x="-4.32" y="-4.06" width="8.63" height="8.11" rx="0.5" fill="#f8660f"/><ellipse rx="2.18" ry="1.72" fill="#4a8ad4"/></g>
<g transform="translate(135 552.47) rotate(-6.88)"><rect x="-4.32" y="-4.06" width="8.63" height="8.11" rx="0.5" fill="#f8660f"/><ellipse rx="2.18" ry="1.72" fill="#4a8ad4"/></g>
<g transform="translate(145.16 552.2) rotate(1.97)"><rect x="-4.32" y="-4.06" width="8.63" height="8.11" rx="0.5" fill="#f8660f"/><ellipse rx="2.18" ry="1.72" fill="#4a8ad4"/></g>
<g transform="translate(154.92 553.46) rotate(8.59)"><rect x="-4.32" y="-4.06" width="8.63" height="8.11" rx="0.5" fill="#f8660f"/><ellipse rx="2.18" ry="1.72" fill="#4a8ad4"/></g>
<g transform="translate(164.28 556.49) rotate(25.53)"><rect x="-4.32" y="-4.06" width="8.63" height="8.11" rx="0.5" fill="#f7c3d0"/><ellipse rx="2.18" ry="1.72" fill="#4a8ad4"/></g>
<g transform="translate(172.31 560.7) rotate(37)"><rect x="-4.32" y="-4.06" width="8.63" height="8.11" rx="0.5" fill="#f8660f"/><ellipse rx="2.18" ry="1.72" fill="#4a8ad4"/></g>
<g transform="translate(179.84 566.82) rotate(46.34)"><rect x="-4.32" y="-4.06" width="8.63" height="8.11" rx="0.5" fill="#f8660f"/><ellipse rx="2.18" ry="1.72" fill="#4a8ad4"/></g>
<g transform="translate(185.49 574.11) rotate(56.83)"><rect x="-4.32" y="-4.06" width="8.63" height="8.11" rx="0.5" fill="#f8660f"/><ellipse rx="2.18" ry="1.72" fill="#4a8ad4"/></g>
<g transform="translate(189.13 582.53) rotate(65.88)"><rect x="-4.32" y="-4.06" width="8.63" height="8.11" rx="0.5" fill="#f8660f"/><ellipse rx="2.18" ry="1.72" fill="#4a8ad4"/></g>
<g transform="translate(191.54 591.17) rotate(78.37)"><rect x="-4.32" y="-4.06" width="8.63" height="8.11" rx="0.5" fill="#f7c3d0"/><ellipse rx="2.18" ry="1.72" fill="#4a8ad4"/></g>
<g transform="translate(191.44 600.37) rotate(96)"><rect x="-4.32" y="-4.06" width="8.63" height="8.11" rx="0.5" fill="#f8660f"/><ellipse rx="2.18" ry="1.72" fill="#4a8ad4"/></g>
<ellipse cx="142.9" cy="596" rx="18.51" ry="15.26" fill="none" stroke="#000" stroke-width="1.61" stroke-dasharray="7.49 3.43" stroke-dashoffset="0"/>
<ellipse cx="142.9" cy="596" rx="25.79" ry="22.7" fill="none" stroke="#000" stroke-width="1.61" stroke-dasharray="7.49 3.43" stroke-dashoffset="3"/>
<ellipse cx="142.9" cy="596" rx="34.63" ry="30.73" fill="none" stroke="#000" stroke-width="1.61" stroke-dasharray="7.49 3.43" stroke-dashoffset="6"/>
<ellipse cx="142.9" cy="596" rx="43.68" ry="39.08" fill="none" stroke="#000" stroke-width="1.61" stroke-dasharray="7.49 3.43" stroke-dashoffset="9"/>
<ellipse cx="142.9" cy="596" rx="53.66" ry="49" fill="none" stroke="#000" stroke-width="1.61" stroke-dasharray="7.49 3.43" stroke-dashoffset="12"/>
<ellipse cx="141.96" cy="596.31" rx="9.36" ry="5.1" fill="#fff" stroke="#f00" stroke-width="2.39"/>
<text x="141.44" y="600.06" font-size="10.19" font-weight="normal" text-anchor="middle" fill="#000" >CV</text>
<text x="53.5" y="548.7" font-size="13.5" font-weight="normal" text-anchor="start" fill="#000" textLength="40.2" lengthAdjust="spacingAndGlyphs" >Repair</text>
<circle cx="295.9" cy="593.4" r="77.6" fill="#fff"/>
<path d="M295.9 515.8 A77.6 77.6 0 0 1 295.9 671 A38.8 38.8 0 0 1 295.9 593.4 A38.8 38.8 0 0 0 295.9 515.8 Z" fill="#e4e4e4" stroke="#7f7f7f" stroke-width="1.1"/>
<path d="M295.9 515.8 A77.6 77.6 0 0 0 295.9 671" fill="none" stroke="#3a6fb4" stroke-width="1.3"/>
<g stroke-width="1.05" opacity="0.85" stroke-linecap="round"><line x1="264.14" y1="627.6" x2="297.59" y2="598.38" stroke="#e88fc0"/><line x1="271.35" y1="630.05" x2="302.7" y2="602.21" stroke="#ee9bbb"/><line x1="274.68" y1="631.42" x2="303.95" y2="605.21" stroke="#e88fc0"/><line x1="276.22" y1="636.42" x2="311.98" y2="604.01" stroke="#e88fc0"/><line x1="282.18" y1="641.56" x2="316.43" y2="609.86" stroke="#e88fc0"/><line x1="288.34" y1="641.33" x2="323.44" y2="608.49" stroke="#e88fc0"/><line x1="295.77" y1="641.35" x2="322.87" y2="615.62" stroke="#ee9bbb"/><line x1="298.03" y1="644.47" x2="329.61" y2="614.16" stroke="#e88fc0"/><line x1="300.93" y1="648.86" x2="328.69" y2="621.81" stroke="#e88fc0"/><line x1="311.69" y1="647.56" x2="333.4" y2="625.97" stroke="#e88fc0"/><line x1="312.9" y1="653.54" x2="343.55" y2="622.56" stroke="#b684d9"/><line x1="318.99" y1="655.27" x2="344.5" y2="629.01" stroke="#e88fc0"/><line x1="326.11" y1="656.01" x2="351.4" y2="629.48" stroke="#ee9bbb"/><line x1="262.59" y1="627.78" x2="329.25" y2="657.08" stroke="#9db0e6"/><line x1="264" y1="624.6" x2="337.49" y2="657.56" stroke="#b3a2e0"/><line x1="269.51" y1="619.72" x2="345.43" y2="655.11" stroke="#9db0e6"/><line x1="269.99" y1="615.41" x2="346.11" y2="651.75" stroke="#93a6de"/><line x1="277.03" y1="615.02" x2="340.91" y2="646.12" stroke="#e59ac6"/><line x1="284.94" y1="614.68" x2="338.97" y2="641.58" stroke="#9db0e6"/><line x1="277.42" y1="605.77" x2="348.69" y2="642.19" stroke="#e59ac6"/><line x1="287.46" y1="605.04" x2="352.14" y2="639.11" stroke="#9db0e6"/><line x1="293.2" y1="600.8" x2="354.86" y2="634.52" stroke="#e59ac6"/></g>
<rect x="278.9" y="519.4" width="15.35" height="12.5" rx="1.6" fill="#f8660f"/>
<rect x="278.9" y="531.85" width="15.35" height="12.5" rx="1.6" fill="#f8660f"/>
<rect x="294.2" y="519.4" width="15.35" height="12.5" rx="1.6" fill="#f8660f"/>
<rect x="294.2" y="531.85" width="15.35" height="12.5" rx="1.6" fill="#f8660f"/>
<rect x="292.7" y="520.4" width="3" height="22.9" fill="#f8660f"/>
<rect x="279.9" y="530.35" width="28.6" height="3" fill="#f8660f"/>
<circle cx="294.2" cy="531.85" r="0.9" fill="#fff"/>
<circle cx="286.55" cy="525.62" r="2.3" fill="#2e75b6"/>
<circle cx="286.55" cy="538.08" r="2.3" fill="#2e75b6"/>
<circle cx="301.85" cy="525.62" r="2.3" fill="#2e75b6"/>
<circle cx="301.85" cy="538.08" r="2.3" fill="#2e75b6"/>
<g transform="translate(274.7 543.9) rotate(0) scale(0.65 0.65)">
<path d="M2.6 -10.4 C-3.4 -10.6 -7 -6 -6.4 -0.8 C-6 3.6 -2.6 6.6 1.8 7.2" fill="none" stroke="#f00" stroke-width="2.7" stroke-linecap="round"/>
<polygon points="10.16,4.83 1.46,14.12 -2.02,2.81" fill="#f00"/>
</g>
<rect x="279.5" y="655.3" width="15.85" height="12.75" rx="1.6" fill="#f8660f"/>
<rect x="295.3" y="655.3" width="15.85" height="12.75" rx="1.6" fill="#f8660f"/>
<rect x="293.8" y="656.3" width="3" height="10.7" fill="#f8660f"/>
<circle cx="287.4" cy="661.65" r="2.3" fill="#2e75b6"/>
<circle cx="303.2" cy="661.65" r="2.3" fill="#2e75b6"/>
<g transform="translate(311.6 654.6)"><path d="M0.8 7.4 C5.4 4.6 5.4 -0.6 0.4 -2.4" fill="none" stroke="#f00" stroke-width="1.3"/><polygon points="-6,-3 1.2,-7.2 1.6,1.4" fill="#f00"/></g>
<g transform="translate(282.9 596.6) rotate(0) scale(0.55)">
<path d="M0 -13.6C1.24 -13.87 0.63 -7.43 3.6 -6.8C6.57 -6.17 11.76 -12.24 13.2 -10.8C14.64 -9.36 9.55 -3.8 10 -0.4C10.45 3 15.2 2.52 15.2 4.3C15.2 6.08 12.61 4.98 10 7.5C7.39 10.02 5.76 14.96 3.6 15.5C1.44 16.04 3.71 11.34 0.4 9.9C-2.91 8.46 -9.68 10.9 -11.1 9.1C-12.52 7.3 -6.44 4.94 -5.9 1.9C-5.36 -1.14 -9.6 -2.71 -8.7 -4.4C-7.8 -6.09 -3.86 -3.53 -1.9 -5.6C0.06 -7.67 -1.24 -13.33 0 -13.6Z" fill="#b4c7e7" stroke="#000" stroke-width="2.6" stroke-linejoin="round"/>
<circle cx="0" cy="0" r="3.1" fill="#1f7ad1"/>
<ellipse cx="12.6" cy="11.4" rx="7" ry="2.3" transform="rotate(48 12.6 11.4)" fill="#2e75b6"/>
<ellipse cx="6.6" cy="13.4" rx="9.6" ry="3.3" transform="rotate(62 6.6 13.4)" fill="#7030a0"/>
<circle cx="9" cy="9.6" r="1.5" fill="#f6d0b8"/>
</g>
<g transform="translate(269.2 607.5) rotate(0) scale(0.55)">
<path d="M0 -13.6C1.24 -13.87 0.63 -7.43 3.6 -6.8C6.57 -6.17 11.76 -12.24 13.2 -10.8C14.64 -9.36 9.55 -3.8 10 -0.4C10.45 3 15.2 2.52 15.2 4.3C15.2 6.08 12.61 4.98 10 7.5C7.39 10.02 5.76 14.96 3.6 15.5C1.44 16.04 3.71 11.34 0.4 9.9C-2.91 8.46 -9.68 10.9 -11.1 9.1C-12.52 7.3 -6.44 4.94 -5.9 1.9C-5.36 -1.14 -9.6 -2.71 -8.7 -4.4C-7.8 -6.09 -3.86 -3.53 -1.9 -5.6C0.06 -7.67 -1.24 -13.33 0 -13.6Z" fill="#b4c7e7" stroke="#000" stroke-width="2.6" stroke-linejoin="round"/>
<circle cx="0" cy="0" r="3.1" fill="#1f7ad1"/>
<ellipse cx="12.6" cy="11.4" rx="7" ry="2.3" transform="rotate(48 12.6 11.4)" fill="#2e75b6"/>
<ellipse cx="6.6" cy="13.4" rx="9.6" ry="3.3" transform="rotate(62 6.6 13.4)" fill="#7030a0"/>
<circle cx="9" cy="9.6" r="1.5" fill="#f6d0b8"/>
</g>
<g transform="translate(255.7 619.3) rotate(0) scale(0.55)">
<path d="M0 -13.6C1.24 -13.87 0.63 -7.43 3.6 -6.8C6.57 -6.17 11.76 -12.24 13.2 -10.8C14.64 -9.36 9.55 -3.8 10 -0.4C10.45 3 15.2 2.52 15.2 4.3C15.2 6.08 12.61 4.98 10 7.5C7.39 10.02 5.76 14.96 3.6 15.5C1.44 16.04 3.71 11.34 0.4 9.9C-2.91 8.46 -9.68 10.9 -11.1 9.1C-12.52 7.3 -6.44 4.94 -5.9 1.9C-5.36 -1.14 -9.6 -2.71 -8.7 -4.4C-7.8 -6.09 -3.86 -3.53 -1.9 -5.6C0.06 -7.67 -1.24 -13.33 0 -13.6Z" fill="#b4c7e7" stroke="#000" stroke-width="2.6" stroke-linejoin="round"/>
<circle cx="0" cy="0" r="3.1" fill="#1f7ad1"/>
<ellipse cx="12.6" cy="11.4" rx="7" ry="2.3" transform="rotate(48 12.6 11.4)" fill="#2e75b6"/>
<ellipse cx="6.6" cy="13.4" rx="9.6" ry="3.3" transform="rotate(62 6.6 13.4)" fill="#7030a0"/>
<circle cx="9" cy="9.6" r="1.5" fill="#f6d0b8"/>
</g>
<circle cx="284.63" cy="625.41" r="1.57" fill="#8c1c1c"/>
<circle cx="288.24" cy="624.84" r="1.57" fill="#8c1c1c"/>
<circle cx="290.52" cy="627.31" r="1.57" fill="#8c1c1c"/>
<circle cx="283.87" cy="628.83" r="1.57" fill="#8c1c1c"/>
<circle cx="287.29" cy="628.07" r="1.57" fill="#8c1c1c"/>
<circle cx="289.38" cy="630.16" r="1.57" fill="#8c1c1c"/>
<circle cx="285.96" cy="630.73" r="1.57" fill="#8c1c1c"/>
<line x1="268.2" y1="619.6" x2="275.85" y2="623.43" stroke="#000" stroke-width="1"/>
<polygon points="281.4,626.2 274.51,626.11 277.2,620.74" fill="#000"/>
<line x1="293" y1="625.4" x2="300.55" y2="623.76" stroke="#000" stroke-width="1"/>
<polygon points="306.8,622.4 301.2,626.79 299.89,620.73" fill="#000"/>
<g transform="translate(321.4 624.2) rotate(4) scale(0.92)">
<path transform="translate(-2 -4.2) scale(1)" d="M-13 1.2 C-8.5 -1.8 -4.5 0.6 0 1.4 C5 2.2 9.6 -0.2 14.6 -4.4 C11 1.4 6 4.6 0.2 4 C-4.6 3.4 -8.6 0.8 -13 1.2Z" fill="#1e9b48"/>
<path transform="translate(0 0.2) scale(1)" d="M-13 1.2 C-8.5 -1.8 -4.5 0.6 0 1.4 C5 2.2 9.6 -0.2 14.6 -4.4 C11 1.4 6 4.6 0.2 4 C-4.6 3.4 -8.6 0.8 -13 1.2Z" fill="#2aa853"/>
<path transform="translate(-1.5 4.6) scale(0.92)" d="M-13 1.2 C-8.5 -1.8 -4.5 0.6 0 1.4 C5 2.2 9.6 -0.2 14.6 -4.4 C11 1.4 6 4.6 0.2 4 C-4.6 3.4 -8.6 0.8 -13 1.2Z" fill="#1e9b48"/>
<ellipse cx="5.2" cy="-2.6" rx="1.7" ry="1" fill="#8d8d8d"/><ellipse cx="7.2" cy="1.8" rx="1.6" ry="0.95" fill="#8d8d8d"/><ellipse cx="4.6" cy="6.3" rx="1.5" ry="0.9" fill="#8d8d8d"/>
</g>
<text x="291.4" y="638.9" font-size="8.6" font-weight="normal" text-anchor="start" fill="#000" textLength="27.7" lengthAdjust="spacingAndGlyphs" >TGF-β1</text>
<path d="M287.6 634.8L287.6 652.8M283.2 652.8L292 652.8" stroke="#000" stroke-width="1.9" fill="none"/>
<text x="325.7" y="592.7" font-size="8.6" font-weight="normal" text-anchor="start" fill="#222" textLength="43.5" lengthAdjust="spacingAndGlyphs" >Inhibition of</text>
<text x="325.7" y="603" font-size="8.6" font-weight="normal" text-anchor="start" fill="#222" textLength="44" lengthAdjust="spacingAndGlyphs" >proliferation</text>
<line x1="244.9" y1="560" x2="256.2" y2="555.82" stroke="#000" stroke-width="1"/>
<polygon points="262.2,553.6 257.2,558.54 255.19,553.1" fill="#000"/>
<line x1="297.9" y1="559.3" x2="286.45" y2="555.98" stroke="#000" stroke-width="1"/>
<polygon points="280.3,554.2 287.25,553.2 285.64,558.77" fill="#000"/>
<text x="230.7" y="572.7" font-size="8.6" font-weight="normal" text-anchor="start" fill="#222" textLength="101.3" lengthAdjust="spacingAndGlyphs" xml:space="preserve">LDHA   mTOR/4E-BP1 axis</text>
<text x="226.4" y="582.8" font-size="8.6" font-weight="normal" text-anchor="start" fill="#222" textLength="94.8" lengthAdjust="spacingAndGlyphs" >Promotion of proliferation</text>
<circle cx="473.7" cy="594" r="77.9" fill="#fff"/>
<path d="M473.7 516.1 A77.9 77.9 0 0 1 473.7 671.9 A38.95 38.95 0 0 1 473.7 594 A38.95 38.95 0 0 0 473.7 516.1 Z" fill="#e4e4e4" stroke="#7f7f7f" stroke-width="1.1"/>
<path d="M473.7 516.1 A77.9 77.9 0 0 0 473.7 671.9" fill="none" stroke="#3a6fb4" stroke-width="1.3"/>
<g stroke-width="1.05" opacity="0.85" stroke-linecap="round"><line x1="441.94" y1="628.2" x2="475.39" y2="598.98" stroke="#e88fc0"/><line x1="449.15" y1="630.65" x2="480.5" y2="602.81" stroke="#ee9bbb"/><line x1="452.48" y1="632.02" x2="481.75" y2="605.81" stroke="#e88fc0"/><line x1="454.02" y1="637.02" x2="489.78" y2="604.61" stroke="#e88fc0"/><line x1="459.98" y1="642.16" x2="494.23" y2="610.46" stroke="#e88fc0"/><line x1="466.14" y1="641.93" x2="501.24" y2="609.09" stroke="#e88fc0"/><line x1="473.57" y1="641.95" x2="500.67" y2="616.22" stroke="#ee9bbb"/><line x1="475.83" y1="645.07" x2="507.41" y2="614.76" stroke="#e88fc0"/><line x1="478.73" y1="649.46" x2="506.49" y2="622.41" stroke="#e88fc0"/><line x1="489.49" y1="648.16" x2="511.2" y2="626.57" stroke="#e88fc0"/><line x1="490.7" y1="654.14" x2="521.35" y2="623.16" stroke="#b684d9"/><line x1="496.79" y1="655.87" x2="522.3" y2="629.61" stroke="#e88fc0"/><line x1="503.91" y1="656.61" x2="529.2" y2="630.08" stroke="#ee9bbb"/><line x1="440.39" y1="628.38" x2="507.05" y2="657.68" stroke="#9db0e6"/><line x1="441.8" y1="625.2" x2="515.29" y2="658.16" stroke="#b3a2e0"/><line x1="447.31" y1="620.32" x2="523.23" y2="655.71" stroke="#9db0e6"/><line x1="447.79" y1="616.01" x2="523.91" y2="652.35" stroke="#93a6de"/><line x1="454.83" y1="615.62" x2="518.71" y2="646.72" stroke="#e59ac6"/><line x1="462.74" y1="615.28" x2="516.77" y2="642.18" stroke="#9db0e6"/><line x1="455.22" y1="606.37" x2="526.49" y2="642.79" stroke="#e59ac6"/><line x1="465.26" y1="605.64" x2="529.94" y2="639.71" stroke="#9db0e6"/><line x1="471" y1="601.4" x2="532.66" y2="635.12" stroke="#e59ac6"/></g>
<rect x="455.7" y="520.3" width="15.35" height="12.5" rx="1.6" fill="#f8660f"/>
<rect x="455.7" y="532.75" width="15.35" height="12.5" rx="1.6" fill="#f8660f"/>
<rect x="471" y="520.3" width="15.35" height="12.5" rx="1.6" fill="#f8660f"/>
<rect x="471" y="532.75" width="15.35" height="12.5" rx="1.6" fill="#f8660f"/>
<rect x="469.5" y="521.3" width="3" height="22.9" fill="#f8660f"/>
<rect x="456.7" y="531.25" width="28.6" height="3" fill="#f8660f"/>
<circle cx="471" cy="532.75" r="0.9" fill="#fff"/>
<circle cx="463.35" cy="526.52" r="2.3" fill="#2e75b6"/>
<circle cx="463.35" cy="538.98" r="2.3" fill="#2e75b6"/>
<circle cx="478.65" cy="526.52" r="2.3" fill="#2e75b6"/>
<circle cx="478.65" cy="538.98" r="2.3" fill="#2e75b6"/>
<g transform="translate(452.5 544.5) rotate(0) scale(0.65 0.65)">
<path d="M2.6 -10.4 C-3.4 -10.6 -7 -6 -6.4 -0.8 C-6 3.6 -2.6 6.6 1.8 7.2" fill="none" stroke="#f00" stroke-width="2.7" stroke-linecap="round"/>
<polygon points="10.16,4.83 1.46,14.12 -2.02,2.81" fill="#f00"/>
</g>
<rect x="457.3" y="655.9" width="15.85" height="12.75" rx="1.6" fill="#f8660f"/>
<rect x="473.1" y="655.9" width="15.85" height="12.75" rx="1.6" fill="#f8660f"/>
<rect x="471.6" y="656.9" width="3" height="10.7" fill="#f8660f"/>
<circle cx="465.2" cy="662.25" r="2.3" fill="#2e75b6"/>
<circle cx="481" cy="662.25" r="2.3" fill="#2e75b6"/>
<g transform="translate(489.4 655.2)"><path d="M0.8 7.4 C5.4 4.6 5.4 -0.6 0.4 -2.4" fill="none" stroke="#f00" stroke-width="1.3"/><polygon points="-6,-3 1.2,-7.2 1.6,1.4" fill="#f00"/></g>
<g transform="translate(460.7 597.2) rotate(0) scale(0.55)">
<path d="M0 -13.6C1.24 -13.87 0.63 -7.43 3.6 -6.8C6.57 -6.17 11.76 -12.24 13.2 -10.8C14.64 -9.36 9.55 -3.8 10 -0.4C10.45 3 15.2 2.52 15.2 4.3C15.2 6.08 12.61 4.98 10 7.5C7.39 10.02 5.76 14.96 3.6 15.5C1.44 16.04 3.71 11.34 0.4 9.9C-2.91 8.46 -9.68 10.9 -11.1 9.1C-12.52 7.3 -6.44 4.94 -5.9 1.9C-5.36 -1.14 -9.6 -2.71 -8.7 -4.4C-7.8 -6.09 -3.86 -3.53 -1.9 -5.6C0.06 -7.67 -1.24 -13.33 0 -13.6Z" fill="#b4c7e7" stroke="#000" stroke-width="2.6" stroke-linejoin="round"/>
<circle cx="0" cy="0" r="3.1" fill="#1f7ad1"/>
<ellipse cx="12.6" cy="11.4" rx="7" ry="2.3" transform="rotate(48 12.6 11.4)" fill="#2e75b6"/>
<ellipse cx="6.6" cy="13.4" rx="9.6" ry="3.3" transform="rotate(62 6.6 13.4)" fill="#7030a0"/>
<circle cx="9" cy="9.6" r="1.5" fill="#f6d0b8"/>
</g>
<g transform="translate(447 608.1) rotate(0) scale(0.55)">
<path d="M0 -13.6C1.24 -13.87 0.63 -7.43 3.6 -6.8C6.57 -6.17 11.76 -12.24 13.2 -10.8C14.64 -9.36 9.55 -3.8 10 -0.4C10.45 3 15.2 2.52 15.2 4.3C15.2 6.08 12.61 4.98 10 7.5C7.39 10.02 5.76 14.96 3.6 15.5C1.44 16.04 3.71 11.34 0.4 9.9C-2.91 8.46 -9.68 10.9 -11.1 9.1C-12.52 7.3 -6.44 4.94 -5.9 1.9C-5.36 -1.14 -9.6 -2.71 -8.7 -4.4C-7.8 -6.09 -3.86 -3.53 -1.9 -5.6C0.06 -7.67 -1.24 -13.33 0 -13.6Z" fill="#b4c7e7" stroke="#000" stroke-width="2.6" stroke-linejoin="round"/>
<circle cx="0" cy="0" r="3.1" fill="#1f7ad1"/>
<ellipse cx="12.6" cy="11.4" rx="7" ry="2.3" transform="rotate(48 12.6 11.4)" fill="#2e75b6"/>
<ellipse cx="6.6" cy="13.4" rx="9.6" ry="3.3" transform="rotate(62 6.6 13.4)" fill="#7030a0"/>
<circle cx="9" cy="9.6" r="1.5" fill="#f6d0b8"/>
</g>
<g transform="translate(433.5 619.9) rotate(0) scale(0.55)">
<path d="M0 -13.6C1.24 -13.87 0.63 -7.43 3.6 -6.8C6.57 -6.17 11.76 -12.24 13.2 -10.8C14.64 -9.36 9.55 -3.8 10 -0.4C10.45 3 15.2 2.52 15.2 4.3C15.2 6.08 12.61 4.98 10 7.5C7.39 10.02 5.76 14.96 3.6 15.5C1.44 16.04 3.71 11.34 0.4 9.9C-2.91 8.46 -9.68 10.9 -11.1 9.1C-12.52 7.3 -6.44 4.94 -5.9 1.9C-5.36 -1.14 -9.6 -2.71 -8.7 -4.4C-7.8 -6.09 -3.86 -3.53 -1.9 -5.6C0.06 -7.67 -1.24 -13.33 0 -13.6Z" fill="#b4c7e7" stroke="#000" stroke-width="2.6" stroke-linejoin="round"/>
<circle cx="0" cy="0" r="3.1" fill="#1f7ad1"/>
<ellipse cx="12.6" cy="11.4" rx="7" ry="2.3" transform="rotate(48 12.6 11.4)" fill="#2e75b6"/>
<ellipse cx="6.6" cy="13.4" rx="9.6" ry="3.3" transform="rotate(62 6.6 13.4)" fill="#7030a0"/>
<circle cx="9" cy="9.6" r="1.5" fill="#f6d0b8"/>
</g>
<circle cx="462.43" cy="626.01" r="1.57" fill="#8c1c1c"/>
<circle cx="466.04" cy="625.44" r="1.57" fill="#8c1c1c"/>
<circle cx="468.32" cy="627.91" r="1.57" fill="#8c1c1c"/>
<circle cx="461.67" cy="629.43" r="1.57" fill="#8c1c1c"/>
<circle cx="465.09" cy="628.67" r="1.57" fill="#8c1c1c"/>
<circle cx="467.18" cy="630.76" r="1.57" fill="#8c1c1c"/>
<circle cx="463.76" cy="631.33" r="1.57" fill="#8c1c1c"/>
<line x1="446" y1="620.2" x2="453.65" y2="624.03" stroke="#000" stroke-width="1"/>
<polygon points="459.2,626.8 452.31,626.71 455,621.34" fill="#000"/>
<line x1="470.8" y1="626" x2="478.35" y2="624.36" stroke="#000" stroke-width="1"/>
<polygon points="484.6,623 479,627.39 477.69,621.33" fill="#000"/>
<g transform="translate(499.2 624.8) rotate(4) scale(0.92)">
<path transform="translate(-2 -4.2) scale(1)" d="M-13 1.2 C-8.5 -1.8 -4.5 0.6 0 1.4 C5 2.2 9.6 -0.2 14.6 -4.4 C11 1.4 6 4.6 0.2 4 C-4.6 3.4 -8.6 0.8 -13 1.2Z" fill="#1e9b48"/>
<path transform="translate(0 0.2) scale(1)" d="M-13 1.2 C-8.5 -1.8 -4.5 0.6 0 1.4 C5 2.2 9.6 -0.2 14.6 -4.4 C11 1.4 6 4.6 0.2 4 C-4.6 3.4 -8.6 0.8 -13 1.2Z" fill="#2aa853"/>
<path transform="translate(-1.5 4.6) scale(0.92)" d="M-13 1.2 C-8.5 -1.8 -4.5 0.6 0 1.4 C5 2.2 9.6 -0.2 14.6 -4.4 C11 1.4 6 4.6 0.2 4 C-4.6 3.4 -8.6 0.8 -13 1.2Z" fill="#1e9b48"/>
<ellipse cx="5.2" cy="-2.6" rx="1.7" ry="1" fill="#8d8d8d"/><ellipse cx="7.2" cy="1.8" rx="1.6" ry="0.95" fill="#8d8d8d"/><ellipse cx="4.6" cy="6.3" rx="1.5" ry="0.9" fill="#8d8d8d"/>
</g>
<text x="469.2" y="639.5" font-size="8.6" font-weight="normal" text-anchor="start" fill="#000" textLength="27.7" lengthAdjust="spacingAndGlyphs" >TGF-β1</text>
<path d="M465.4 635.4L465.4 653.4M461 653.4L469.8 653.4" stroke="#000" stroke-width="1.9" fill="none"/>
<text x="501.2" y="593.5" font-size="8.6" font-weight="normal" text-anchor="start" fill="#222" textLength="43.5" lengthAdjust="spacingAndGlyphs" >Inhibition of</text>
<text x="501.2" y="603.8" font-size="8.6" font-weight="normal" text-anchor="start" fill="#222" textLength="44" lengthAdjust="spacingAndGlyphs" >proliferation</text>
<text x="407.7" y="561.8" font-size="8.6" font-weight="normal" text-anchor="start" fill="#222" textLength="30.5" lengthAdjust="spacingAndGlyphs" >Relief of</text>
<text x="407.7" y="572" font-size="8.6" font-weight="normal" text-anchor="start" fill="#222" textLength="44" lengthAdjust="spacingAndGlyphs" >proliferation</text>
<text x="407.7" y="582.2" font-size="8.6" font-weight="normal" text-anchor="start" fill="#222" textLength="33" lengthAdjust="spacingAndGlyphs" >inhibition</text>
<text x="446.9" y="583.8" font-size="8.6" font-weight="normal" text-anchor="start" fill="#111" textLength="18.4" lengthAdjust="spacingAndGlyphs" >RGD</text>
<polygon points="470.4,576.56 472.56,578.42 470.4,580.28 468.24,578.42" fill="#f00"/>
<polygon points="468.3,580.46 470.46,582.32 468.3,584.18 466.14,582.32" fill="#f00"/>
<polygon points="472.5,580.46 474.66,582.32 472.5,584.18 470.34,582.32" fill="#f00"/>
<path d="M474.9 582.2L488 587.9M487.12 589.92L488.88 585.88" stroke="#000" stroke-width="0.9" fill="none"/>
<g stroke-width="0.65" opacity="0.7" stroke-linecap="round"><line x1="470.41" y1="568.82" x2="487.69" y2="549.1" stroke="#b684d9"/><line x1="472.47" y1="571.96" x2="489.95" y2="551.32" stroke="#ee9bbb"/><line x1="475.93" y1="570.26" x2="492.59" y2="550.3" stroke="#e88fc0"/><line x1="478.34" y1="571.82" x2="491.87" y2="555.15" stroke="#e88fc0"/><line x1="481.07" y1="573.9" x2="496.25" y2="554.56" stroke="#b684d9"/><line x1="485.72" y1="571.32" x2="497.55" y2="555.95" stroke="#b684d9"/><line x1="485.72" y1="575.77" x2="502.21" y2="553.74" stroke="#e88fc0"/><line x1="486.67" y1="577.45" x2="500.41" y2="558.77" stroke="#e88fc0"/><line x1="471.32" y1="565.26" x2="490.7" y2="574.43" stroke="#e59ac6"/><line x1="472.75" y1="562.64" x2="493.19" y2="572.31" stroke="#b3a2e0"/><line x1="477.72" y1="561.16" x2="496.36" y2="569.97" stroke="#9db0e6"/><line x1="478.77" y1="557.53" x2="499.39" y2="567.26" stroke="#b3a2e0"/><line x1="483.35" y1="555.15" x2="500.26" y2="563.12" stroke="#93a6de"/><line x1="484.28" y1="551.52" x2="501.67" y2="559.71" stroke="#e59ac6"/></g>
<path d="M468.4 593.4 C482 596.4 499.5 590.4 505.4 575.4" fill="none" stroke="#29abe2" stroke-width="1.7"/>
<polygon points="506.6,570.2 501.6,577.2 509.2,578.6" fill="#29abe2"/>
<g transform="translate(511.2 562.9) rotate(0) scale(0.52)">
<path d="M0 -13.6C1.24 -13.87 0.63 -7.43 3.6 -6.8C6.57 -6.17 11.76 -12.24 13.2 -10.8C14.64 -9.36 9.55 -3.8 10 -0.4C10.45 3 15.2 2.52 15.2 4.3C15.2 6.08 12.61 4.98 10 7.5C7.39 10.02 5.76 14.96 3.6 15.5C1.44 16.04 3.71 11.34 0.4 9.9C-2.91 8.46 -9.68 10.9 -11.1 9.1C-12.52 7.3 -6.44 4.94 -5.9 1.9C-5.36 -1.14 -9.6 -2.71 -8.7 -4.4C-7.8 -6.09 -3.86 -3.53 -1.9 -5.6C0.06 -7.67 -1.24 -13.33 0 -13.6Z" fill="#b4c7e7" stroke="#000" stroke-width="2.6" stroke-linejoin="round"/>
<circle cx="0" cy="0" r="3.1" fill="#1f7ad1"/>
</g>
<ellipse cx="503.4" cy="562.6" rx="5.6" ry="1.7" fill="#7030a0" transform="rotate(-6 503.4 562.6)"/><ellipse cx="502" cy="561.0" rx="3.2" ry="1.2" fill="#2e75b6"/><circle cx="497" cy="562.4" r="1.4" fill="#f00"/>
<circle cx="482.2" cy="555.8" r="1.7" fill="#8c1c1c"/>
<circle cx="486.2" cy="555.6" r="1.7" fill="#8c1c1c"/>
<circle cx="484.2" cy="559" r="1.7" fill="#8c1c1c"/>
<circle cx="488" cy="558.6" r="1.7" fill="#8c1c1c"/>
<line x1="500" y1="554.6" x2="494.99" y2="554.88" stroke="#000" stroke-width="0.9"/>
<polygon points="489.4,555.2 494.83,552.09 495.15,557.68" fill="#000"/>
<path d="M481.4 553.8L474 546.9M475.77 545L472.23 548.8" stroke="#000" stroke-width="0.9" fill="none"/>
<line x1="483.2" y1="561" x2="482.62" y2="564.47" stroke="#000" stroke-width="0.9"/>
<polygon points="481.8,569.4 480.06,564.04 485.19,564.9" fill="#000"/>
<g transform="translate(475.2 569.4) rotate(16) scale(0.56)">
<path transform="translate(-2 -4.2) scale(1)" d="M-13 1.2 C-8.5 -1.8 -4.5 0.6 0 1.4 C5 2.2 9.6 -0.2 14.6 -4.4 C11 1.4 6 4.6 0.2 4 C-4.6 3.4 -8.6 0.8 -13 1.2Z" fill="#1e9b48"/>
<path transform="translate(0 0.2) scale(1)" d="M-13 1.2 C-8.5 -1.8 -4.5 0.6 0 1.4 C5 2.2 9.6 -0.2 14.6 -4.4 C11 1.4 6 4.6 0.2 4 C-4.6 3.4 -8.6 0.8 -13 1.2Z" fill="#2aa853"/>
<path transform="translate(-1.5 4.6) scale(0.92)" d="M-13 1.2 C-8.5 -1.8 -4.5 0.6 0 1.4 C5 2.2 9.6 -0.2 14.6 -4.4 C11 1.4 6 4.6 0.2 4 C-4.6 3.4 -8.6 0.8 -13 1.2Z" fill="#1e9b48"/>
<ellipse cx="5.2" cy="-2.6" rx="1.7" ry="1" fill="#8d8d8d"/><ellipse cx="7.2" cy="1.8" rx="1.6" ry="0.95" fill="#8d8d8d"/><ellipse cx="4.6" cy="6.3" rx="1.5" ry="0.9" fill="#8d8d8d"/>
</g>
<path d="M610.7 522.4V655H734.1" fill="none" stroke="#333" stroke-width="0.9"/>
<line x1="608.9" y1="528.5" x2="610.7" y2="528.5" stroke="#333" stroke-width="0.8"/>
<text x="607.3" y="531.5" font-size="8.3" font-weight="normal" text-anchor="end" fill="#222" >1.00</text>
<line x1="608.9" y1="558.8" x2="610.7" y2="558.8" stroke="#333" stroke-width="0.8"/>
<text x="607.3" y="561.8" font-size="8.3" font-weight="normal" text-anchor="end" fill="#222" >0.75</text>
<line x1="608.9" y1="589.1" x2="610.7" y2="589.1" stroke="#333" stroke-width="0.8"/>
<text x="607.3" y="592.1" font-size="8.3" font-weight="normal" text-anchor="end" fill="#222" >0.50</text>
<line x1="608.9" y1="619.4" x2="610.7" y2="619.4" stroke="#333" stroke-width="0.8"/>
<text x="607.3" y="622.4" font-size="8.3" font-weight="normal" text-anchor="end" fill="#222" >0.25</text>
<line x1="608.9" y1="649.7" x2="610.7" y2="649.7" stroke="#333" stroke-width="0.8"/>
<text x="607.3" y="652.7" font-size="8.3" font-weight="normal" text-anchor="end" fill="#222" >0.00</text>
<line x1="616.7" y1="655" x2="616.7" y2="656.8" stroke="#333" stroke-width="0.8"/>
<text x="616.7" y="666.8" font-size="8.3" font-weight="normal" text-anchor="middle" fill="#222" >D0</text>
<line x1="653.5" y1="655" x2="653.5" y2="656.8" stroke="#333" stroke-width="0.8"/>
<text x="653.5" y="666.8" font-size="8.3" font-weight="normal" text-anchor="middle" fill="#222" >D2</text>
<line x1="691" y1="655" x2="691" y2="656.8" stroke="#333" stroke-width="0.8"/>
<text x="691" y="666.8" font-size="8.3" font-weight="normal" text-anchor="middle" fill="#222" >D3</text>
<line x1="727.8" y1="655" x2="727.8" y2="656.8" stroke="#333" stroke-width="0.8"/>
<text x="727.8" y="666.8" font-size="8.3" font-weight="normal" text-anchor="middle" fill="#222" >D4</text>
<text transform="translate(581.8 589.7) rotate(-90)" font-size="8.6" text-anchor="middle" fill="#222">Score</text>
<text x="673" y="679.2" font-size="8.6" font-weight="normal" text-anchor="middle" fill="#222" >Time points</text>
<path d="M616.71 528.48C618.6 533.23 624.17 547.23 628.08 557.03C632 566.83 635.95 578.21 640.18 587.28C644.42 596.36 649.06 606.24 653.49 611.49C657.93 616.73 662.17 618.75 666.81 618.75C671.44 618.75 676.49 615.32 681.33 611.49C686.17 607.65 690.6 601 695.85 595.76C701.09 590.51 707.46 584.58 712.79 580.02C718.11 575.47 725.29 570.34 727.79 568.41" fill="none" stroke="#f8766d" stroke-width="1.1"/>
<path d="M616.71 557.03C619.01 559.65 625.38 567.8 630.5 572.76C635.63 577.73 641.39 583.49 647.44 586.8C653.49 590.11 660.76 592.53 666.81 592.61C672.86 592.69 678.1 591 683.75 587.28C689.39 583.57 695.44 576.8 700.69 570.34C705.93 563.89 710.69 555.42 715.21 548.56C719.73 541.71 725.7 532.43 727.79 529.2" fill="none" stroke="#7cae00" stroke-width="1.1"/>
<path d="M616.71 556.31C618.6 559.45 623.77 568.41 628.08 575.18C632.4 581.96 638.17 591.72 642.6 596.97C647.04 602.21 650.87 604.55 654.7 606.65C658.54 608.74 661.56 609.75 665.6 609.55C669.63 609.35 674.27 608.74 678.91 605.44C683.54 602.13 688.59 596.36 693.43 589.7C698.27 583.05 703.51 573.57 707.95 565.5C712.38 557.44 716.74 547.47 720.05 541.3C723.36 535.13 726.5 530.61 727.79 528.48" fill="none" stroke="#b58be0" stroke-width="1.1"/>
<path d="M622.03 595.03C623.85 591.32 629.09 580.91 632.92 572.76C636.76 564.62 641.19 553 645.02 546.14C648.86 539.29 652.49 534.65 655.91 531.62C659.34 528.6 662.17 527.91 665.6 527.99C669.02 528.07 672.25 528.68 676.49 532.11C680.72 535.53 686.17 541.79 691.01 548.56C695.85 555.34 700.69 564.7 705.53 572.76C710.37 580.83 715.29 589.91 720.05 596.97C724.81 604.02 731.75 612.09 734.09 615.12" fill="none" stroke="#2ec4cc" stroke-width="1.1"/>
<text x="629.3" y="537.7" font-size="8.6" font-weight="normal" text-anchor="start" fill="#222" textLength="81.8" lengthAdjust="spacingAndGlyphs" >Proliferation signature</text>
<text x="642.6" y="584.9" font-size="8.6" font-weight="normal" text-anchor="start" fill="#222" textLength="62.9" lengthAdjust="spacingAndGlyphs" >Zone 2 signature</text>
<text x="650.6" y="603" font-size="8.6" font-weight="normal" text-anchor="start" fill="#222" textLength="63.4" lengthAdjust="spacingAndGlyphs" >Zone 1 signature</text>
<text x="642.6" y="619.2" font-size="8.6" font-weight="normal" text-anchor="start" fill="#222" textLength="62.9" lengthAdjust="spacingAndGlyphs" >Zone 3 signature</text>
<rect x="21" y="701.6" width="25.2" height="20.2" rx="2.6" fill="#f8660f"/><ellipse cx="33.3" cy="712.8" rx="3.4" ry="3.2" fill="#2f75bc"/>
<text x="10.9" y="737" font-size="8.4" font-weight="normal" text-anchor="start" fill="#111" textLength="56.9" lengthAdjust="spacingAndGlyphs" >CYP2E1<tspan font-size="5.4" dy="-2.6">+</tspan><tspan dy="2.6"> RFP</tspan><tspan font-size="5.4" dy="-2.6">+</tspan></text>
<text x="10.9" y="747" font-size="8.4" font-weight="normal" text-anchor="start" fill="#111" textLength="45" lengthAdjust="spacingAndGlyphs" >hepatocytes</text>
<rect x="88.1" y="700.8" width="19.9" height="20.8" rx="2" fill="#f8c6d0"/><ellipse cx="99.1" cy="712.6" rx="4.4" ry="3.4" fill="#4a90d9" transform="rotate(25 99.1 712.6)"/>
<text x="73.8" y="738" font-size="8.4" font-weight="normal" text-anchor="start" fill="#111" textLength="56.5" lengthAdjust="spacingAndGlyphs" >CYP2E1<tspan font-size="5.4" dy="-2.6">-</tspan><tspan dy="2.6"> RFP</tspan><tspan font-size="5.4" dy="-2.6">-</tspan></text>
<text x="73.8" y="748" font-size="8.4" font-weight="normal" text-anchor="start" fill="#111" textLength="45" lengthAdjust="spacingAndGlyphs" >hepatocytes</text>
<g transform="translate(171.9 709.6) rotate(0) scale(1)">
<ellipse cx="11.2" cy="7.9" rx="7.6" ry="1.9" transform="rotate(42 11.2 7.9)" fill="#2e75b6"/>
<path d="M0 -13.6C1.24 -13.87 0.63 -7.43 3.6 -6.8C6.57 -6.17 11.76 -12.24 13.2 -10.8C14.64 -9.36 9.55 -3.8 10 -0.4C10.45 3 15.2 2.52 15.2 4.3C15.2 6.08 12.61 4.98 10 7.5C7.39 10.02 5.76 14.96 3.6 15.5C1.44 16.04 3.71 11.34 0.4 9.9C-2.91 8.46 -9.68 10.9 -11.1 9.1C-12.52 7.3 -6.44 4.94 -5.9 1.9C-5.36 -1.14 -9.6 -2.71 -8.7 -4.4C-7.8 -6.09 -3.86 -3.53 -1.9 -5.6C0.06 -7.67 -1.24 -13.33 0 -13.6Z" fill="#b4c7e7" stroke="#000" stroke-width="1.6" stroke-linejoin="round"/>
<circle cx="0" cy="0" r="3.1" fill="#1f7ad1"/>
<ellipse cx="8.6" cy="11.6" rx="7.6" ry="2.3" transform="rotate(56 8.6 11.6)" fill="#7030a0"/>
<ellipse cx="12.2" cy="9.0" rx="6.2" ry="1.8" transform="rotate(42 12.2 9)" fill="#2e75b6"/>
<circle cx="6.8" cy="8.6" r="0.9" fill="#f5d33c"/><circle cx="10.4" cy="14.2" r="0.9" fill="#f5d33c"/><circle cx="9.8" cy="9.2" r="1.2" fill="#f6d0b8"/>
</g>
<text x="137.3" y="737.3" font-size="8.4" font-weight="normal" text-anchor="start" fill="#111" textLength="98.1" lengthAdjust="spacingAndGlyphs" >Monocytes and monocyte-</text>
<text x="137.3" y="747.3" font-size="8.4" font-weight="normal" text-anchor="start" fill="#111" textLength="80.5" lengthAdjust="spacingAndGlyphs" >derived macrophages</text>
<polygon points="272.2,707.5 275.8,710.6 272.2,713.7 268.6,710.6" fill="#f00"/>
<polygon points="268.7,714 272.3,717.1 268.7,720.2 265.1,717.1" fill="#f00"/>
<polygon points="275.7,714 279.3,717.1 275.7,720.2 272.1,717.1" fill="#f00"/>
<text x="247.3" y="736.7" font-size="8.4" font-weight="normal" text-anchor="start" fill="#111" textLength="51.9" lengthAdjust="spacingAndGlyphs" >RGD peptides</text>
<g transform="translate(328.4 710.8) rotate(0) scale(1 1)">
<path d="M2.6 -10.4 C-3.4 -10.6 -7 -6 -6.4 -0.8 C-6 3.6 -2.6 6.6 1.8 7.2" fill="none" stroke="#f00" stroke-width="1.9" stroke-linecap="round"/>
<polygon points="8,5.6 2,12 -0.4,4.2" fill="#f00"/>
</g>
<text x="310.5" y="736.7" font-size="8.4" font-weight="normal" text-anchor="start" fill="#111" textLength="45.2" lengthAdjust="spacingAndGlyphs" >Proliferation</text>
<line x1="370.7" y1="713.9" x2="380.7" y2="713.9" stroke="#000" stroke-width="1.1"/>
<polygon points="386.3,713.9 380.7,716.8 380.7,711" fill="#000"/>
<text x="364" y="736.7" font-size="8.4" font-weight="normal" text-anchor="start" fill="#111" textLength="37.2" lengthAdjust="spacingAndGlyphs" >Promotion</text>
<defs><linearGradient id="rg" x1="0" y1="1" x2="1" y2="0"><stop offset="0" stop-color="#29abe2" stop-opacity="0.15"/><stop offset="0.5" stop-color="#29abe2" stop-opacity="0.8"/><stop offset="1" stop-color="#29abe2"/></linearGradient></defs>
<path d="M412.9 717.6 C422 717 429 713 433.4 707.2" fill="none" stroke="url(#rg)" stroke-width="1.1"/>
<polygon points="435.6,704.4 430.9,707.6 434.8,709.9" fill="#29abe2"/>
<text x="407.9" y="736.7" font-size="8.4" font-weight="normal" text-anchor="start" fill="#111" textLength="35.6" lengthAdjust="spacingAndGlyphs" >Retention</text>
<path d="M461.3 716.6 C464.4 714.4 466.6 712.4 469.6 712 C473.4 711.6 476.4 713.4 479.8 713.4 C485 713.4 489 711.8 493.2 709.6 C491 713 488.8 715.4 486 716.8 C483.6 718 481.6 718.3 479.2 718.2 C475.6 718 473.2 716.4 470.2 715.8 C467.2 715.3 464.4 715.8 461.3 716.6Z" fill="#2bb04a"/><ellipse cx="482" cy="715.4" rx="2.2" ry="1.2" fill="#8d8d8d" transform="rotate(-8 482 715.4)"/>
<text x="453.2" y="737" font-size="8.4" font-weight="normal" text-anchor="start" fill="#111" textLength="63.8" lengthAdjust="spacingAndGlyphs" >Activated hepatic</text>
<text x="453.2" y="747" font-size="8.4" font-weight="normal" text-anchor="start" fill="#111" textLength="46.2" lengthAdjust="spacingAndGlyphs" >stellate cells</text>
<circle cx="536.7" cy="713.5" r="2.8" fill="#8c1c1c"/>
<circle cx="544.7" cy="713.5" r="2.8" fill="#8c1c1c"/>
<circle cx="540.6" cy="719.4" r="2.8" fill="#8c1c1c"/>
<text x="527.1" y="737" font-size="8.4" font-weight="normal" text-anchor="start" fill="#111" textLength="28.1" lengthAdjust="spacingAndGlyphs" >TGF-β1</text>
<g fill="#f5e23a" stroke="#6a2fa0" stroke-width="1.1"><ellipse cx="587.6" cy="718.6" rx="5" ry="2.2" transform="rotate(-18 587.6 718.6)"/><ellipse cx="596.4" cy="716.8" rx="3.4" ry="2.2"/><ellipse cx="602.6" cy="716.6" rx="3.2" ry="2" transform="rotate(-10 602.6 716.6)"/></g>
<g fill="none" stroke="#2e75b6" stroke-width="1.0"><ellipse cx="586.4" cy="714.8" rx="3.8" ry="1.8" transform="rotate(-20 586.4 714.8)"/><path d="M594.6 714.6 C594 711 596.4 708.6 598.6 709.8 C600.6 707.2 603.8 708.4 602.6 711.2 M598.6 709.8 C598.2 712.4 599.4 714.4 601.6 714.8"/></g>
<ellipse cx="592.4" cy="713.2" rx="2.2" ry="1.4" fill="#f6c9b4"/>
<text x="569.3" y="737" font-size="8.4" font-weight="normal" text-anchor="start" fill="#111" textLength="63.4" lengthAdjust="spacingAndGlyphs" >RGD-recognizing</text>
<text x="569.3" y="747" font-size="8.4" font-weight="normal" text-anchor="start" fill="#111" textLength="32.1" lengthAdjust="spacingAndGlyphs" >integrins</text>
<path d="M656.9 708.8V722.2M653.2 722.2H660.8" stroke="#000" stroke-width="1.2" fill="none"/>
<text x="642.8" y="737" font-size="8.4" font-weight="normal" text-anchor="start" fill="#111" textLength="34.9" lengthAdjust="spacingAndGlyphs" >Inhibition</text>
<g stroke-width="0.7" opacity="0.8" stroke-linecap="round"><line x1="693.93" y1="714.36" x2="715.08" y2="698.24" stroke="#dd8fd0"/><line x1="693.72" y1="716.06" x2="715.1" y2="700.49" stroke="#ee9bbb"/><line x1="695.95" y1="715.78" x2="716.9" y2="701.13" stroke="#ee9bbb"/><line x1="697.05" y1="716.72" x2="717.88" y2="702.91" stroke="#dd8fd0"/><line x1="698.99" y1="717.57" x2="719.06" y2="705.16" stroke="#dd8fd0"/><line x1="698.34" y1="719.05" x2="722.83" y2="704.46" stroke="#b684d9"/><line x1="703.43" y1="717.83" x2="722.22" y2="707.29" stroke="#e88fc0"/><line x1="705.51" y1="717.55" x2="727.15" y2="705.78" stroke="#dd8fd0"/><line x1="701.62" y1="721.72" x2="723.99" y2="710.5" stroke="#dd8fd0"/><line x1="706.37" y1="720.01" x2="725.85" y2="710.49" stroke="#dd8fd0"/><line x1="707.55" y1="720.99" x2="730.28" y2="710.54" stroke="#ee9bbb"/><line x1="696.48" y1="712.72" x2="708.15" y2="720.23" stroke="#9db0e6"/><line x1="697.07" y1="709.58" x2="713.59" y2="720.45" stroke="#9db0e6"/><line x1="701.46" y1="709.53" x2="716.72" y2="719.74" stroke="#9db0e6"/><line x1="703.16" y1="707.06" x2="717.07" y2="716.54" stroke="#b3a2e0"/><line x1="706.07" y1="704.02" x2="723.17" y2="715.95" stroke="#93a6de"/><line x1="708.11" y1="701.94" x2="727.45" y2="715.62" stroke="#e59ac6"/><line x1="709.69" y1="700.48" x2="727.15" y2="712.96" stroke="#93a6de"/></g>
<text x="685.7" y="737" font-size="8.4" font-weight="normal" text-anchor="start" fill="#111" textLength="59.5" lengthAdjust="spacingAndGlyphs" >RGD-containing</text>
<text x="685.7" y="747" font-size="8.4" font-weight="normal" text-anchor="start" fill="#111" textLength="18.1" lengthAdjust="spacingAndGlyphs" >ECM</text>
</svg>
</body></html>
